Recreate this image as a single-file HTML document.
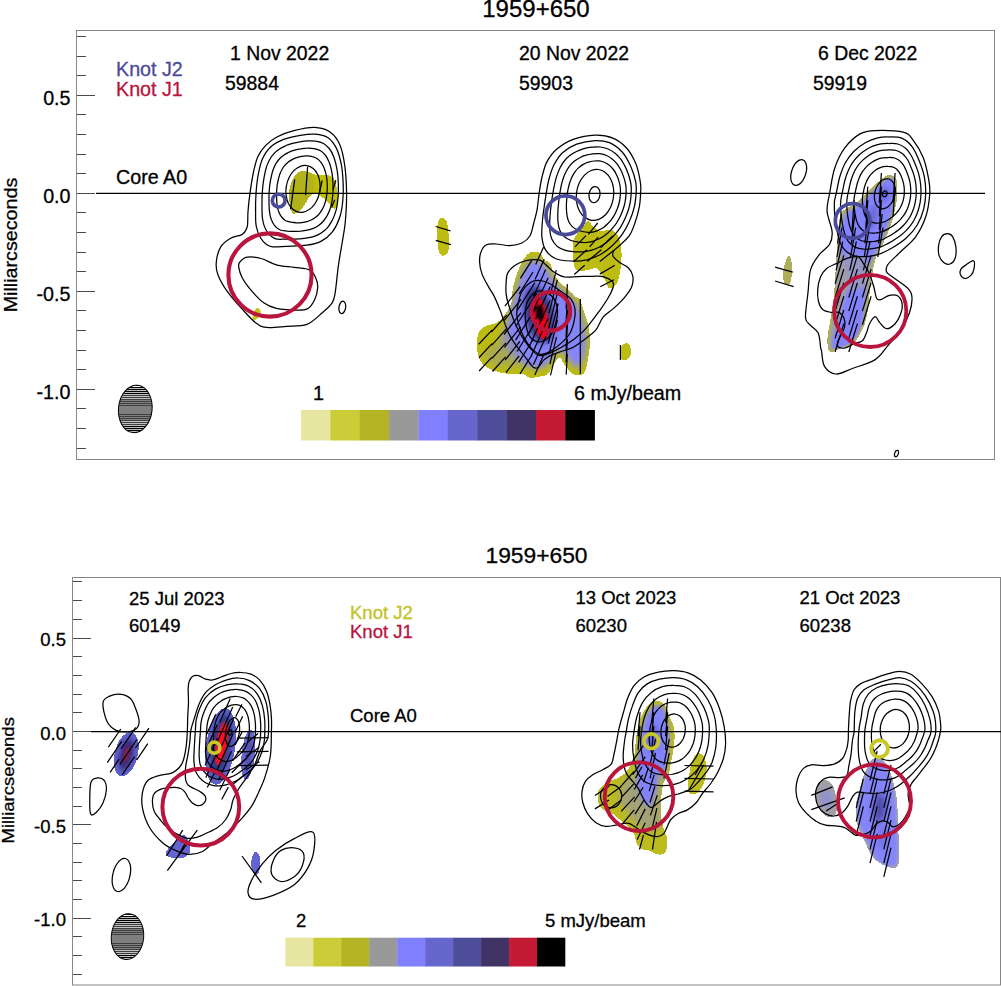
<!DOCTYPE html><html><head><meta charset="utf-8"><title>1959+650</title><style>html,body{margin:0;padding:0;background:#fff;overflow:hidden}svg{display:block}text{font-family:"Liberation Sans",sans-serif;fill:#000;stroke:#000;stroke-width:0.3px;paint-order:stroke}</style></head><body><svg width="1001" height="986" viewBox="0 0 1001 986"><rect width="1001" height="986" fill="#fff"/><defs><filter id="bl1" x="-40%" y="-40%" width="180%" height="180%"><feGaussianBlur stdDeviation="1.3"/></filter><filter id="bl2" x="-40%" y="-40%" width="180%" height="180%"><feGaussianBlur stdDeviation="2.2"/></filter><filter id="bl3" x="-40%" y="-40%" width="180%" height="180%"><feGaussianBlur stdDeviation="3.0"/></filter></defs><g id="top"><clipPath id="s1clip"><path d="M300 171h6v1h-6zM298 172.0h12v1h-12zM297 173.0h15v1h-15zM296 174.0h19v1h-19zM295 175.0h34v1h-34zM294 176.0h37v1h-37zM294 177.0h39v1h-39zM293 178.0h41v1h-41zM293 179.0h41v1h-41zM292 180.0h43v1h-43zM292 181.0h43v1h-43zM291 182.0h45v1h-45zM291 183.0h45v1h-45zM291 184.0h45v1h-45zM290 185.0h46v1h-46zM290 186.0h46v1h-46zM290 187.0h47v1h-47zM290 188.0h47v1h-47zM289 189.0h48v1h-48zM289 190.0h48v1h-48zM289 191.0h48v1h-48zM289 192.0h48v1h-48zM289 193.0h49v1h-49zM289 194.0h23v1h-23zM319 194.0h19v1h-19zM289 195.0h22v1h-22zM320 195.0h18v1h-18zM289 196.0h21v1h-21zM321 196.0h17v1h-17zM289 197.0h20v1h-20zM322 197.0h16v1h-16zM289 198.0h19v1h-19zM324 198.0h14v1h-14zM289 199.0h19v1h-19zM325 199.0h13v1h-13zM289 200.0h18v1h-18zM326 200.0h12v1h-12zM289 201.0h18v1h-18zM327 201.0h11v1h-11zM290 202.0h16v1h-16zM328 202.0h10v1h-10zM290 203.0h15v1h-15zM329 203.0h8v1h-8zM290 204.0h15v1h-15zM330 204.0h7v1h-7zM290 205.0h14v1h-14zM330 205.0h7v1h-7zM290 206.0h13v1h-13zM331 206.0h5v1h-5zM291 207.0h12v1h-12zM332 207.0h4v1h-4zM291 208.0h11v1h-11zM334 208.0h1v1h-1zM291 209.0h10v1h-10zM291 210.0h9v1h-9zM292 211.0h7v1h-7zM292 212.0h6v1h-6zM293 213.0h2v1h-2z"/></clipPath><path d="M300 171h6v1h-6zM298 172.0h12v1h-12zM297 173.0h15v1h-15zM296 174.0h19v1h-19zM295 175.0h34v1h-34zM294 176.0h37v1h-37zM294 177.0h39v1h-39zM293 178.0h41v1h-41zM293 179.0h41v1h-41zM292 180.0h43v1h-43zM292 181.0h43v1h-43zM291 182.0h45v1h-45zM291 183.0h45v1h-45zM291 184.0h45v1h-45zM290 185.0h46v1h-46zM290 186.0h46v1h-46zM290 187.0h47v1h-47zM290 188.0h47v1h-47zM289 189.0h48v1h-48zM289 190.0h48v1h-48zM289 191.0h48v1h-48zM289 192.0h48v1h-48zM289 193.0h49v1h-49zM289 194.0h23v1h-23zM319 194.0h19v1h-19zM289 195.0h22v1h-22zM320 195.0h18v1h-18zM289 196.0h21v1h-21zM321 196.0h17v1h-17zM289 197.0h20v1h-20zM322 197.0h16v1h-16zM289 198.0h19v1h-19zM324 198.0h14v1h-14zM289 199.0h19v1h-19zM325 199.0h13v1h-13zM289 200.0h18v1h-18zM326 200.0h12v1h-12zM289 201.0h18v1h-18zM327 201.0h11v1h-11zM290 202.0h16v1h-16zM328 202.0h10v1h-10zM290 203.0h15v1h-15zM329 203.0h8v1h-8zM290 204.0h15v1h-15zM330 204.0h7v1h-7zM290 205.0h14v1h-14zM330 205.0h7v1h-7zM290 206.0h13v1h-13zM331 206.0h5v1h-5zM291 207.0h12v1h-12zM332 207.0h4v1h-4zM291 208.0h11v1h-11zM334 208.0h1v1h-1zM291 209.0h10v1h-10zM291 210.0h9v1h-9zM292 211.0h7v1h-7zM292 212.0h6v1h-6zM293 213.0h2v1h-2z" fill="#c0c008"/><g clip-path="url(#s1clip)"><path d="M301.0 169.7C303.6 169.2 307.4 169.5 309.5 171.1C311.6 172.8 313.2 175.8 313.8 179.6C314.4 183.4 314.2 189.6 313.1 193.8C311.9 198.1 309.2 201.6 306.7 205.2C304.2 208.7 301.0 213.5 298.2 215.1C295.3 216.8 291.5 217.7 289.6 215.1C287.7 212.5 287.0 204.7 286.8 199.5C286.6 194.3 287.0 188.2 288.2 183.9C289.4 179.6 291.8 176.3 293.9 174.0C296.0 171.6 298.4 170.2 301.0 169.7Z" fill="#b2b21e" filter="url(#bl1)"/></g><path d="M256.1 308.4C257.2 307.4 259.1 308.5 259.9 309.4C260.6 310.4 261.1 312.7 260.6 314.2C260.2 315.8 258.5 317.6 257.3 318.6C256.1 319.5 254.3 320.6 253.5 320.1C252.8 319.6 252.3 317.5 252.8 315.5C253.2 313.6 254.9 309.4 256.1 308.4Z" fill="#c3c31a"/><clipPath id="s2clip"><path d="M530 252.0h9v1h-9zM529 253.0h12v1h-12zM527 254.0h14v1h-14zM526 255.0h16v1h-16zM526 256.0h16v1h-16zM525 257.0h18v1h-18zM524 258.0h19v1h-19zM523 259.0h21v1h-21zM523 260.0h22v1h-22zM522 261.0h26v1h-26zM522 262.0h27v1h-27zM521 263.0h29v1h-29zM521 264.0h30v1h-30zM520 265.0h31v1h-31zM520 266.0h31v1h-31zM519 267.0h33v1h-33zM519 268.0h33v1h-33zM519 269.0h33v1h-33zM518 270.0h34v1h-34zM518 271.0h35v1h-35zM517 272.0h36v1h-36zM517 273.0h37v1h-37zM517 274.0h37v1h-37zM516 275.0h39v1h-39zM516 276.0h39v1h-39zM516 277.0h40v1h-40zM515 278.0h42v1h-42zM515 279.0h43v1h-43zM515 280.0h43v1h-43zM515 281.0h44v1h-44zM514 282.0h46v1h-46zM514 283.0h47v1h-47zM514 284.0h48v1h-48zM513 285.0h50v1h-50zM513 286.0h52v1h-52zM513 287.0h53v1h-53zM513 288.0h54v1h-54zM513 289.0h55v1h-55zM513 290.0h56v1h-56zM512 291.0h58v1h-58zM512 292.0h59v1h-59zM512 293.0h61v1h-61zM512 294.0h61v1h-61zM512 295.0h62v1h-62zM512 296.0h63v1h-63zM512 297.0h65v1h-65zM512 298.0h67v1h-67zM512 299.0h68v1h-68zM512 300.0h68v1h-68zM512 301.0h69v1h-69zM511 302.0h70v1h-70zM511 303.0h70v1h-70zM511 304.0h71v1h-71zM510 305.0h72v1h-72zM510 306.0h72v1h-72zM509 307.0h74v1h-74zM509 308.0h74v1h-74zM508 309.0h75v1h-75zM508 310.0h76v1h-76zM507 311.0h77v1h-77zM506 312.0h78v1h-78zM506 313.0h79v1h-79zM505 314.0h80v1h-80zM504 315.0h81v1h-81zM503 316.0h83v1h-83zM503 317.0h83v1h-83zM502 318.0h84v1h-84zM501 319.0h86v1h-86zM500 320.0h87v1h-87zM498 321.0h89v1h-89zM497 322.0h91v1h-91zM495 323.0h93v1h-93zM491 324.0h97v1h-97zM487 325.0h101v1h-101zM485 326.0h104v1h-104zM483 327.0h106v1h-106zM482 328.0h107v1h-107zM481 329.0h108v1h-108zM480 330.0h109v1h-109zM479 331.0h110v1h-110zM479 332.0h110v1h-110zM478 333.0h112v1h-112zM478 334.0h112v1h-112zM478 335.0h112v1h-112zM478 336.0h112v1h-112zM477 337.0h113v1h-113zM477 338.0h113v1h-113zM477 339.0h113v1h-113zM477 340.0h113v1h-113zM477 341.0h113v1h-113zM477 342.0h113v1h-113zM477 343.0h113v1h-113zM477 344.0h113v1h-113zM477 345.0h113v1h-113zM477 346.0h113v1h-113zM477 347.0h113v1h-113zM477 348.0h113v1h-113zM477 349.0h112v1h-112zM477 350.0h112v1h-112zM477 351.0h112v1h-112zM478 352.0h111v1h-111zM478 353.0h111v1h-111zM478 354.0h111v1h-111zM478 355.0h111v1h-111zM479 356.0h109v1h-109zM479 357.0h109v1h-109zM479 358.0h79v1h-79zM561 358.0h27v1h-27zM480 359.0h77v1h-77zM562 359.0h26v1h-26zM480 360.0h76v1h-76zM562 360.0h26v1h-26zM481 361.0h75v1h-75zM562 361.0h26v1h-26zM482 362.0h73v1h-73zM563 362.0h24v1h-24zM482 363.0h72v1h-72zM564 363.0h23v1h-23zM483 364.0h70v1h-70zM564 364.0h23v1h-23zM484 365.0h69v1h-69zM565 365.0h22v1h-22zM486 366.0h66v1h-66zM566 366.0h21v1h-21zM487 367.0h65v1h-65zM567 367.0h19v1h-19zM489 368.0h62v1h-62zM568 368.0h18v1h-18zM491 369.0h60v1h-60zM568 369.0h18v1h-18zM494 370.0h56v1h-56zM569 370.0h16v1h-16zM497 371.0h53v1h-53zM570 371.0h15v1h-15zM500 372.0h49v1h-49zM571 372.0h13v1h-13zM506 373.0h42v1h-42zM572 373.0h12v1h-12zM524 374.0h23v1h-23zM574 374.0h8v1h-8zM526 375.0h19v1h-19zM527 376.0h13v1h-13zM529 377.0h6v1h-6z"/></clipPath><path d="M530 252.0h9v1h-9zM529 253.0h12v1h-12zM527 254.0h14v1h-14zM526 255.0h16v1h-16zM526 256.0h16v1h-16zM525 257.0h18v1h-18zM524 258.0h19v1h-19zM523 259.0h21v1h-21zM523 260.0h22v1h-22zM522 261.0h26v1h-26zM522 262.0h27v1h-27zM521 263.0h29v1h-29zM521 264.0h30v1h-30zM520 265.0h31v1h-31zM520 266.0h31v1h-31zM519 267.0h33v1h-33zM519 268.0h33v1h-33zM519 269.0h33v1h-33zM518 270.0h34v1h-34zM518 271.0h35v1h-35zM517 272.0h36v1h-36zM517 273.0h37v1h-37zM517 274.0h37v1h-37zM516 275.0h39v1h-39zM516 276.0h39v1h-39zM516 277.0h40v1h-40zM515 278.0h42v1h-42zM515 279.0h43v1h-43zM515 280.0h43v1h-43zM515 281.0h44v1h-44zM514 282.0h46v1h-46zM514 283.0h47v1h-47zM514 284.0h48v1h-48zM513 285.0h50v1h-50zM513 286.0h52v1h-52zM513 287.0h53v1h-53zM513 288.0h54v1h-54zM513 289.0h55v1h-55zM513 290.0h56v1h-56zM512 291.0h58v1h-58zM512 292.0h59v1h-59zM512 293.0h61v1h-61zM512 294.0h61v1h-61zM512 295.0h62v1h-62zM512 296.0h63v1h-63zM512 297.0h65v1h-65zM512 298.0h67v1h-67zM512 299.0h68v1h-68zM512 300.0h68v1h-68zM512 301.0h69v1h-69zM511 302.0h70v1h-70zM511 303.0h70v1h-70zM511 304.0h71v1h-71zM510 305.0h72v1h-72zM510 306.0h72v1h-72zM509 307.0h74v1h-74zM509 308.0h74v1h-74zM508 309.0h75v1h-75zM508 310.0h76v1h-76zM507 311.0h77v1h-77zM506 312.0h78v1h-78zM506 313.0h79v1h-79zM505 314.0h80v1h-80zM504 315.0h81v1h-81zM503 316.0h83v1h-83zM503 317.0h83v1h-83zM502 318.0h84v1h-84zM501 319.0h86v1h-86zM500 320.0h87v1h-87zM498 321.0h89v1h-89zM497 322.0h91v1h-91zM495 323.0h93v1h-93zM491 324.0h97v1h-97zM487 325.0h101v1h-101zM485 326.0h104v1h-104zM483 327.0h106v1h-106zM482 328.0h107v1h-107zM481 329.0h108v1h-108zM480 330.0h109v1h-109zM479 331.0h110v1h-110zM479 332.0h110v1h-110zM478 333.0h112v1h-112zM478 334.0h112v1h-112zM478 335.0h112v1h-112zM478 336.0h112v1h-112zM477 337.0h113v1h-113zM477 338.0h113v1h-113zM477 339.0h113v1h-113zM477 340.0h113v1h-113zM477 341.0h113v1h-113zM477 342.0h113v1h-113zM477 343.0h113v1h-113zM477 344.0h113v1h-113zM477 345.0h113v1h-113zM477 346.0h113v1h-113zM477 347.0h113v1h-113zM477 348.0h113v1h-113zM477 349.0h112v1h-112zM477 350.0h112v1h-112zM477 351.0h112v1h-112zM478 352.0h111v1h-111zM478 353.0h111v1h-111zM478 354.0h111v1h-111zM478 355.0h111v1h-111zM479 356.0h109v1h-109zM479 357.0h109v1h-109zM479 358.0h79v1h-79zM561 358.0h27v1h-27zM480 359.0h77v1h-77zM562 359.0h26v1h-26zM480 360.0h76v1h-76zM562 360.0h26v1h-26zM481 361.0h75v1h-75zM562 361.0h26v1h-26zM482 362.0h73v1h-73zM563 362.0h24v1h-24zM482 363.0h72v1h-72zM564 363.0h23v1h-23zM483 364.0h70v1h-70zM564 364.0h23v1h-23zM484 365.0h69v1h-69zM565 365.0h22v1h-22zM486 366.0h66v1h-66zM566 366.0h21v1h-21zM487 367.0h65v1h-65zM567 367.0h19v1h-19zM489 368.0h62v1h-62zM568 368.0h18v1h-18zM491 369.0h60v1h-60zM568 369.0h18v1h-18zM494 370.0h56v1h-56zM569 370.0h16v1h-16zM497 371.0h53v1h-53zM570 371.0h15v1h-15zM500 372.0h49v1h-49zM571 372.0h13v1h-13zM506 373.0h42v1h-42zM572 373.0h12v1h-12zM524 374.0h23v1h-23zM574 374.0h8v1h-8zM526 375.0h19v1h-19zM527 376.0h13v1h-13zM529 377.0h6v1h-6z" fill="#bcbc12"/><path d="M587 221.0h2v1h-2zM586 222.0h4v1h-4zM585 223.0h6v1h-6zM585 224.0h6v1h-6zM584 225.0h8v1h-8zM583 226.0h10v1h-10zM582 227.0h12v1h-12zM582 228.0h14v1h-14zM581 229.0h16v1h-16zM580 230.0h18v1h-18zM605 230.0h8v1h-8zM579 231.0h35v1h-35zM578 232.0h37v1h-37zM577 233.0h39v1h-39zM577 234.0h40v1h-40zM576 235.0h42v1h-42zM575 236.0h43v1h-43zM575 237.0h44v1h-44zM574 238.0h45v1h-45zM574 239.0h45v1h-45zM573 240.0h47v1h-47zM573 241.0h47v1h-47zM573 242.0h47v1h-47zM573 243.0h47v1h-47zM573 244.0h48v1h-48zM573 245.0h48v1h-48zM573 246.0h48v1h-48zM573 247.0h48v1h-48zM573 248.0h48v1h-48zM573 249.0h48v1h-48zM573 250.0h48v1h-48zM573 251.0h48v1h-48zM573 252.0h48v1h-48zM573 253.0h49v1h-49zM573 254.0h49v1h-49zM573 255.0h49v1h-49zM573 256.0h49v1h-49zM573 257.0h48v1h-48zM573 258.0h48v1h-48zM573 259.0h48v1h-48zM573 260.0h48v1h-48zM573 261.0h48v1h-48zM574 262.0h47v1h-47zM574 263.0h47v1h-47zM574 264.0h47v1h-47zM574 265.0h47v1h-47zM574 266.0h47v1h-47zM575 267.0h46v1h-46zM575 268.0h18v1h-18zM597 268.0h24v1h-24zM576 269.0h14v1h-14zM598 269.0h22v1h-22zM578 270.0h7v1h-7zM599 270.0h21v1h-21zM600 271.0h20v1h-20zM600 272.0h20v1h-20zM601 273.0h19v1h-19zM602 274.0h18v1h-18zM602 275.0h17v1h-17zM603 276.0h16v1h-16zM603 277.0h16v1h-16zM604 278.0h15v1h-15zM605 279.0h13v1h-13zM605 280.0h13v1h-13zM606 281.0h12v1h-12zM606 282.0h11v1h-11zM606 283.0h11v1h-11zM607 284.0h9v1h-9zM607 285.0h8v1h-8zM608 286.0h6v1h-6zM608 287.0h5v1h-5zM625 343.0h3v1h-3zM623 344.0h6v1h-6zM622 345.0h8v1h-8zM621 346.0h9v1h-9zM621 347.0h9v1h-9zM621 348.0h10v1h-10zM620 349.0h11v1h-11zM620 350.0h11v1h-11zM620 351.0h11v1h-11zM620 352.0h11v1h-11zM620 353.0h11v1h-11zM620 354.0h11v1h-11zM620 355.0h10v1h-10zM621 356.0h9v1h-9zM621 357.0h8v1h-8zM621 358.0h7v1h-7zM622 359.0h5v1h-5zM440 218.0h4v1h-4zM439 219.0h6v1h-6zM439 220.0h7v1h-7zM438 221.0h9v1h-9zM438 222.0h9v1h-9zM438 223.0h9v1h-9zM438 224.0h9v1h-9zM437 225.0h11v1h-11zM437 226.0h11v1h-11zM437 227.0h11v1h-11zM437 228.0h11v1h-11zM437 229.0h11v1h-11zM437 230.0h11v1h-11zM437 231.0h11v1h-11zM437 232.0h11v1h-11zM437 233.0h12v1h-12zM437 234.0h12v1h-12zM437 235.0h12v1h-12zM437 236.0h12v1h-12zM437 237.0h12v1h-12zM437 238.0h12v1h-12zM437 239.0h12v1h-12zM437 240.0h12v1h-12zM437 241.0h12v1h-12zM438 242.0h11v1h-11zM438 243.0h11v1h-11zM438 244.0h11v1h-11zM438 245.0h11v1h-11zM438 246.0h11v1h-11zM438 247.0h11v1h-11zM438 248.0h11v1h-11zM438 249.0h11v1h-11zM439 250.0h9v1h-9zM439 251.0h9v1h-9zM439 252.0h9v1h-9zM440 253.0h7v1h-7zM441 254.0h5v1h-5zM442 255.0h2v1h-2z" fill="#bcbc12"/><g clip-path="url(#s2clip)"><path d="M532.9 260.0C535.5 260.0 540.1 260.8 542.9 263.0C545.7 265.1 547.8 269.6 549.9 272.9C552.0 276.3 553.2 279.9 555.5 282.9C557.8 285.9 561.2 288.5 563.9 290.9C566.6 293.4 569.4 294.7 571.9 297.5C574.4 300.4 576.8 303.5 578.9 307.9C580.9 312.3 583.0 318.6 584.3 323.9C585.5 329.2 586.3 334.2 586.3 339.9C586.2 345.5 585.3 353.2 583.9 357.9C582.5 362.5 580.3 367.4 577.9 367.9C575.5 368.4 572.5 363.9 569.5 360.9C566.5 357.9 562.8 350.2 559.9 349.9C557.0 349.5 554.6 356.0 551.9 358.9C549.2 361.7 547.1 365.4 543.9 366.9C540.8 368.4 536.8 368.5 532.9 367.9C529.1 367.2 524.6 365.2 520.9 362.9C517.3 360.5 513.9 357.4 510.9 353.9C508.0 350.4 503.5 347.5 503.0 341.9C502.5 336.2 506.2 326.9 508.0 319.9C509.7 312.9 511.9 305.7 513.5 299.9C515.1 294.1 516.1 289.5 517.5 284.9C519.0 280.3 520.7 276.0 522.3 272.3C524.0 268.7 525.8 265.0 527.5 263.0C529.3 260.9 530.4 260.0 532.9 260.0Z" fill="#8585fa" filter="url(#bl3)"/><path d="M508.0 331.9C505.0 330.6 503.0 337.2 500.0 339.9C497.0 342.5 492.6 345.2 490.0 347.9C487.3 350.5 483.6 353.2 484.0 355.9C484.3 358.5 488.3 362.2 492.0 363.9C495.6 365.5 501.3 365.9 506.0 365.9C510.6 365.9 517.9 366.9 519.9 363.9C521.9 360.9 519.9 353.2 517.9 347.9C515.9 342.5 510.9 333.2 508.0 331.9Z" fill="#9a9a8a" opacity="0.55" filter="url(#bl3)"/><path d="M553.2 311.5C554.1 315.6 554.5 320.2 554.4 324.1C554.3 328.0 553.6 331.9 552.6 334.8C551.5 337.7 549.8 340.1 548.0 341.5C546.2 342.8 543.9 343.3 541.7 342.8C539.5 342.3 537.0 340.8 534.9 338.6C532.7 336.3 530.5 333.0 528.8 329.5C527.2 326.0 525.7 321.6 524.8 317.5C523.9 313.4 523.5 308.8 523.6 304.9C523.7 301.0 524.4 297.1 525.4 294.2C526.5 291.3 528.2 288.9 530.0 287.5C531.8 286.2 534.1 285.7 536.3 286.2C538.5 286.7 541.0 288.2 543.1 290.4C545.3 292.7 547.5 296.0 549.2 299.5C550.8 303.0 552.3 307.4 553.2 311.5Z" fill="#38388c" filter="url(#bl3)"/><path d="M549.3 313.9C550.0 317.3 550.4 321.1 550.5 324.3C550.5 327.5 550.2 330.7 549.5 333.1C548.8 335.4 547.8 337.4 546.5 338.4C545.3 339.5 543.7 339.8 542.2 339.3C540.6 338.9 538.9 337.5 537.3 335.7C535.7 333.8 534.1 331.0 532.9 328.1C531.6 325.1 530.4 321.5 529.7 318.1C529.0 314.7 528.6 310.9 528.5 307.7C528.5 304.5 528.8 301.3 529.5 298.9C530.2 296.6 531.2 294.6 532.5 293.6C533.7 292.5 535.3 292.2 536.8 292.7C538.4 293.1 540.1 294.5 541.7 296.3C543.3 298.2 544.9 301.0 546.1 303.9C547.4 306.9 548.6 310.5 549.3 313.9Z" fill="#2a3a80" filter="url(#bl2)"/><path d="M547.8 316.7C548.4 320.2 548.7 324.3 548.6 327.4C548.6 330.6 548.0 333.7 547.3 335.7C546.5 337.6 545.3 339.0 544.0 339.2C542.8 339.4 541.2 338.6 539.8 337.0C538.4 335.4 536.8 332.7 535.7 329.7C534.5 326.8 533.4 322.8 532.8 319.3C532.2 315.8 531.9 311.7 532.0 308.6C532.0 305.4 532.6 302.3 533.3 300.3C534.1 298.4 535.3 297.0 536.6 296.8C537.8 296.6 539.4 297.4 540.8 299.0C542.2 300.6 543.8 303.3 544.9 306.3C546.1 309.2 547.2 313.2 547.8 316.7Z" fill="#f5061a" filter="url(#bl1)"/><path d="M543.7 312.2C543.8 313.8 543.7 315.6 543.4 316.9C543.1 318.3 542.5 319.5 541.8 320.0C541.1 320.6 540.2 320.7 539.4 320.3C538.6 319.9 537.7 318.8 537.2 317.6C536.6 316.4 536.1 314.6 535.9 313.0C535.8 311.4 535.9 309.6 536.2 308.3C536.5 306.9 537.1 305.7 537.8 305.2C538.5 304.6 539.4 304.5 540.2 304.9C541.0 305.3 541.9 306.4 542.4 307.6C543.0 308.8 543.5 310.6 543.7 312.2Z" fill="#100008" filter="url(#bl1)"/></g><clipPath id="s3clip"><path d="M887 175.0h5v1h-5zM885 176.0h9v1h-9zM884 177.0h11v1h-11zM882 178.0h14v1h-14zM881 179.0h15v1h-15zM880 180.0h17v1h-17zM879 181.0h18v1h-18zM877 182.0h20v1h-20zM876 183.0h21v1h-21zM875 184.0h22v1h-22zM874 185.0h23v1h-23zM873 186.0h24v1h-24zM872 187.0h25v1h-25zM871 188.0h26v1h-26zM870 189.0h27v1h-27zM869 190.0h28v1h-28zM868 191.0h29v1h-29zM867 192.0h30v1h-30zM866 193.0h31v1h-31zM865 194.0h32v1h-32zM864 195.0h33v1h-33zM863 196.0h34v1h-34zM862 197.0h35v1h-35zM861 198.0h36v1h-36zM860 199.0h37v1h-37zM859 200.0h38v1h-38zM858 201.0h39v1h-39zM856 202.0h40v1h-40zM855 203.0h41v1h-41zM854 204.0h42v1h-42zM852 205.0h44v1h-44zM850 206.0h46v1h-46zM848 207.0h47v1h-47zM846 208.0h49v1h-49zM845 209.0h50v1h-50zM843 210.0h52v1h-52zM842 211.0h53v1h-53zM842 212.0h52v1h-52zM841 213.0h53v1h-53zM841 214.0h53v1h-53zM840 215.0h54v1h-54zM840 216.0h53v1h-53zM840 217.0h53v1h-53zM840 218.0h53v1h-53zM839 219.0h54v1h-54zM839 220.0h53v1h-53zM839 221.0h53v1h-53zM839 222.0h53v1h-53zM839 223.0h52v1h-52zM839 224.0h52v1h-52zM839 225.0h52v1h-52zM838 226.0h52v1h-52zM838 227.0h52v1h-52zM838 228.0h52v1h-52zM838 229.0h51v1h-51zM838 230.0h51v1h-51zM838 231.0h50v1h-50zM838 232.0h50v1h-50zM838 233.0h50v1h-50zM838 234.0h49v1h-49zM838 235.0h49v1h-49zM838 236.0h48v1h-48zM838 237.0h48v1h-48zM838 238.0h47v1h-47zM838 239.0h47v1h-47zM838 240.0h46v1h-46zM837 241.0h47v1h-47zM837 242.0h47v1h-47zM837 243.0h46v1h-46zM837 244.0h46v1h-46zM837 245.0h45v1h-45zM837 246.0h45v1h-45zM837 247.0h44v1h-44zM837 248.0h43v1h-43zM837 249.0h42v1h-42zM837 250.0h42v1h-42zM837 251.0h41v1h-41zM837 252.0h41v1h-41zM837 253.0h41v1h-41zM837 254.0h40v1h-40zM837 255.0h40v1h-40zM837 256.0h39v1h-39zM836 257.0h40v1h-40zM836 258.0h40v1h-40zM836 259.0h39v1h-39zM836 260.0h39v1h-39zM836 261.0h39v1h-39zM836 262.0h39v1h-39zM836 263.0h38v1h-38zM836 264.0h38v1h-38zM836 265.0h38v1h-38zM836 266.0h38v1h-38zM836 267.0h37v1h-37zM836 268.0h37v1h-37zM836 269.0h37v1h-37zM836 270.0h37v1h-37zM836 271.0h37v1h-37zM835 272.0h38v1h-38zM835 273.0h37v1h-37zM835 274.0h37v1h-37zM835 275.0h37v1h-37zM835 276.0h37v1h-37zM835 277.0h37v1h-37zM835 278.0h37v1h-37zM835 279.0h37v1h-37zM835 280.0h37v1h-37zM835 281.0h36v1h-36zM835 282.0h36v1h-36zM835 283.0h36v1h-36zM835 284.0h36v1h-36zM835 285.0h36v1h-36zM835 286.0h36v1h-36zM835 287.0h35v1h-35zM834 288.0h36v1h-36zM834 289.0h36v1h-36zM834 290.0h36v1h-36zM834 291.0h36v1h-36zM834 292.0h36v1h-36zM834 293.0h36v1h-36zM834 294.0h35v1h-35zM834 295.0h35v1h-35zM834 296.0h35v1h-35zM834 297.0h35v1h-35zM834 298.0h35v1h-35zM833 299.0h36v1h-36zM833 300.0h36v1h-36zM833 301.0h36v1h-36zM833 302.0h36v1h-36zM833 303.0h36v1h-36zM833 304.0h36v1h-36zM833 305.0h35v1h-35zM832 306.0h36v1h-36zM832 307.0h36v1h-36zM832 308.0h36v1h-36zM832 309.0h36v1h-36zM832 310.0h36v1h-36zM832 311.0h36v1h-36zM832 312.0h35v1h-35zM831 313.0h36v1h-36zM831 314.0h36v1h-36zM831 315.0h36v1h-36zM831 316.0h36v1h-36zM831 317.0h35v1h-35zM831 318.0h35v1h-35zM830 319.0h36v1h-36zM830 320.0h36v1h-36zM830 321.0h35v1h-35zM830 322.0h35v1h-35zM830 323.0h35v1h-35zM830 324.0h35v1h-35zM829 325.0h35v1h-35zM829 326.0h35v1h-35zM829 327.0h34v1h-34zM829 328.0h34v1h-34zM829 329.0h33v1h-33zM828 330.0h34v1h-34zM828 331.0h33v1h-33zM828 332.0h33v1h-33zM828 333.0h32v1h-32zM828 334.0h32v1h-32zM828 335.0h31v1h-31zM828 336.0h31v1h-31zM828 337.0h30v1h-30zM827 338.0h30v1h-30zM827 339.0h30v1h-30zM827 340.0h29v1h-29zM827 341.0h28v1h-28zM827 342.0h27v1h-27zM827 343.0h26v1h-26zM828 344.0h23v1h-23zM828 345.0h22v1h-22zM828 346.0h20v1h-20zM828 347.0h14v1h-14zM828 348.0h12v1h-12zM828 349.0h10v1h-10zM829 350.0h7v1h-7zM830 351.0h4v1h-4z"/></clipPath><path d="M887 175.0h5v1h-5zM885 176.0h9v1h-9zM884 177.0h11v1h-11zM882 178.0h14v1h-14zM881 179.0h15v1h-15zM880 180.0h17v1h-17zM879 181.0h18v1h-18zM877 182.0h20v1h-20zM876 183.0h21v1h-21zM875 184.0h22v1h-22zM874 185.0h23v1h-23zM873 186.0h24v1h-24zM872 187.0h25v1h-25zM871 188.0h26v1h-26zM870 189.0h27v1h-27zM869 190.0h28v1h-28zM868 191.0h29v1h-29zM867 192.0h30v1h-30zM866 193.0h31v1h-31zM865 194.0h32v1h-32zM864 195.0h33v1h-33zM863 196.0h34v1h-34zM862 197.0h35v1h-35zM861 198.0h36v1h-36zM860 199.0h37v1h-37zM859 200.0h38v1h-38zM858 201.0h39v1h-39zM856 202.0h40v1h-40zM855 203.0h41v1h-41zM854 204.0h42v1h-42zM852 205.0h44v1h-44zM850 206.0h46v1h-46zM848 207.0h47v1h-47zM846 208.0h49v1h-49zM845 209.0h50v1h-50zM843 210.0h52v1h-52zM842 211.0h53v1h-53zM842 212.0h52v1h-52zM841 213.0h53v1h-53zM841 214.0h53v1h-53zM840 215.0h54v1h-54zM840 216.0h53v1h-53zM840 217.0h53v1h-53zM840 218.0h53v1h-53zM839 219.0h54v1h-54zM839 220.0h53v1h-53zM839 221.0h53v1h-53zM839 222.0h53v1h-53zM839 223.0h52v1h-52zM839 224.0h52v1h-52zM839 225.0h52v1h-52zM838 226.0h52v1h-52zM838 227.0h52v1h-52zM838 228.0h52v1h-52zM838 229.0h51v1h-51zM838 230.0h51v1h-51zM838 231.0h50v1h-50zM838 232.0h50v1h-50zM838 233.0h50v1h-50zM838 234.0h49v1h-49zM838 235.0h49v1h-49zM838 236.0h48v1h-48zM838 237.0h48v1h-48zM838 238.0h47v1h-47zM838 239.0h47v1h-47zM838 240.0h46v1h-46zM837 241.0h47v1h-47zM837 242.0h47v1h-47zM837 243.0h46v1h-46zM837 244.0h46v1h-46zM837 245.0h45v1h-45zM837 246.0h45v1h-45zM837 247.0h44v1h-44zM837 248.0h43v1h-43zM837 249.0h42v1h-42zM837 250.0h42v1h-42zM837 251.0h41v1h-41zM837 252.0h41v1h-41zM837 253.0h41v1h-41zM837 254.0h40v1h-40zM837 255.0h40v1h-40zM837 256.0h39v1h-39zM836 257.0h40v1h-40zM836 258.0h40v1h-40zM836 259.0h39v1h-39zM836 260.0h39v1h-39zM836 261.0h39v1h-39zM836 262.0h39v1h-39zM836 263.0h38v1h-38zM836 264.0h38v1h-38zM836 265.0h38v1h-38zM836 266.0h38v1h-38zM836 267.0h37v1h-37zM836 268.0h37v1h-37zM836 269.0h37v1h-37zM836 270.0h37v1h-37zM836 271.0h37v1h-37zM835 272.0h38v1h-38zM835 273.0h37v1h-37zM835 274.0h37v1h-37zM835 275.0h37v1h-37zM835 276.0h37v1h-37zM835 277.0h37v1h-37zM835 278.0h37v1h-37zM835 279.0h37v1h-37zM835 280.0h37v1h-37zM835 281.0h36v1h-36zM835 282.0h36v1h-36zM835 283.0h36v1h-36zM835 284.0h36v1h-36zM835 285.0h36v1h-36zM835 286.0h36v1h-36zM835 287.0h35v1h-35zM834 288.0h36v1h-36zM834 289.0h36v1h-36zM834 290.0h36v1h-36zM834 291.0h36v1h-36zM834 292.0h36v1h-36zM834 293.0h36v1h-36zM834 294.0h35v1h-35zM834 295.0h35v1h-35zM834 296.0h35v1h-35zM834 297.0h35v1h-35zM834 298.0h35v1h-35zM833 299.0h36v1h-36zM833 300.0h36v1h-36zM833 301.0h36v1h-36zM833 302.0h36v1h-36zM833 303.0h36v1h-36zM833 304.0h36v1h-36zM833 305.0h35v1h-35zM832 306.0h36v1h-36zM832 307.0h36v1h-36zM832 308.0h36v1h-36zM832 309.0h36v1h-36zM832 310.0h36v1h-36zM832 311.0h36v1h-36zM832 312.0h35v1h-35zM831 313.0h36v1h-36zM831 314.0h36v1h-36zM831 315.0h36v1h-36zM831 316.0h36v1h-36zM831 317.0h35v1h-35zM831 318.0h35v1h-35zM830 319.0h36v1h-36zM830 320.0h36v1h-36zM830 321.0h35v1h-35zM830 322.0h35v1h-35zM830 323.0h35v1h-35zM830 324.0h35v1h-35zM829 325.0h35v1h-35zM829 326.0h35v1h-35zM829 327.0h34v1h-34zM829 328.0h34v1h-34zM829 329.0h33v1h-33zM828 330.0h34v1h-34zM828 331.0h33v1h-33zM828 332.0h33v1h-33zM828 333.0h32v1h-32zM828 334.0h32v1h-32zM828 335.0h31v1h-31zM828 336.0h31v1h-31zM828 337.0h30v1h-30zM827 338.0h30v1h-30zM827 339.0h30v1h-30zM827 340.0h29v1h-29zM827 341.0h28v1h-28zM827 342.0h27v1h-27zM827 343.0h26v1h-26zM828 344.0h23v1h-23zM828 345.0h22v1h-22zM828 346.0h20v1h-20zM828 347.0h14v1h-14zM828 348.0h12v1h-12zM828 349.0h10v1h-10zM829 350.0h7v1h-7zM830 351.0h4v1h-4z" fill="#b4b448"/><g clip-path="url(#s3clip)"><path d="M890.9 175.0C892.5 175.5 894.8 176.2 895.9 178.2C897.0 180.1 897.2 182.9 897.3 186.7C897.4 190.5 897.3 195.7 896.6 200.9C895.9 206.1 894.5 212.7 893.1 217.9C891.6 223.1 889.9 227.6 888.1 232.1C886.3 236.6 884.1 241.6 882.4 244.9C880.8 248.2 879.6 248.6 878.2 252.0C876.7 255.4 874.9 260.9 873.8 265.5C872.7 270.1 872.4 275.0 871.6 279.7C870.9 284.4 870.1 289.2 869.5 293.9C868.9 298.6 868.8 303.4 868.1 308.1C867.4 312.8 866.4 318.3 865.3 322.3C864.1 326.3 862.4 329.4 861.0 332.2C859.6 335.1 858.6 337.1 856.7 339.3C854.8 341.6 852.2 344.3 849.6 345.7C847.0 347.1 844.0 346.8 841.1 347.8C838.3 348.9 834.7 351.9 832.6 352.1C830.5 352.3 829.2 351.9 828.3 349.3C827.5 346.7 827.2 342.2 827.6 336.5C828.1 330.8 830.1 322.3 831.2 315.2C832.2 308.1 833.3 301.0 834.0 293.9C834.7 286.8 835.0 279.7 835.4 272.6C835.9 265.5 836.4 258.4 836.9 251.3C837.3 244.2 837.9 235.1 838.3 230.0C838.7 224.9 838.5 223.7 839.1 220.7C839.7 217.8 840.6 214.4 841.9 212.2C843.2 210.1 845.1 209.2 846.9 208.0C848.7 206.8 850.7 206.3 852.6 205.1C854.5 203.9 856.4 202.5 858.3 200.9C860.2 199.2 861.6 197.6 864.0 195.2C866.3 192.8 869.6 189.3 872.5 186.7C875.3 184.1 878.6 181.4 881.0 179.6C883.4 177.7 885.0 176.4 886.7 175.6C888.3 174.8 889.4 174.6 890.9 175.0Z" fill="#9e9eac"/><path d="M890.9 175.0C892.5 175.5 894.8 176.2 895.9 178.2C897.0 180.1 897.2 182.9 897.3 186.7C897.4 190.5 897.3 195.7 896.6 200.9C895.9 206.1 894.5 212.7 893.1 217.9C891.6 223.1 889.9 227.6 888.1 232.1C886.3 236.6 884.1 241.6 882.4 244.9C880.8 248.2 879.6 248.6 878.2 252.0C876.7 255.4 874.9 260.9 873.8 265.5C872.7 270.1 872.4 275.0 871.6 279.7C870.9 284.4 870.1 289.2 869.5 293.9C868.9 298.6 868.8 303.4 868.1 308.1C867.4 312.8 866.4 318.3 865.3 322.3C864.1 326.3 862.4 329.4 861.0 332.2C859.6 335.1 858.6 337.1 856.7 339.3C854.8 341.6 852.2 344.3 849.6 345.7C847.0 347.1 844.0 346.8 841.1 347.8C838.3 348.9 834.7 351.9 832.6 352.1C830.5 352.3 829.2 351.9 828.3 349.3C827.5 346.7 827.2 342.2 827.6 336.5C828.1 330.8 830.1 322.3 831.2 315.2C832.2 308.1 833.3 301.0 834.0 293.9C834.7 286.8 835.0 279.7 835.4 272.6C835.9 265.5 836.4 258.4 836.9 251.3C837.3 244.2 837.9 235.1 838.3 230.0C838.7 224.9 838.5 223.7 839.1 220.7C839.7 217.8 840.6 214.4 841.9 212.2C843.2 210.1 845.1 209.2 846.9 208.0C848.7 206.8 850.7 206.3 852.6 205.1C854.5 203.9 856.4 202.5 858.3 200.9C860.2 199.2 861.6 197.6 864.0 195.2C866.3 192.8 869.6 189.3 872.5 186.7C875.3 184.1 878.6 181.4 881.0 179.6C883.4 177.7 885.0 176.4 886.7 175.6C888.3 174.8 889.4 174.6 890.9 175.0Z" fill="none" stroke="#b4b448" stroke-width="4.2"/><path d="M890.9 175.0C892.5 175.5 894.8 176.2 895.9 178.2C897.0 180.1 897.2 182.9 897.3 186.7C897.4 190.5 897.3 195.7 896.6 200.9C895.9 206.1 894.5 212.7 893.1 217.9C891.6 223.1 889.9 227.6 888.1 232.1C886.3 236.6 884.1 241.6 882.4 244.9C880.8 248.2 879.6 248.6 878.2 252.0C876.7 255.4 874.9 260.9 873.8 265.5C872.7 270.1 872.4 275.0 871.6 279.7C870.9 284.4 870.1 289.2 869.5 293.9C868.9 298.6 868.8 303.4 868.1 308.1C867.4 312.8 866.4 318.3 865.3 322.3C864.1 326.3 862.4 329.4 861.0 332.2C859.6 335.1 858.6 337.1 856.7 339.3C854.8 341.6 852.2 344.3 849.6 345.7C847.0 347.1 844.0 346.8 841.1 347.8C838.3 348.9 834.7 351.9 832.6 352.1C830.5 352.3 829.2 351.9 828.3 349.3C827.5 346.7 827.2 342.2 827.6 336.5C828.1 330.8 830.1 322.3 831.2 315.2C832.2 308.1 833.3 301.0 834.0 293.9C834.7 286.8 835.0 279.7 835.4 272.6C835.9 265.5 836.4 258.4 836.9 251.3C837.3 244.2 837.9 235.1 838.3 230.0C838.7 224.9 838.5 223.7 839.1 220.7C839.7 217.8 840.6 214.4 841.9 212.2C843.2 210.1 845.1 209.2 846.9 208.0C848.7 206.8 850.7 206.3 852.6 205.1C854.5 203.9 856.4 202.5 858.3 200.9C860.2 199.2 861.6 197.6 864.0 195.2C866.3 192.8 869.6 189.3 872.5 186.7C875.3 184.1 878.6 181.4 881.0 179.6C883.4 177.7 885.0 176.4 886.7 175.6C888.3 174.8 889.4 174.6 890.9 175.0Z" fill="none" stroke="#a8a878" stroke-width="7" opacity="0.5" filter="url(#bl1)"/><path d="M889.5 178.9C890.6 179.2 893.0 179.2 893.8 181.0C894.6 182.8 894.5 185.7 894.3 189.5C894.2 193.3 893.8 198.7 892.9 203.7C892.1 208.7 890.7 214.4 889.2 219.3C887.8 224.3 885.8 229.3 884.3 233.5C882.7 237.8 880.8 243.1 879.9 244.9C878.9 246.7 879.5 242.7 878.7 244.2C878.0 245.7 876.7 251.1 875.2 254.1C873.7 257.2 871.4 259.6 869.5 262.7C867.6 265.7 864.5 269.0 863.8 272.6C863.1 276.1 865.0 280.9 865.3 284.0C865.5 287.0 865.8 285.5 865.4 290.6C865.0 295.8 864.0 308.4 863.0 314.9C862.0 321.4 861.1 325.3 859.6 329.4C858.1 333.5 856.0 336.7 853.9 339.3C851.8 341.9 849.4 343.5 846.8 345.0C844.2 346.5 840.6 348.1 838.3 348.6C835.9 349.0 833.5 349.1 832.6 347.8C831.6 346.5 832.1 343.8 832.6 340.7C833.1 337.7 834.2 333.7 835.4 329.4C836.7 325.1 838.4 321.4 840.3 314.9C842.2 308.4 845.5 296.5 846.8 290.6C848.1 284.8 848.2 283.2 848.2 279.7C848.2 276.2 847.7 273.3 846.8 269.8C845.8 266.2 843.7 262.7 842.5 258.4C841.4 254.1 840.3 248.9 839.7 244.2C839.1 239.5 838.4 233.3 839.0 230.0C839.5 226.7 841.9 226.8 842.9 224.3C844.0 221.8 844.3 217.3 845.5 215.1C846.7 212.9 848.4 212.2 850.0 211.1C851.7 210.0 853.6 209.7 855.4 208.5C857.3 207.4 859.2 205.9 861.1 204.3C863.0 202.6 864.5 201.0 866.8 198.6C869.1 196.2 872.3 192.6 875.0 189.9C877.8 187.3 881.2 184.5 883.3 182.7C885.3 180.9 886.3 179.6 887.4 179.0C888.4 178.4 888.4 178.5 889.5 178.9Z" fill="#8383fd" filter="url(#bl1)"/><path d="M836.9 257.0C839.3 253.9 844.7 253.7 849.6 254.1C854.6 254.6 863.1 256.7 866.7 259.8C870.2 262.9 870.9 268.1 870.9 272.6C870.9 277.1 870.7 283.7 866.7 286.8C862.6 289.9 852.0 291.1 846.8 291.1C841.6 291.1 837.4 289.9 835.4 286.8C833.4 283.7 834.5 277.6 834.7 272.6C835.0 267.6 834.4 260.1 836.9 257.0Z" fill="#9e9eac" opacity="0.7" filter="url(#bl2)"/><path d="M876.9 218.1C876.3 220.4 875.3 223.0 874.3 224.7C873.4 226.4 872.1 227.9 871.1 228.4C870.1 228.9 869.0 228.6 868.4 227.7C867.8 226.8 867.3 224.9 867.3 223.0C867.2 221.0 867.6 218.2 868.1 215.9C868.7 213.6 869.7 211.0 870.7 209.3C871.6 207.6 872.9 206.1 873.9 205.6C874.9 205.1 876.0 205.4 876.6 206.3C877.2 207.2 877.7 209.1 877.7 211.0C877.8 213.0 877.4 215.8 876.9 218.1Z" fill="#6a6ad8" filter="url(#bl2)"/><path d="M888.9 194.9C888.6 196.5 887.9 198.2 887.1 199.4C886.3 200.5 885.2 201.4 884.3 201.7C883.4 202.0 882.3 201.8 881.6 201.2C880.8 200.5 880.2 199.2 880.0 197.8C879.7 196.5 879.8 194.6 880.1 193.1C880.4 191.5 881.1 189.8 881.9 188.6C882.7 187.5 883.8 186.6 884.7 186.3C885.6 186.0 886.7 186.2 887.4 186.8C888.2 187.5 888.8 188.8 889.0 190.2C889.3 191.5 889.2 193.4 888.9 194.9Z" fill="#6a6ada" filter="url(#bl2)"/></g><path d="M788 256.0h2v1h-2zM787 257.0h3v1h-3zM787 258.0h4v1h-4zM786 259.0h5v1h-5zM786 260.0h5v1h-5zM786 261.0h5v1h-5zM785 262.0h7v1h-7zM785 263.0h7v1h-7zM785 264.0h7v1h-7zM784 265.0h8v1h-8zM784 266.0h8v1h-8zM784 267.0h8v1h-8zM784 268.0h8v1h-8zM783 269.0h9v1h-9zM783 270.0h9v1h-9zM783 271.0h9v1h-9zM783 272.0h9v1h-9zM783 273.0h9v1h-9zM783 274.0h9v1h-9zM783 275.0h9v1h-9zM783 276.0h9v1h-9zM783 277.0h8v1h-8zM783 278.0h8v1h-8zM783 279.0h8v1h-8zM784 280.0h7v1h-7zM784 281.0h7v1h-7zM784 282.0h6v1h-6zM785 283.0h5v1h-5zM786 284.0h2v1h-2z" fill="#aeae58"/><rect x="76.5" y="30.5" width="918" height="429" fill="none" stroke="#858585" stroke-width="1"/><g stroke="#4a4a4a" stroke-width="1" shape-rendering="auto"><line x1="77" y1="448.50" x2="86" y2="448.50"/><line x1="77" y1="428.50" x2="86" y2="428.50"/><line x1="77" y1="408.50" x2="86" y2="408.50"/><line x1="77" y1="389.50" x2="95" y2="389.50"/><line x1="77" y1="369.50" x2="86" y2="369.50"/><line x1="77" y1="350.50" x2="86" y2="350.50"/><line x1="77" y1="330.50" x2="86" y2="330.50"/><line x1="77" y1="310.50" x2="86" y2="310.50"/><line x1="77" y1="291.50" x2="95" y2="291.50"/><line x1="77" y1="271.50" x2="86" y2="271.50"/><line x1="77" y1="252.50" x2="86" y2="252.50"/><line x1="77" y1="232.50" x2="86" y2="232.50"/><line x1="77" y1="212.50" x2="86" y2="212.50"/><line x1="77" y1="193.50" x2="95" y2="193.50"/><line x1="77" y1="173.50" x2="86" y2="173.50"/><line x1="77" y1="154.50" x2="86" y2="154.50"/><line x1="77" y1="134.50" x2="86" y2="134.50"/><line x1="77" y1="114.50" x2="86" y2="114.50"/><line x1="77" y1="95.50" x2="95" y2="95.50"/><line x1="77" y1="75.50" x2="86" y2="75.50"/><line x1="77" y1="56.50" x2="86" y2="56.50"/><line x1="77" y1="36.50" x2="86" y2="36.50"/></g><line x1="96" y1="193.3" x2="985" y2="193.3" stroke="#000" stroke-width="1.2"/><g fill="none" stroke="#000" stroke-width="1.25" stroke-linejoin="round"><path d="M314.4 127.4C320.3 127.6 325.4 128.9 329.6 131.7C333.8 134.5 337.2 138.7 339.7 144.4C342.3 150.1 343.7 157.7 344.8 165.9C345.9 174.2 346.5 184.5 346.6 193.8C346.7 203.1 346.0 213.7 345.3 221.7C344.6 229.7 343.4 234.8 342.3 242.0C341.1 249.2 339.7 256.4 338.5 264.8C337.3 273.3 336.2 286.4 335.2 292.7C334.1 299.0 334.3 299.5 332.1 302.8C329.9 306.2 326.2 309.4 322.0 313.0C317.8 316.6 312.7 322.2 306.8 324.4C300.9 326.6 293.3 325.9 286.5 326.4C279.7 326.9 271.3 328.0 266.2 327.4C261.1 326.9 259.9 326.0 256.1 323.1C252.3 320.3 248.0 315.5 243.4 310.4C238.7 305.4 232.4 298.6 228.2 292.7C223.9 286.8 220.0 280.0 218.0 274.9C216.0 269.9 215.8 266.9 216.3 262.3C216.7 257.6 218.2 251.1 220.6 247.1C223.0 243.0 227.1 240.3 230.7 238.2C234.3 236.1 239.4 236.3 242.1 234.4C244.9 232.5 246.2 230.6 247.2 226.8C248.2 223.0 247.5 217.1 248.0 211.6C248.4 206.1 249.0 200.3 249.9 193.8C250.8 187.3 252.1 178.7 253.4 172.5C254.7 166.4 255.7 161.4 257.7 156.9C259.7 152.4 262.3 148.9 265.5 145.6C268.7 142.2 272.1 139.5 276.9 137.0C281.6 134.5 287.6 132.3 293.8 130.7C300.1 129.1 308.4 127.2 314.4 127.4Z"/><path d="M315.2 134.2C319.8 134.6 324.4 135.4 328.0 137.7C331.5 140.1 334.2 143.8 336.5 148.4C338.7 153.0 340.3 159.5 341.5 165.4C342.6 171.4 342.9 178.2 343.2 183.9C343.4 189.6 343.4 194.1 342.9 199.5C342.4 205.0 341.8 211.1 340.0 216.5C338.3 222.0 335.4 228.0 332.2 232.2C329.0 236.3 325.1 239.2 320.9 241.4C316.6 243.6 312.4 244.4 306.7 245.2C301.0 246.1 292.5 246.1 286.8 246.4C281.1 246.6 276.0 247.1 272.6 246.8C269.2 246.4 268.2 245.7 266.2 244.2C264.2 242.7 262.2 240.8 260.5 237.8C258.9 234.9 257.1 230.7 256.3 226.5C255.4 222.2 255.6 217.7 255.6 212.3C255.5 206.8 255.6 200.0 256.0 193.8C256.4 187.7 257.0 181.2 258.1 175.4C259.2 169.6 260.2 163.8 262.4 159.0C264.5 154.3 267.3 150.0 270.9 146.7C274.4 143.4 278.8 141.2 283.7 139.3C288.6 137.4 295.0 136.2 300.3 135.3C305.5 134.5 310.6 133.8 315.2 134.2Z"/><path d="M262.5 189.9C262.7 188.0 262.8 186.0 263.1 184.1C263.3 182.2 263.6 180.2 263.9 178.3C264.3 176.3 264.7 174.3 265.1 172.2C265.6 170.2 266.1 168.0 266.8 165.9C267.6 163.8 268.5 161.7 269.6 159.7C270.7 157.7 272.1 155.6 273.7 153.9C275.2 152.1 277.1 150.5 279.1 149.2C281.0 147.8 283.3 146.7 285.5 145.8C287.7 144.8 290.1 144.1 292.5 143.4C294.9 142.8 297.3 142.3 299.8 141.9C302.4 141.4 305.0 141.0 307.6 140.9C310.2 140.8 313.0 140.7 315.7 141.2C318.3 141.6 321.2 142.2 323.5 143.5C325.8 144.8 327.9 146.8 329.6 149.0C331.3 151.1 332.5 153.8 333.5 156.2C334.6 158.7 335.2 161.3 335.8 163.8C336.4 166.2 336.9 168.6 337.2 170.9C337.6 173.2 337.8 175.4 338.0 177.5C338.1 179.7 338.2 181.8 338.3 183.8C338.4 185.9 338.4 187.9 338.4 189.9C338.4 192.0 338.3 194.0 338.2 196.0C338.0 198.0 337.8 200.1 337.5 202.2C337.2 204.3 337.0 206.4 336.5 208.6C336.0 210.8 335.3 212.9 334.5 215.1C333.7 217.3 332.7 219.5 331.5 221.6C330.3 223.7 329.0 225.9 327.3 227.8C325.7 229.6 323.7 231.3 321.6 232.7C319.6 234.1 317.2 235.3 314.9 236.1C312.5 237.0 309.9 237.5 307.4 237.9C304.9 238.4 302.4 238.6 299.8 238.8C297.3 239.0 294.7 239.0 292.1 239.1C289.4 239.2 286.7 239.3 283.8 239.2C281.0 239.2 277.6 239.6 275.0 238.6C272.4 237.6 270.1 235.6 268.2 233.4C266.4 231.3 265.1 228.3 264.1 225.6C263.1 222.9 262.7 219.9 262.3 217.2C262.0 214.5 262.1 211.7 262.0 209.2C262.0 206.7 261.9 204.4 262.0 202.2C262.0 200.0 262.0 198.0 262.1 195.9C262.2 193.9 262.3 191.9 262.5 189.9Z"/><path d="M269.3 189.6C269.5 188.0 269.6 186.4 269.8 184.7C270.1 183.1 270.3 181.5 270.6 179.8C270.9 178.2 271.3 176.5 271.7 174.8C272.1 173.1 272.5 171.3 273.2 169.6C273.8 167.8 274.6 166.1 275.5 164.4C276.5 162.7 277.6 161.0 278.9 159.5C280.2 158.0 281.7 156.6 283.3 155.5C285.0 154.3 286.8 153.3 288.7 152.4C290.5 151.5 292.5 150.8 294.5 150.2C296.5 149.6 298.6 149.1 300.8 148.8C302.9 148.4 305.1 148.1 307.3 148.1C309.6 148.0 311.9 148.1 314.1 148.6C316.3 149.1 318.6 149.7 320.5 150.8C322.5 151.9 324.2 153.7 325.6 155.5C327.0 157.3 328.0 159.5 328.9 161.5C329.8 163.5 330.3 165.7 330.9 167.8C331.4 169.8 331.8 171.7 332.1 173.7C332.4 175.6 332.6 177.4 332.7 179.2C332.9 181.0 333.0 182.8 333.0 184.5C333.1 186.3 333.1 187.9 333.1 189.6C333.0 191.3 332.9 193.0 332.8 194.7C332.6 196.4 332.4 198.1 332.2 199.8C331.9 201.6 331.6 203.4 331.2 205.1C330.8 206.9 330.2 208.7 329.5 210.5C328.8 212.3 328.0 214.1 327.0 215.9C326.0 217.6 324.9 219.4 323.5 221.0C322.2 222.5 320.6 224.0 318.9 225.2C317.2 226.5 315.3 227.5 313.3 228.3C311.4 229.1 309.3 229.7 307.2 230.1C305.1 230.6 302.9 230.9 300.8 231.1C298.6 231.2 296.4 231.3 294.2 231.3C291.9 231.3 289.6 231.3 287.3 231.1C285.0 230.8 282.3 230.9 280.2 230.0C278.1 229.1 276.1 227.4 274.6 225.6C273.1 223.8 272.1 221.4 271.2 219.2C270.4 217.0 269.9 214.5 269.6 212.3C269.2 210.1 269.2 207.8 269.1 205.7C269.0 203.7 269.0 201.8 269.0 200.0C268.9 198.1 269.0 196.4 269.0 194.7C269.1 192.9 269.2 191.3 269.3 189.6Z"/><path d="M276.8 189.3C276.9 188.0 277.0 186.7 277.2 185.4C277.4 184.1 277.6 182.8 277.9 181.5C278.1 180.2 278.4 178.9 278.8 177.6C279.2 176.3 279.5 174.9 280.1 173.6C280.6 172.2 281.2 170.8 282.0 169.5C282.7 168.2 283.6 166.9 284.6 165.7C285.6 164.5 286.7 163.3 288.0 162.3C289.2 161.3 290.6 160.4 292.1 159.6C293.6 158.8 295.1 158.1 296.7 157.6C298.3 157.0 300.0 156.6 301.8 156.3C303.5 156.0 305.3 155.8 307.1 155.9C308.8 156.0 310.7 156.2 312.4 156.7C314.1 157.1 315.8 157.8 317.3 158.8C318.8 159.8 320.1 161.2 321.2 162.6C322.3 164.0 323.1 165.6 323.8 167.2C324.5 168.8 325.0 170.5 325.5 172.1C325.9 173.6 326.3 175.2 326.5 176.7C326.8 178.2 326.9 179.7 327.1 181.1C327.2 182.5 327.2 183.9 327.3 185.3C327.3 186.6 327.3 188.0 327.2 189.3C327.2 190.6 327.1 192.0 326.9 193.3C326.8 194.6 326.6 195.9 326.4 197.3C326.1 198.6 325.9 200.0 325.5 201.4C325.1 202.8 324.6 204.1 324.1 205.5C323.5 206.9 322.9 208.3 322.1 209.7C321.3 211.0 320.5 212.4 319.4 213.6C318.4 214.9 317.2 216.1 315.9 217.1C314.6 218.1 313.2 219.1 311.7 219.8C310.2 220.6 308.5 221.2 306.9 221.6C305.2 222.1 303.5 222.4 301.8 222.6C300.0 222.8 298.2 222.8 296.5 222.8C294.7 222.7 292.9 222.5 291.1 222.2C289.3 221.8 287.3 221.5 285.8 220.7C284.2 219.8 282.8 218.5 281.6 217.0C280.5 215.6 279.6 213.8 278.9 212.2C278.2 210.5 277.8 208.7 277.4 207.0C277.1 205.3 277.0 203.6 276.8 202.0C276.7 200.4 276.6 198.9 276.6 197.5C276.5 196.0 276.5 194.7 276.5 193.3C276.6 191.9 276.7 190.6 276.8 189.3Z"/><path d="M319.6 191.8C319.1 194.8 318.1 197.9 316.8 200.5C315.5 203.1 313.7 205.6 311.9 207.4C310.0 209.2 307.7 210.7 305.6 211.5C303.4 212.3 301.0 212.5 298.9 212.1C296.8 211.8 294.6 210.7 292.8 209.2C291.1 207.8 289.5 205.6 288.3 203.3C287.2 200.9 286.4 198.0 286.1 195.1C285.7 192.2 285.8 188.9 286.4 186.0C286.9 183.0 287.9 179.9 289.2 177.3C290.5 174.7 292.3 172.2 294.1 170.4C296.0 168.6 298.3 167.1 300.4 166.3C302.6 165.5 305.0 165.3 307.1 165.7C309.2 166.0 311.4 167.1 313.2 168.6C314.9 170.0 316.5 172.2 317.7 174.5C318.8 176.9 319.6 179.8 319.9 182.7C320.3 185.6 320.2 188.9 319.6 191.8Z"/><path d="M239.6 262.3C241.0 260.6 243.6 257.8 247.2 257.2C250.8 256.6 256.3 257.2 261.1 258.5C266.0 259.7 270.9 263.3 276.3 264.8C281.8 266.3 288.6 266.5 294.1 267.3C299.6 268.2 305.7 268.2 309.3 269.9C312.9 271.6 314.3 274.5 315.6 277.5C317.0 280.4 317.9 283.8 317.7 287.6C317.5 291.4 316.2 296.7 314.4 300.3C312.6 303.9 310.6 307.6 306.8 309.2C303.0 310.8 296.6 310.1 291.6 309.9C286.5 309.8 281.0 309.6 276.3 308.4C271.7 307.2 267.9 305.9 263.7 302.8C259.4 299.8 254.6 294.4 251.0 290.2C247.4 285.9 244.1 281.3 242.1 277.5C240.1 273.7 239.2 269.9 238.8 267.3C238.4 264.8 238.2 264.0 239.6 262.3Z"/><path d="M345.6 307.9C345.4 309.1 344.9 310.5 344.4 311.4C343.9 312.3 343.2 313.1 342.5 313.4C341.8 313.7 341.0 313.6 340.5 313.1C339.9 312.6 339.4 311.7 339.1 310.6C338.9 309.6 338.9 308.1 339.0 306.9C339.2 305.7 339.7 304.3 340.2 303.4C340.7 302.5 341.4 301.7 342.1 301.4C342.8 301.1 343.6 301.2 344.1 301.7C344.7 302.2 345.2 303.1 345.5 304.2C345.7 305.2 345.7 306.7 345.6 307.9Z"/><line x1="307.6" y1="166.7" x2="305.6" y2="195.1"/><line x1="322.2" y1="180.4" x2="319.6" y2="192.6"/><line x1="335.8" y1="180.2" x2="333.0" y2="189.7"/><line x1="334.7" y1="199.7" x2="331.6" y2="207.5"/><line x1="294.7" y1="179.4" x2="290.6" y2="209.3"/><path d="M595.2 135.2C601.6 135.0 607.0 135.7 612.2 137.8C617.4 139.9 622.5 143.5 626.4 147.7C630.3 152.0 633.3 157.7 635.7 163.3C638.0 169.0 639.5 176.8 640.3 181.8C641.2 186.8 640.8 189.3 640.6 193.6C640.4 197.8 640.2 202.5 639.2 207.4C638.3 212.2 636.6 218.2 634.9 223.0C633.3 227.7 631.9 232.0 629.3 235.7C626.7 239.5 621.9 243.2 619.3 245.7C616.8 248.2 614.9 248.9 613.9 250.6C612.8 252.3 612.1 254.0 613.0 256.0C613.9 257.9 616.7 260.3 619.3 262.3C621.8 264.2 626.0 265.4 628.2 267.7C630.5 269.9 632.1 272.6 632.7 275.7C633.3 278.9 633.2 282.9 631.8 286.5C630.5 290.1 627.6 293.7 624.6 297.3C621.7 300.9 617.5 304.8 613.9 308.1C610.3 311.4 606.1 313.5 603.1 317.1C600.1 320.7 599.1 326.1 595.9 329.9C592.7 333.7 587.9 336.9 583.9 339.9C579.9 342.9 575.9 345.9 571.9 347.9C567.9 349.9 563.6 350.5 559.9 351.9C556.2 353.2 552.6 354.5 549.9 355.9C547.2 357.2 545.9 357.9 543.9 359.9C541.9 361.8 539.8 366.3 537.9 367.5C536.1 368.6 534.9 368.5 532.9 366.9C530.9 365.3 528.4 361.0 525.9 357.9C523.4 354.7 520.6 351.5 517.9 347.9C515.3 344.2 512.1 339.9 510.0 335.9C507.8 331.9 506.6 328.2 505.0 323.9C503.3 319.6 501.8 314.6 500.0 309.9C498.1 305.2 496.0 299.9 494.0 295.9C492.0 291.9 490.0 289.6 488.0 285.9C486.0 282.3 483.4 277.9 482.0 273.9C480.6 270.0 479.7 265.6 479.6 262.0C479.4 258.3 479.9 254.8 481.0 252.0C482.0 249.1 483.5 246.3 486.0 245.0C488.5 243.6 492.0 243.9 496.0 244.0C500.0 244.1 505.6 245.7 510.0 245.6C514.3 245.4 518.6 244.6 521.9 243.0C525.3 241.4 528.0 239.1 529.9 236.0C531.9 232.8 532.4 228.3 533.5 224.0C534.7 219.7 536.0 215.3 537.0 210.2C537.9 205.1 538.3 199.0 539.1 193.6C539.9 188.1 540.6 182.8 541.9 177.5C543.2 172.3 544.4 166.6 546.9 161.9C549.4 157.2 552.4 152.9 556.9 149.1C561.4 145.4 567.5 141.5 573.9 139.2C580.3 136.9 588.8 135.5 595.2 135.2Z"/><path d="M595.2 140.6C600.6 140.4 604.9 140.9 609.4 142.7C613.9 144.6 618.6 148.1 622.2 152.0C625.7 155.9 628.4 161.2 630.7 166.2C632.9 171.1 634.8 177.2 635.7 181.8C636.6 186.4 636.3 189.3 636.1 193.6C635.8 197.8 635.4 202.7 634.2 207.4C633.1 212.0 631.3 217.1 629.3 221.5C627.3 226.0 625.0 230.3 622.2 234.3C619.3 238.4 615.8 242.4 612.2 245.7C608.7 249.0 605.1 251.8 600.9 254.2C596.6 256.6 591.6 258.7 586.7 259.9C581.7 261.0 576.3 261.3 571.1 261.0C565.8 260.8 559.7 260.3 555.4 258.5C551.2 256.6 547.7 253.5 545.5 249.9C543.2 246.4 542.5 241.9 541.9 237.2C541.4 232.4 542.0 226.5 542.4 221.5C542.7 216.6 543.4 212.0 544.1 207.4C544.7 202.7 545.4 198.3 546.2 193.6C547.0 188.8 547.7 183.8 549.0 179.0C550.3 174.2 551.8 169.1 554.0 164.8C556.3 160.4 558.7 156.1 562.5 152.7C566.3 149.3 571.3 146.2 576.7 144.2C582.2 142.2 589.7 140.9 595.2 140.6Z"/><path d="M552.0 198.9C552.3 196.8 552.6 194.8 553.0 192.7C553.3 190.7 553.6 188.7 554.1 186.6C554.5 184.5 554.9 182.5 555.5 180.3C556.0 178.2 556.6 176.0 557.5 173.9C558.3 171.7 559.2 169.5 560.3 167.3C561.5 165.2 562.7 162.9 564.3 161.0C565.9 159.0 567.8 157.2 569.8 155.6C571.9 154.0 574.1 152.6 576.5 151.5C578.8 150.4 581.4 149.5 583.9 148.7C586.5 148.0 589.2 147.5 591.9 147.2C594.6 147.0 597.4 146.7 600.1 147.0C602.8 147.3 605.6 148.0 608.1 149.0C610.6 150.1 613.0 151.6 615.1 153.3C617.2 155.0 619.1 157.0 620.8 159.1C622.4 161.2 623.6 163.7 624.8 165.9C626.0 168.2 627.0 170.5 627.8 172.8C628.7 175.0 629.4 177.3 629.9 179.5C630.5 181.7 631.0 183.9 631.2 186.1C631.4 188.3 631.3 190.5 631.2 192.7C631.1 194.8 631.0 196.8 630.7 198.9C630.5 200.9 630.2 202.9 629.7 204.9C629.3 206.8 628.7 208.8 628.1 210.7C627.5 212.6 626.8 214.4 626.0 216.3C625.3 218.1 624.4 220.0 623.5 221.8C622.6 223.7 621.5 225.6 620.4 227.4C619.2 229.2 617.9 231.0 616.5 232.7C615.0 234.5 613.5 236.2 611.8 237.9C610.0 239.6 608.2 241.3 606.2 242.8C604.1 244.3 601.9 245.8 599.5 247.0C597.1 248.3 594.5 249.4 591.9 250.2C589.2 251.0 586.4 251.6 583.5 251.8C580.6 252.1 577.7 252.0 574.7 251.8C571.7 251.5 568.5 251.3 565.6 250.4C562.7 249.5 559.7 248.3 557.4 246.4C555.0 244.5 553.0 241.8 551.8 239.0C550.5 236.2 550.1 232.6 549.8 229.5C549.4 226.4 549.7 223.2 549.8 220.3C549.9 217.5 550.1 214.9 550.3 212.4C550.6 209.9 550.9 207.6 551.1 205.3C551.4 203.1 551.7 201.0 552.0 198.9Z"/><path d="M559.2 197.7C559.4 195.9 559.7 194.2 560.0 192.5C560.2 190.8 560.5 189.1 560.9 187.3C561.2 185.6 561.6 183.9 562.1 182.1C562.6 180.3 563.1 178.5 563.8 176.7C564.5 174.8 565.3 173.0 566.3 171.2C567.3 169.4 568.3 167.5 569.7 165.9C571.0 164.2 572.6 162.6 574.2 161.3C575.9 159.9 577.8 158.7 579.8 157.7C581.8 156.6 583.9 155.8 586.1 155.2C588.2 154.5 590.5 154.1 592.8 153.8C595.1 153.6 597.5 153.4 599.8 153.7C602.1 154.0 604.4 154.5 606.5 155.5C608.6 156.4 610.7 157.7 612.4 159.2C614.2 160.6 615.8 162.3 617.2 164.1C618.6 165.9 619.7 167.9 620.7 169.8C621.7 171.8 622.5 173.7 623.2 175.6C623.9 177.5 624.5 179.4 625.0 181.3C625.4 183.2 625.8 185.1 626.0 186.9C626.2 188.8 626.1 190.6 626.1 192.4C626.0 194.2 625.9 196.0 625.7 197.7C625.5 199.4 625.3 201.1 624.9 202.8C624.6 204.5 624.1 206.1 623.6 207.7C623.1 209.3 622.5 210.9 621.9 212.5C621.3 214.1 620.6 215.7 619.8 217.3C619.0 218.9 618.1 220.5 617.1 222.0C616.2 223.6 615.1 225.2 613.8 226.7C612.6 228.2 611.3 229.7 609.8 231.1C608.4 232.6 606.8 234.0 605.0 235.3C603.3 236.6 601.4 237.8 599.3 238.8C597.3 239.8 595.1 240.8 592.8 241.4C590.5 242.0 588.1 242.4 585.7 242.5C583.3 242.6 580.8 242.4 578.4 242.1C575.9 241.7 573.3 241.4 571.0 240.5C568.7 239.6 566.3 238.4 564.4 236.8C562.5 235.2 560.9 232.9 559.9 230.6C558.8 228.3 558.4 225.5 558.1 223.0C557.7 220.4 557.8 217.9 557.8 215.5C557.8 213.2 557.9 211.1 558.0 209.0C558.2 206.9 558.4 205.0 558.6 203.1C558.7 201.2 558.9 199.5 559.2 197.7Z"/><path d="M567.0 196.4C567.1 195.0 567.3 193.7 567.5 192.3C567.8 190.9 568.0 189.5 568.3 188.1C568.6 186.8 568.9 185.4 569.3 184.0C569.8 182.6 570.2 181.1 570.8 179.7C571.3 178.3 572.0 176.8 572.8 175.4C573.6 174.0 574.4 172.5 575.5 171.2C576.5 169.9 577.7 168.6 579.0 167.4C580.4 166.3 581.8 165.3 583.4 164.4C584.9 163.5 586.6 162.7 588.4 162.2C590.1 161.6 592.0 161.2 593.8 161.0C595.6 160.8 597.6 160.7 599.4 160.9C601.3 161.2 603.1 161.7 604.8 162.5C606.5 163.2 608.1 164.3 609.6 165.5C611.0 166.7 612.3 168.1 613.4 169.5C614.5 170.9 615.4 172.5 616.2 174.1C617.0 175.6 617.6 177.2 618.2 178.7C618.7 180.3 619.2 181.8 619.5 183.3C619.9 184.8 620.2 186.3 620.3 187.8C620.5 189.3 620.5 190.8 620.5 192.2C620.4 193.6 620.4 195.0 620.2 196.4C620.1 197.8 619.9 199.2 619.7 200.5C619.4 201.9 619.1 203.2 618.7 204.5C618.3 205.8 617.9 207.1 617.4 208.5C616.9 209.8 616.4 211.1 615.7 212.4C615.1 213.7 614.4 215.0 613.6 216.3C612.8 217.6 612.0 218.8 611.0 220.1C610.0 221.3 608.9 222.6 607.7 223.8C606.5 225.0 605.2 226.1 603.8 227.2C602.3 228.2 600.8 229.2 599.1 229.9C597.4 230.7 595.6 231.4 593.8 231.8C592.0 232.2 590.0 232.4 588.1 232.4C586.2 232.3 584.3 232.0 582.4 231.5C580.5 231.1 578.6 230.5 576.9 229.7C575.1 228.8 573.4 227.7 572.1 226.4C570.7 225.0 569.5 223.3 568.7 221.5C567.9 219.8 567.4 217.7 567.1 215.9C566.7 214.0 566.6 212.1 566.5 210.3C566.4 208.6 566.4 206.9 566.4 205.3C566.4 203.7 566.5 202.2 566.6 200.7C566.7 199.3 566.8 197.8 567.0 196.4Z"/><path d="M613.4 197.5C613.0 200.7 612.0 204.1 610.7 207.0C609.3 209.9 607.5 212.6 605.5 214.7C603.5 216.7 601.1 218.4 598.8 219.3C596.4 220.2 593.8 220.6 591.4 220.3C589.1 219.9 586.7 218.9 584.7 217.3C582.7 215.8 580.8 213.5 579.5 211.0C578.1 208.5 577.1 205.3 576.6 202.2C576.1 199.1 576.1 195.5 576.6 192.3C577.0 189.1 578.0 185.7 579.3 182.8C580.7 179.9 582.5 177.2 584.5 175.1C586.5 173.1 588.9 171.4 591.2 170.5C593.6 169.6 596.2 169.2 598.6 169.5C600.9 169.9 603.3 170.9 605.3 172.5C607.3 174.0 609.2 176.3 610.5 178.8C611.9 181.3 612.9 184.5 613.4 187.6C613.9 190.7 613.9 194.3 613.4 197.5Z"/><path d="M599.9 195.4C599.7 196.9 599.0 198.8 598.2 199.9C597.4 201.1 596.2 202.1 595.1 202.5C594.0 202.8 592.7 202.6 591.7 202.0C590.8 201.4 589.9 200.1 589.4 198.7C589.0 197.3 588.8 195.4 589.1 193.8C589.3 192.3 590.0 190.4 590.8 189.3C591.6 188.1 592.8 187.1 593.9 186.7C595.0 186.4 596.3 186.6 597.3 187.2C598.2 187.8 599.1 189.1 599.6 190.5C600.0 191.9 600.2 193.8 599.9 195.4Z"/><path d="M506.2 281.9C506.4 278.3 506.2 276.1 507.6 273.3C509.0 270.6 511.6 267.7 514.7 265.5C517.8 263.4 522.0 261.5 526.1 260.6C530.1 259.6 535.8 259.4 538.8 259.8C541.9 260.3 542.6 261.9 544.5 263.4C546.4 264.9 548.3 267.4 550.2 269.1C552.1 270.7 553.5 272.0 555.9 273.3C558.2 274.6 560.7 276.3 564.4 276.9C568.1 277.4 573.2 276.7 577.9 276.6C582.5 276.5 588.1 276.3 592.3 276.3C596.5 276.3 599.8 275.8 603.1 276.6C606.4 277.5 610.4 279.5 612.1 281.1C613.8 282.8 613.9 283.8 613.3 286.5C612.7 289.2 610.7 293.4 608.5 297.3C606.2 301.3 603.7 305.0 599.9 310.3C596.1 315.5 590.2 323.7 585.7 328.7C581.2 333.7 576.9 337.0 572.9 340.1C568.9 343.1 565.3 345.0 561.5 347.2C557.8 349.3 553.7 351.4 550.2 352.8C546.6 354.3 543.1 355.9 540.3 355.7C537.4 355.5 535.5 353.6 533.2 351.4C530.8 349.3 528.4 346.2 526.1 342.9C523.7 339.6 521.1 335.6 519.0 331.5C516.8 327.5 514.9 323.0 513.3 318.8C511.6 314.5 510.2 310.0 509.0 306.0C507.8 302.0 506.6 298.7 506.2 294.6C505.7 290.6 505.9 285.4 506.2 281.9Z"/><path d="M518.2 303.2C519.1 299.4 519.8 295.2 521.8 291.8C523.8 288.4 527.5 284.5 530.3 282.6C533.2 280.7 535.8 280.3 538.8 280.4C541.9 280.6 545.0 281.4 548.8 283.3C552.6 285.2 557.9 289.2 561.5 291.8C565.2 294.4 568.5 296.1 570.8 298.9C573.0 301.7 574.4 305.3 575.0 308.8C575.6 312.4 575.2 316.2 574.3 320.2C573.5 324.2 572.2 329.2 570.1 333.0C567.9 336.8 564.9 339.8 561.5 342.9C558.2 346.0 553.7 349.5 550.2 351.4C546.6 353.3 543.3 354.7 540.3 354.3C537.2 353.8 534.3 351.2 531.7 348.6C529.1 346.0 526.6 342.2 524.6 338.6C522.6 335.1 521.0 331.3 519.7 327.3C518.4 323.3 517.1 318.5 516.8 314.5C516.6 310.5 517.4 306.9 518.2 303.2Z"/><path d="M528.9 298.9C530.5 296.5 533.4 293.0 536.0 291.8C538.6 290.6 541.7 290.8 544.5 291.8C547.4 292.7 550.9 294.6 553.0 297.5C555.2 300.3 556.8 304.6 557.3 308.8C557.8 313.1 557.1 318.5 555.9 323.0C554.7 327.5 552.6 332.7 550.2 335.8C547.8 338.9 544.5 340.8 541.7 341.5C538.8 342.2 535.5 341.7 533.2 340.1C530.8 338.4 528.8 335.3 527.5 331.5C526.2 327.8 525.6 321.6 525.3 317.4C525.1 313.1 525.5 309.1 526.1 306.0C526.6 302.9 527.2 301.3 528.9 298.9Z"/><path d="M478.7 344.3L492.2 329.9M478.9 357.7L492.0 343.6M479.1 371.0L491.8 357.4M491.4 332.0L506.6 315.1M491.6 345.3L506.4 328.9M492.0 358.4L506.0 342.9M492.4 371.5L505.6 356.9M504.9 306.2L520.2 286.7M504.1 320.7L521.0 299.3M504.0 334.5L521.1 312.6M504.4 347.4L520.7 326.8M505.2 360.0L519.9 341.3M506.0 372.5L519.1 355.9M520.4 278.3L531.8 260.4M519.2 293.8L533.0 272.0M517.3 310.3L534.9 282.6M515.7 326.5L536.5 293.5M515.6 340.2L536.6 306.9M517.0 351.5L535.2 322.7M518.7 362.3L533.5 339.0M520.0 373.9L532.2 354.5M535.7 264.6L543.6 247.0M535.1 279.5L544.2 259.2M533.6 296.3L545.7 269.5M531.2 315.2L548.1 277.7M529.1 333.4L550.2 286.6M529.2 346.8L550.1 300.3M531.2 356.0L548.1 318.2M533.4 364.7L545.9 336.6M534.8 375.1L544.5 353.3M550.1 295.7L556.3 270.1M549.1 313.1L557.3 279.8M548.3 330.0L558.1 290.0M548.3 343.6L558.1 303.5M549.0 354.1L557.4 320.1M549.9 364.1L556.5 337.2M550.5 375.3L555.9 353.1M566.1 308.8L567.4 284.1M566.0 323.5L567.5 296.5M566.0 337.3L567.5 309.8M566.0 350.0L567.5 324.2M566.1 362.2L567.4 339.1M566.2 374.6L567.3 353.8M580.3 320.9L580.3 299.1M580.3 334.5L580.3 312.6M580.3 347.8L580.3 326.4M580.3 360.9L580.3 340.4M580.3 373.9L580.3 354.5M588.4 234.3L597.7 223.0M575.0 246.9L586.0 235.6M589.6 246.9L598.1 237.2M600.6 247.7L612.7 236.0M573.4 261.9L586.8 249.8M587.2 261.5L601.4 249.8M599.8 261.5L614.0 250.2M574.2 274.5L584.7 265.2M599.8 274.1L614.8 265.2M600.2 286.7L614.0 279.8M620.4 344.9L620.4 359.9M435.7 226.5L450.4 230.8M435.7 240.4L450.9 244.7"/><path d="M875.2 130.6C882.4 130.4 896.8 130.6 903.1 132.2C909.5 133.8 909.9 136.0 913.3 140.3C916.7 144.6 920.9 151.7 923.4 158.0C925.9 164.4 927.4 172.4 928.5 178.3C929.5 184.2 930.2 187.2 929.8 193.5C929.3 199.9 928.3 209.2 925.9 216.3C923.6 223.5 920.0 230.7 915.8 236.6C911.6 242.5 905.2 247.2 900.6 251.8C895.9 256.5 890.2 261.1 887.9 264.5C885.6 267.9 885.8 270.0 886.6 272.1C887.5 274.2 889.4 274.5 893.0 277.2C896.6 279.9 905.0 285.2 908.2 288.6C911.4 292.0 911.8 293.5 912.0 297.5C912.2 301.5 911.4 307.2 909.5 312.7C907.6 318.2 904.2 325.0 900.6 330.4C897.0 335.9 892.1 340.8 887.9 345.7C883.7 350.5 881.2 355.8 875.2 359.6C869.3 363.4 859.0 366.0 852.4 368.5C845.9 370.9 840.6 374.4 835.9 374.0C831.3 373.7 826.9 370.3 824.5 366.4C822.1 362.5 822.1 353.7 821.5 350.7C820.9 347.7 821.3 351.1 820.7 348.2C820.2 345.2 819.9 336.8 818.2 333.0C816.5 329.2 812.7 327.9 810.6 325.4C808.5 322.8 805.9 323.3 805.5 317.8C805.1 312.3 807.2 300.4 808.0 292.4C808.9 284.4 808.7 275.9 810.6 269.6C812.5 263.3 816.3 258.6 819.5 254.4C822.6 250.2 827.5 248.0 829.6 244.2C831.7 240.4 832.6 237.1 832.1 231.6C831.7 226.1 827.5 217.6 827.1 211.3C826.6 204.9 828.3 200.7 829.6 193.5C830.9 186.3 832.1 175.8 834.7 168.2C837.2 160.6 840.6 153.6 844.8 147.9C849.0 142.2 855.0 136.8 860.0 133.9C865.1 131.1 868.1 130.9 875.2 130.6Z"/><path d="M888.1 137.0C892.4 137.0 898.3 136.7 902.3 138.4C906.3 140.1 909.4 143.1 912.2 146.9C915.1 150.7 917.3 156.1 919.3 161.1C921.3 166.1 923.2 171.4 924.3 176.7C925.4 182.1 925.8 187.6 925.7 193.1C925.6 198.5 925.0 204.1 923.6 209.4C922.2 214.7 920.0 220.3 917.2 225.0C914.4 229.7 910.7 234.0 906.5 237.8C902.4 241.6 897.3 244.9 892.4 247.7C887.4 250.6 882.4 253.4 876.7 254.8C871.0 256.3 863.1 257.0 858.1 256.5C853.2 256.1 849.9 254.2 846.9 252.0C844.0 249.8 842.2 247.0 840.5 243.5C838.9 239.9 837.9 235.2 837.0 230.7C836.0 226.2 835.3 221.2 834.8 216.5C834.4 211.8 834.2 206.2 834.4 202.3C834.7 198.4 835.4 197.3 836.3 193.1C837.2 188.8 838.3 181.8 839.8 176.7C841.4 171.6 843.1 166.8 845.5 162.5C847.9 158.3 850.7 154.5 854.0 151.2C857.3 147.9 861.6 144.8 865.4 142.7C869.2 140.5 872.9 139.1 876.7 138.1C880.5 137.2 883.8 136.9 888.1 137.0Z"/><path d="M841.4 196.5C841.8 194.4 842.3 192.5 842.7 190.5C843.2 188.5 843.5 186.5 843.9 184.5C844.4 182.5 844.8 180.5 845.4 178.5C846.0 176.5 846.7 174.4 847.5 172.4C848.4 170.3 849.3 168.2 850.4 166.2C851.6 164.1 852.9 162.1 854.4 160.2C855.9 158.3 857.6 156.4 859.4 154.7C861.3 153.0 863.4 151.4 865.6 150.0C867.8 148.6 870.3 147.2 872.8 146.2C875.3 145.2 878.0 144.4 880.7 143.9C883.5 143.5 886.3 143.4 889.1 143.5C892.0 143.5 895.1 143.2 897.8 144.0C900.5 144.8 903.2 146.2 905.4 148.1C907.6 149.9 909.4 152.5 910.9 155.0C912.5 157.4 913.5 160.2 914.6 162.7C915.7 165.2 916.6 167.5 917.4 169.9C918.2 172.3 918.9 174.5 919.4 176.8C919.9 179.1 920.3 181.4 920.5 183.6C920.8 185.8 920.9 188.0 921.0 190.1C921.0 192.3 921.0 194.4 920.8 196.5C920.7 198.6 920.4 200.7 920.1 202.7C919.7 204.8 919.2 206.8 918.7 208.8C918.1 210.8 917.4 212.8 916.6 214.8C915.8 216.7 914.9 218.7 913.8 220.5C912.8 222.4 911.5 224.2 910.2 225.9C908.8 227.7 907.4 229.3 905.8 230.9C904.2 232.5 902.4 234.0 900.6 235.5C898.8 236.9 896.8 238.2 894.7 239.5C892.7 240.9 890.5 242.2 888.2 243.4C885.8 244.6 883.4 245.9 880.7 246.8C878.1 247.7 875.3 248.3 872.5 248.7C869.6 249.1 866.5 249.4 863.6 249.2C860.7 248.9 857.6 248.4 855.0 247.1C852.4 245.8 850.0 243.7 848.2 241.3C846.4 238.9 845.4 235.7 844.4 232.8C843.5 230.0 843.0 227.0 842.5 224.3C842.0 221.6 841.6 219.1 841.3 216.6C841.0 214.1 840.8 211.8 840.7 209.5C840.6 207.2 840.4 205.0 840.6 202.9C840.7 200.7 841.0 198.6 841.4 196.5Z"/><path d="M847.5 196.0C847.8 194.2 848.3 192.5 848.6 190.8C849.0 189.1 849.3 187.4 849.7 185.7C850.1 183.9 850.5 182.2 851.0 180.5C851.5 178.7 852.1 177.0 852.8 175.2C853.6 173.4 854.3 171.6 855.3 169.8C856.3 168.1 857.4 166.3 858.7 164.7C860.0 163.0 861.5 161.4 863.1 159.9C864.7 158.4 866.5 157.0 868.4 155.8C870.3 154.5 872.4 153.3 874.6 152.4C876.8 151.5 879.1 150.8 881.5 150.4C883.9 150.0 886.3 149.9 888.8 149.9C891.2 150.0 893.9 149.8 896.3 150.5C898.6 151.2 901.0 152.4 902.9 154.0C904.8 155.6 906.3 157.9 907.7 160.0C909.0 162.1 909.9 164.5 910.8 166.7C911.8 168.8 912.5 170.9 913.2 172.9C913.9 175.0 914.5 177.0 914.9 179.0C915.4 180.9 915.7 182.9 915.9 184.8C916.1 186.7 916.2 188.6 916.3 190.5C916.3 192.4 916.2 194.2 916.1 196.0C915.9 197.8 915.7 199.6 915.4 201.4C915.1 203.2 914.7 204.9 914.2 206.6C913.7 208.4 913.1 210.1 912.4 211.8C911.7 213.5 911.0 215.1 910.0 216.8C909.1 218.4 908.1 219.9 906.9 221.4C905.8 223.0 904.5 224.4 903.1 225.8C901.8 227.2 900.3 228.5 898.7 229.8C897.1 231.1 895.4 232.2 893.6 233.4C891.8 234.6 890.0 235.7 887.9 236.8C885.9 237.8 883.8 239.0 881.5 239.8C879.2 240.5 876.8 241.0 874.3 241.4C871.8 241.7 869.2 242.0 866.6 241.7C864.1 241.4 861.4 240.9 859.2 239.7C857.0 238.6 854.9 236.7 853.4 234.7C851.9 232.6 850.9 229.8 850.1 227.4C849.3 225.0 848.9 222.4 848.4 220.0C848.0 217.7 847.6 215.5 847.4 213.4C847.1 211.3 847.0 209.2 846.9 207.3C846.8 205.3 846.7 203.4 846.8 201.5C846.9 199.6 847.2 197.8 847.5 196.0Z"/><path d="M854.6 195.4C854.8 194.0 855.2 192.6 855.5 191.2C855.8 189.8 856.0 188.4 856.4 187.0C856.7 185.6 857.0 184.2 857.5 182.8C857.9 181.3 858.4 179.9 859.0 178.5C859.6 177.0 860.2 175.5 861.0 174.1C861.8 172.7 862.7 171.2 863.8 169.9C864.8 168.5 866.0 167.2 867.3 165.9C868.6 164.7 870.1 163.5 871.6 162.5C873.2 161.4 874.9 160.4 876.7 159.6C878.5 158.9 880.4 158.2 882.4 157.9C884.3 157.5 886.3 157.5 888.4 157.5C890.4 157.5 892.6 157.4 894.5 158.0C896.4 158.6 898.4 159.6 899.9 160.9C901.5 162.2 902.8 164.1 903.9 165.8C905.0 167.6 905.7 169.5 906.5 171.3C907.2 173.1 907.9 174.8 908.4 176.5C909.0 178.2 909.4 179.8 909.8 181.5C910.1 183.1 910.4 184.7 910.5 186.3C910.7 187.9 910.7 189.4 910.8 190.9C910.8 192.5 910.7 194.0 910.6 195.4C910.5 196.9 910.3 198.4 910.0 199.8C909.8 201.3 909.4 202.7 909.0 204.1C908.6 205.5 908.1 206.9 907.6 208.3C907.0 209.7 906.4 211.0 905.6 212.4C904.9 213.7 904.1 215.0 903.1 216.2C902.2 217.5 901.2 218.7 900.1 219.9C899.0 221.0 897.8 222.2 896.5 223.2C895.2 224.3 893.8 225.3 892.4 226.3C890.9 227.3 889.4 228.2 887.7 229.1C886.0 230.0 884.2 231.0 882.4 231.6C880.5 232.2 878.5 232.6 876.4 232.9C874.4 233.1 872.2 233.3 870.2 233.0C868.1 232.7 865.9 232.2 864.1 231.2C862.3 230.2 860.7 228.7 859.4 227.0C858.2 225.3 857.4 223.1 856.7 221.1C856.0 219.1 855.7 217.0 855.3 215.1C854.9 213.2 854.7 211.4 854.4 209.7C854.2 207.9 854.1 206.3 854.0 204.6C854.0 203.0 853.9 201.5 854.0 199.9C854.1 198.4 854.3 196.9 854.6 195.4Z"/><path d="M862.8 194.8C863.0 193.7 863.3 192.7 863.5 191.6C863.7 190.6 863.9 189.6 864.1 188.5C864.4 187.5 864.7 186.5 865.0 185.4C865.3 184.4 865.7 183.3 866.2 182.3C866.6 181.2 867.1 180.1 867.7 179.1C868.3 178.0 868.9 177.0 869.7 175.9C870.4 174.9 871.3 173.9 872.3 173.0C873.2 172.0 874.3 171.1 875.4 170.3C876.6 169.5 877.8 168.7 879.1 168.1C880.5 167.5 881.9 166.9 883.4 166.6C884.8 166.3 886.4 166.2 887.9 166.3C889.4 166.3 891.0 166.3 892.5 166.8C893.9 167.2 895.3 168.0 896.5 169.0C897.6 170.0 898.6 171.4 899.4 172.6C900.3 173.9 900.8 175.4 901.4 176.7C902.0 178.0 902.4 179.3 902.8 180.6C903.2 181.9 903.5 183.1 903.7 184.4C904.0 185.6 904.1 186.8 904.2 188.0C904.3 189.2 904.4 190.3 904.3 191.4C904.3 192.6 904.3 193.7 904.2 194.8C904.1 195.9 903.9 196.9 903.7 198.0C903.5 199.0 903.3 200.1 903.0 201.1C902.7 202.2 902.3 203.2 901.9 204.2C901.5 205.2 901.0 206.2 900.5 207.2C900.0 208.2 899.4 209.2 898.7 210.1C898.1 211.1 897.3 212.0 896.6 212.9C895.8 213.8 894.9 214.7 893.9 215.5C893.0 216.4 892.0 217.2 890.9 218.0C889.8 218.8 888.6 219.5 887.4 220.2C886.1 220.9 884.8 221.6 883.4 222.1C881.9 222.5 880.4 222.8 878.9 223.0C877.4 223.1 875.7 223.1 874.2 222.8C872.7 222.5 871.2 222.1 869.9 221.3C868.6 220.5 867.4 219.3 866.5 218.0C865.5 216.8 864.9 215.2 864.4 213.7C863.9 212.2 863.6 210.7 863.3 209.3C863.0 207.9 862.8 206.6 862.7 205.3C862.5 204.0 862.5 202.8 862.4 201.6C862.4 200.4 862.3 199.2 862.4 198.1C862.5 196.9 862.6 195.8 862.8 194.8Z"/><path d="M894.5 196.4C894.0 198.3 893.1 200.2 892.2 201.8C891.3 203.5 890.1 205.0 888.8 206.1C887.6 207.2 886.2 208.0 884.8 208.4C883.5 208.9 882.1 208.9 880.8 208.6C879.6 208.2 878.4 207.5 877.4 206.5C876.5 205.4 875.7 204.0 875.2 202.4C874.7 200.9 874.4 198.9 874.4 197.1C874.4 195.2 874.6 193.1 875.1 191.2C875.6 189.3 876.5 187.4 877.4 185.8C878.3 184.1 879.5 182.6 880.8 181.5C882.0 180.4 883.4 179.6 884.8 179.2C886.1 178.7 887.5 178.7 888.8 179.0C890.0 179.4 891.2 180.1 892.2 181.1C893.1 182.2 893.9 183.6 894.4 185.2C894.9 186.7 895.2 188.7 895.2 190.5C895.2 192.4 895.0 194.5 894.5 196.4Z"/><path d="M887.0 194.4C886.8 195.1 886.3 195.8 885.8 196.2C885.3 196.6 884.6 196.7 884.0 196.6C883.5 196.5 882.9 195.9 882.7 195.4C882.5 194.8 882.4 193.9 882.6 193.2C882.8 192.5 883.3 191.8 883.8 191.4C884.3 191.0 885.0 190.9 885.6 191.0C886.1 191.1 886.7 191.7 886.9 192.2C887.1 192.8 887.2 193.7 887.0 194.4Z"/><path d="M858.2 257.0C855.3 256.0 850.3 257.3 846.8 258.4C843.2 259.5 840.2 261.7 836.9 263.4C833.5 265.0 829.6 266.1 826.9 268.3C824.2 270.6 822.1 273.3 820.5 276.9C819.0 280.4 818.0 285.6 817.7 289.6C817.3 293.7 817.6 297.7 818.4 301.0C819.2 304.3 820.5 307.6 822.7 309.5C824.8 311.4 828.5 311.9 831.2 312.4C833.9 312.8 836.9 311.4 839.0 312.4C841.1 313.3 843.0 315.7 844.0 318.0C844.9 320.4 845.1 323.7 844.7 326.5C844.2 329.4 842.3 332.5 841.1 335.1C839.9 337.7 838.0 340.2 837.6 342.2C837.1 344.2 837.0 346.2 838.3 347.1C839.6 348.1 842.8 348.4 845.4 347.8C848.0 347.3 851.1 344.8 853.9 343.6C856.7 342.4 860.3 342.6 862.4 340.7C864.5 338.9 865.5 335.1 866.7 332.2C867.9 329.4 868.1 326.3 869.5 323.7C870.9 321.1 873.5 316.8 875.2 316.6C876.8 316.4 877.6 320.3 879.5 322.3C881.3 324.3 883.9 328.4 886.5 328.7C889.2 328.9 892.7 326.2 895.1 323.7C897.4 321.2 899.6 317.1 900.7 313.8C901.9 310.5 902.6 306.8 902.2 303.8C901.7 300.9 900.0 297.4 897.9 296.0C895.8 294.6 892.2 294.7 889.4 295.3C886.5 295.9 883.0 299.1 880.9 299.6C878.7 300.0 877.8 300.3 876.6 298.2C875.4 296.0 875.0 290.8 873.8 286.8C872.6 282.8 871.2 277.8 869.5 274.0C867.9 270.2 865.7 266.9 863.8 264.1C861.9 261.2 861.0 257.9 858.2 257.0Z"/><path d="M805.5 174.7C804.9 176.8 803.7 179.1 802.6 180.8C801.4 182.4 799.9 183.8 798.6 184.6C797.2 185.3 795.7 185.5 794.6 185.1C793.4 184.8 792.4 183.7 791.7 182.3C791.1 181.0 790.7 178.9 790.7 176.9C790.7 174.9 791.2 172.4 791.9 170.3C792.5 168.2 793.7 165.9 794.8 164.2C796.0 162.6 797.5 161.2 798.8 160.4C800.2 159.7 801.7 159.5 802.8 159.9C804.0 160.2 805.0 161.3 805.7 162.7C806.3 164.0 806.7 166.1 806.7 168.1C806.7 170.1 806.2 172.6 805.5 174.7Z"/><path d="M947.5 233.6C949.3 233.6 951.2 234.4 952.6 236.6C954.0 238.8 955.4 243.2 955.9 246.8C956.3 250.4 956.1 255.3 955.1 258.2C954.1 261.1 951.9 263.3 950.0 264.0C948.1 264.7 945.5 263.9 943.7 262.5C941.9 261.1 940.0 258.5 939.1 255.6C938.3 252.8 938.2 248.7 938.6 245.5C939.0 242.3 940.2 238.6 941.7 236.6C943.1 234.6 945.7 233.6 947.5 233.6Z"/><path d="M973.6 260.7C974.9 261.4 974.5 265.9 974.1 268.3C973.7 270.7 972.6 273.5 971.1 275.2C969.6 276.9 967.0 278.6 965.2 278.5C963.5 278.4 961.2 276.2 960.4 274.7C959.7 273.1 959.9 270.8 960.9 269.1C962.0 267.4 964.4 265.9 966.5 264.5C968.6 263.1 972.3 260.1 973.6 260.7Z"/><path d="M898.2 454.1C897.9 454.9 897.3 455.8 896.9 456.2C896.4 456.6 895.7 456.8 895.3 456.7C894.9 456.5 894.6 456.0 894.5 455.3C894.4 454.7 894.5 453.6 894.8 452.9C895.1 452.1 895.7 451.2 896.1 450.8C896.6 450.4 897.3 450.2 897.7 450.3C898.1 450.5 898.4 451.0 898.5 451.7C898.6 452.3 898.5 453.4 898.2 454.1Z"/><path d="M837.6 243.4L841.3 214.0M836.9 257.0L842.0 227.7M836.1 270.4L842.8 241.5M835.1 283.8L843.8 255.4M835.1 297.5L843.8 269.1M835.1 311.1L843.8 282.7M835.1 324.7L843.8 296.3M835.1 338.4L843.8 310.0M835.1 352.0L843.8 323.6M852.1 229.9L854.1 200.2M851.3 243.4L854.9 214.0M850.5 257.0L855.7 227.7M849.8 270.4L856.4 241.5M848.8 283.8L857.4 255.4M848.8 297.5L857.4 269.1M848.8 311.1L857.4 282.7M848.8 324.7L857.4 296.3M848.8 338.4L857.4 310.0M848.8 352.0L857.4 323.6M865.7 216.2L867.8 186.6M865.7 229.9L867.8 200.2M864.9 243.4L868.6 214.0M864.2 257.0L869.3 227.7M863.4 270.4L870.1 241.5M862.4 283.8L871.1 255.4M862.4 297.5L871.1 269.1M862.4 311.1L871.1 282.7M862.4 324.7L871.1 296.3M879.3 202.6L881.4 173.0M879.3 216.2L881.4 186.6M879.3 229.9L881.4 200.2M878.6 243.4L882.2 214.0M877.8 257.0L883.0 227.7M893.0 202.6L895.1 173.0M893.0 216.2L895.1 186.6M775.1 267.1L792.8 272.1M775.1 281.0L793.6 286.6"/></g><text x="536" y="16.6" font-size="24" text-anchor="middle">1959+650</text><g font-size="19.7"><text x="70.5" y="104.9" text-anchor="end">0.5</text><text x="70.5" y="202.9" text-anchor="end">0.0</text><text x="70.5" y="300.9" text-anchor="end">-0.5</text><text x="70.5" y="398.9" text-anchor="end">-1.0</text><text transform="translate(16.5,245) rotate(-90) scale(1.0,0.93)" text-anchor="middle">Milliarcseconds</text><text x="230" y="60" font-size="19.4">1 Nov 2022</text><text x="225" y="89.5" font-size="19.4">59884</text><text x="519" y="60" font-size="19.4">20 Nov 2022</text><text x="519" y="89.5" font-size="19.4">59903</text><text x="818" y="60" font-size="19.4">6 Dec 2022</text><text x="813" y="89.5" font-size="19.4">59919</text><text x="116" y="76" style="fill:#4a4a9a;stroke:#4a4a9a">Knot J2</text><text x="116" y="95.5" style="fill:#b8143c;stroke:#b8143c">Knot J1</text><text x="116" y="184">Core A0</text><text x="313" y="400">1</text><text x="574" y="400">6 mJy/beam</text></g><rect x="301.00" y="410" width="29.66" height="30.5" fill="#e6e6a1"/><rect x="330.36" y="410" width="29.66" height="30.5" fill="#cccc38"/><rect x="359.72" y="410" width="29.66" height="30.5" fill="#b3b324"/><rect x="389.08" y="410" width="29.66" height="30.5" fill="#999999"/><rect x="418.44" y="410" width="29.66" height="30.5" fill="#8080ff"/><rect x="447.80" y="410" width="29.66" height="30.5" fill="#6666cc"/><rect x="477.16" y="410" width="29.66" height="30.5" fill="#4d4d99"/><rect x="506.52" y="410" width="29.66" height="30.5" fill="#403366"/><rect x="535.88" y="410" width="29.66" height="30.5" fill="#c41a33"/><rect x="565.24" y="410" width="29.66" height="30.5" fill="#000000"/><clipPath id="bm1"><ellipse cx="135.3" cy="408.9" rx="16.8" ry="23.8" transform="rotate(6 135.3 408.9)"/></clipPath><g clip-path="url(#bm1)"><path d="M115.5 385.50h39.6M115.5 387.46h39.6M115.5 389.42h39.6M115.5 391.38h39.6M115.5 393.34h39.6M115.5 395.30h39.6M115.5 397.26h39.6M115.5 399.22h39.6M115.5 401.18h39.6M115.5 403.14h39.6M115.5 405.10h39.6M115.5 407.06h39.6M115.5 409.02h39.6M115.5 410.98h39.6M115.5 412.94h39.6M115.5 414.90h39.6M115.5 416.86h39.6M115.5 418.82h39.6M115.5 420.78h39.6M115.5 422.74h39.6M115.5 424.70h39.6M115.5 426.66h39.6M115.5 428.62h39.6M115.5 430.58h39.6M115.5 432.54h39.6M115.5 434.50h39.6" stroke="#000" stroke-width="1.12" fill="none"/></g><ellipse cx="135.3" cy="408.9" rx="16.8" ry="23.8" transform="rotate(6 135.3 408.9)" fill="none" stroke="#000" stroke-width="1"/><g fill="none"><circle cx="270" cy="275" r="41.6" stroke="#b8143c" stroke-width="4.1"/><circle cx="278.7" cy="200.6" r="6.4" stroke="#4a4a9a" stroke-width="3.6"/><circle cx="550.8" cy="311.2" r="19.4" stroke="#b8143c" stroke-width="4.2"/><circle cx="565.4" cy="215.2" r="19.4" stroke="#4a4a9a" stroke-width="3.8"/><circle cx="870.2" cy="310.9" r="36.1" stroke="#b8143c" stroke-width="3.8"/><circle cx="852.6" cy="220.9" r="17.3" stroke="#4a4a9a" stroke-width="3.7"/></g></g><g id="bot"><clipPath id="s4clip"><path d="M224 708h3v1h-3zM221 709.0h8v1h-8zM220 710.0h10v1h-10zM219 711.0h12v1h-12zM218 712.0h13v1h-13zM217 713.0h15v1h-15zM216 714.0h16v1h-16zM216 715.0h17v1h-17zM215 716.0h18v1h-18zM215 717.0h19v1h-19zM214 718.0h20v1h-20zM213 719.0h21v1h-21zM213 720.0h21v1h-21zM212 721.0h23v1h-23zM212 722.0h23v1h-23zM212 723.0h23v1h-23zM211 724.0h24v1h-24zM211 725.0h24v1h-24zM210 726.0h26v1h-26zM210 727.0h26v1h-26zM210 728.0h26v1h-26zM209 729.0h27v1h-27zM209 730.0h27v1h-27zM209 731.0h27v1h-27zM209 732.0h27v1h-27zM208 733.0h28v1h-28zM208 734.0h28v1h-28zM208 735.0h28v1h-28zM208 736.0h28v1h-28zM207 737.0h29v1h-29zM207 738.0h29v1h-29zM207 739.0h29v1h-29zM207 740.0h29v1h-29zM207 741.0h29v1h-29zM206 742.0h30v1h-30zM206 743.0h30v1h-30zM206 744.0h30v1h-30zM206 745.0h29v1h-29zM206 746.0h29v1h-29zM206 747.0h29v1h-29zM206 748.0h29v1h-29zM206 749.0h29v1h-29zM205 750.0h30v1h-30zM205 751.0h30v1h-30zM205 752.0h29v1h-29zM205 753.0h29v1h-29zM205 754.0h29v1h-29zM205 755.0h29v1h-29zM205 756.0h29v1h-29zM205 757.0h28v1h-28zM205 758.0h28v1h-28zM205 759.0h28v1h-28zM205 760.0h28v1h-28zM205 761.0h27v1h-27zM205 762.0h27v1h-27zM205 763.0h27v1h-27zM205 764.0h26v1h-26zM206 765.0h25v1h-25zM206 766.0h25v1h-25zM206 767.0h24v1h-24zM206 768.0h24v1h-24zM206 769.0h24v1h-24zM206 770.0h23v1h-23zM206 771.0h23v1h-23zM207 772.0h21v1h-21zM207 773.0h21v1h-21zM207 774.0h20v1h-20zM208 775.0h19v1h-19zM208 776.0h18v1h-18zM208 777.0h17v1h-17zM209 778.0h16v1h-16zM209 779.0h15v1h-15zM210 780.0h13v1h-13zM211 781.0h11v1h-11zM211 782.0h10v1h-10zM213 783.0h7v1h-7zM215 784.0h2v1h-2z"/></clipPath><path d="M224 708h3v1h-3zM221 709.0h8v1h-8zM220 710.0h10v1h-10zM219 711.0h12v1h-12zM218 712.0h13v1h-13zM217 713.0h15v1h-15zM216 714.0h16v1h-16zM216 715.0h17v1h-17zM215 716.0h18v1h-18zM215 717.0h19v1h-19zM214 718.0h20v1h-20zM213 719.0h21v1h-21zM213 720.0h21v1h-21zM212 721.0h23v1h-23zM212 722.0h23v1h-23zM212 723.0h23v1h-23zM211 724.0h24v1h-24zM211 725.0h24v1h-24zM210 726.0h26v1h-26zM210 727.0h26v1h-26zM210 728.0h26v1h-26zM209 729.0h27v1h-27zM209 730.0h27v1h-27zM209 731.0h27v1h-27zM209 732.0h27v1h-27zM208 733.0h28v1h-28zM208 734.0h28v1h-28zM208 735.0h28v1h-28zM208 736.0h28v1h-28zM207 737.0h29v1h-29zM207 738.0h29v1h-29zM207 739.0h29v1h-29zM207 740.0h29v1h-29zM207 741.0h29v1h-29zM206 742.0h30v1h-30zM206 743.0h30v1h-30zM206 744.0h30v1h-30zM206 745.0h29v1h-29zM206 746.0h29v1h-29zM206 747.0h29v1h-29zM206 748.0h29v1h-29zM206 749.0h29v1h-29zM205 750.0h30v1h-30zM205 751.0h30v1h-30zM205 752.0h29v1h-29zM205 753.0h29v1h-29zM205 754.0h29v1h-29zM205 755.0h29v1h-29zM205 756.0h29v1h-29zM205 757.0h28v1h-28zM205 758.0h28v1h-28zM205 759.0h28v1h-28zM205 760.0h28v1h-28zM205 761.0h27v1h-27zM205 762.0h27v1h-27zM205 763.0h27v1h-27zM205 764.0h26v1h-26zM206 765.0h25v1h-25zM206 766.0h25v1h-25zM206 767.0h24v1h-24zM206 768.0h24v1h-24zM206 769.0h24v1h-24zM206 770.0h23v1h-23zM206 771.0h23v1h-23zM207 772.0h21v1h-21zM207 773.0h21v1h-21zM207 774.0h20v1h-20zM208 775.0h19v1h-19zM208 776.0h18v1h-18zM208 777.0h17v1h-17zM209 778.0h16v1h-16zM209 779.0h15v1h-15zM210 780.0h13v1h-13zM211 781.0h11v1h-11zM211 782.0h10v1h-10zM213 783.0h7v1h-7zM215 784.0h2v1h-2z" fill="#6060cc"/><g clip-path="url(#s4clip)"><path d="M230.4 746.5C229.7 750.9 228.6 755.7 227.3 759.6C226.1 763.5 224.6 767.3 223.1 769.9C221.6 772.5 219.8 774.4 218.4 775.2C216.9 776.0 215.4 775.7 214.2 774.5C213.0 773.3 212.0 770.9 211.4 768.0C210.7 765.1 210.4 761.0 210.4 756.9C210.5 752.9 210.9 747.9 211.6 743.5C212.3 739.1 213.4 734.3 214.7 730.4C215.9 726.5 217.4 722.7 218.9 720.1C220.4 717.5 222.2 715.6 223.6 714.8C225.1 714.0 226.6 714.3 227.8 715.5C229.0 716.7 230.0 719.1 230.6 722.0C231.3 724.9 231.6 729.0 231.6 733.1C231.5 737.1 231.1 742.1 230.4 746.5Z" fill="#2a3a86" filter="url(#bl2)"/><path d="M227.0 744.5C226.5 747.6 225.7 751.0 224.8 753.8C224.0 756.5 222.9 759.2 222.0 761.0C221.0 762.9 219.9 764.3 219.0 764.8C218.1 765.4 217.2 765.2 216.5 764.4C215.9 763.6 215.4 761.9 215.1 759.8C214.8 757.8 214.7 754.9 214.9 752.0C215.0 749.1 215.4 745.7 216.0 742.5C216.5 739.4 217.3 736.0 218.2 733.2C219.0 730.5 220.1 727.8 221.0 726.0C222.0 724.1 223.1 722.7 224.0 722.2C224.9 721.6 225.8 721.8 226.5 722.6C227.1 723.4 227.6 725.1 227.9 727.2C228.2 729.2 228.3 732.1 228.1 735.0C228.0 737.9 227.6 741.3 227.0 744.5Z" fill="#ff0c28" filter="url(#bl1)"/></g><clipPath id="s4clipb"><path d="M249 730.0h3v1h-3zM248 731.0h5v1h-5zM247 732.0h7v1h-7zM247 733.0h7v1h-7zM246 734.0h8v1h-8zM246 735.0h8v1h-8zM245 736.0h10v1h-10zM245 737.0h10v1h-10zM245 738.0h10v1h-10zM244 739.0h11v1h-11zM244 740.0h11v1h-11zM244 741.0h11v1h-11zM244 742.0h11v1h-11zM243 743.0h12v1h-12zM243 744.0h12v1h-12zM243 745.0h12v1h-12zM243 746.0h12v1h-12zM243 747.0h12v1h-12zM242 748.0h13v1h-13zM242 749.0h13v1h-13zM242 750.0h13v1h-13zM242 751.0h13v1h-13zM242 752.0h13v1h-13zM242 753.0h13v1h-13zM242 754.0h13v1h-13zM242 755.0h13v1h-13zM241 756.0h14v1h-14zM241 757.0h14v1h-14zM241 758.0h13v1h-13zM241 759.0h13v1h-13zM241 760.0h13v1h-13zM241 761.0h13v1h-13zM241 762.0h13v1h-13zM241 763.0h13v1h-13zM241 764.0h12v1h-12zM241 765.0h12v1h-12zM241 766.0h12v1h-12zM241 767.0h12v1h-12zM241 768.0h11v1h-11zM242 769.0h10v1h-10zM242 770.0h10v1h-10zM242 771.0h9v1h-9zM242 772.0h9v1h-9zM242 773.0h9v1h-9zM242 774.0h8v1h-8zM243 775.0h7v1h-7zM243 776.0h6v1h-6zM244 777.0h5v1h-5zM244 778.0h4v1h-4z"/></clipPath><path d="M249 730.0h3v1h-3zM248 731.0h5v1h-5zM247 732.0h7v1h-7zM247 733.0h7v1h-7zM246 734.0h8v1h-8zM246 735.0h8v1h-8zM245 736.0h10v1h-10zM245 737.0h10v1h-10zM245 738.0h10v1h-10zM244 739.0h11v1h-11zM244 740.0h11v1h-11zM244 741.0h11v1h-11zM244 742.0h11v1h-11zM243 743.0h12v1h-12zM243 744.0h12v1h-12zM243 745.0h12v1h-12zM243 746.0h12v1h-12zM243 747.0h12v1h-12zM242 748.0h13v1h-13zM242 749.0h13v1h-13zM242 750.0h13v1h-13zM242 751.0h13v1h-13zM242 752.0h13v1h-13zM242 753.0h13v1h-13zM242 754.0h13v1h-13zM242 755.0h13v1h-13zM241 756.0h14v1h-14zM241 757.0h14v1h-14zM241 758.0h13v1h-13zM241 759.0h13v1h-13zM241 760.0h13v1h-13zM241 761.0h13v1h-13zM241 762.0h13v1h-13zM241 763.0h13v1h-13zM241 764.0h12v1h-12zM241 765.0h12v1h-12zM241 766.0h12v1h-12zM241 767.0h12v1h-12zM241 768.0h11v1h-11zM242 769.0h10v1h-10zM242 770.0h10v1h-10zM242 771.0h9v1h-9zM242 772.0h9v1h-9zM242 773.0h9v1h-9zM242 774.0h8v1h-8zM243 775.0h7v1h-7zM243 776.0h6v1h-6zM244 777.0h5v1h-5zM244 778.0h4v1h-4z" fill="#6868d2"/><g clip-path="url(#s4clipb)"><path d="M251.3 755.3C251.0 758.5 250.4 762.0 249.9 764.7C249.4 767.4 248.7 770.0 248.1 771.5C247.5 773.1 246.8 773.9 246.3 773.9C245.8 773.8 245.4 772.8 245.1 771.2C244.8 769.6 244.7 766.9 244.7 764.2C244.8 761.4 245.0 757.8 245.3 754.7C245.6 751.5 246.2 748.0 246.7 745.3C247.2 742.6 247.9 740.0 248.5 738.5C249.1 736.9 249.8 736.1 250.3 736.1C250.8 736.2 251.2 737.2 251.5 738.8C251.8 740.4 251.9 743.1 251.9 745.8C251.8 748.6 251.6 752.2 251.3 755.3Z" fill="#5252b4" filter="url(#bl1)"/></g><clipPath id="s4clipc"><path d="M128 732h4v1h-4zM126 733.0h8v1h-8zM125 734.0h10v1h-10zM123 735.0h13v1h-13zM122 736.0h14v1h-14zM122 737.0h15v1h-15zM121 738.0h16v1h-16zM120 739.0h18v1h-18zM119 740.0h19v1h-19zM119 741.0h19v1h-19zM118 742.0h20v1h-20zM118 743.0h20v1h-20zM117 744.0h22v1h-22zM117 745.0h22v1h-22zM117 746.0h22v1h-22zM116 747.0h23v1h-23zM116 748.0h23v1h-23zM116 749.0h23v1h-23zM115 750.0h23v1h-23zM115 751.0h23v1h-23zM115 752.0h23v1h-23zM115 753.0h23v1h-23zM114 754.0h24v1h-24zM114 755.0h24v1h-24zM114 756.0h23v1h-23zM114 757.0h23v1h-23zM114 758.0h23v1h-23zM114 759.0h23v1h-23zM114 760.0h22v1h-22zM114 761.0h22v1h-22zM114 762.0h22v1h-22zM114 763.0h21v1h-21zM114 764.0h21v1h-21zM114 765.0h20v1h-20zM114 766.0h20v1h-20zM114 767.0h19v1h-19zM115 768.0h18v1h-18zM115 769.0h17v1h-17zM115 770.0h16v1h-16zM116 771.0h14v1h-14zM116 772.0h13v1h-13zM117 773.0h11v1h-11zM118 774.0h9v1h-9zM119 775.0h6v1h-6z"/></clipPath><path d="M128 732h4v1h-4zM126 733.0h8v1h-8zM125 734.0h10v1h-10zM123 735.0h13v1h-13zM122 736.0h14v1h-14zM122 737.0h15v1h-15zM121 738.0h16v1h-16zM120 739.0h18v1h-18zM119 740.0h19v1h-19zM119 741.0h19v1h-19zM118 742.0h20v1h-20zM118 743.0h20v1h-20zM117 744.0h22v1h-22zM117 745.0h22v1h-22zM117 746.0h22v1h-22zM116 747.0h23v1h-23zM116 748.0h23v1h-23zM116 749.0h23v1h-23zM115 750.0h23v1h-23zM115 751.0h23v1h-23zM115 752.0h23v1h-23zM115 753.0h23v1h-23zM114 754.0h24v1h-24zM114 755.0h24v1h-24zM114 756.0h23v1h-23zM114 757.0h23v1h-23zM114 758.0h23v1h-23zM114 759.0h23v1h-23zM114 760.0h22v1h-22zM114 761.0h22v1h-22zM114 762.0h22v1h-22zM114 763.0h21v1h-21zM114 764.0h21v1h-21zM114 765.0h20v1h-20zM114 766.0h20v1h-20zM114 767.0h19v1h-19zM115 768.0h18v1h-18zM115 769.0h17v1h-17zM115 770.0h16v1h-16zM116 771.0h14v1h-14zM116 772.0h13v1h-13zM117 773.0h11v1h-11zM118 774.0h9v1h-9zM119 775.0h6v1h-6z" fill="#6060cc"/><g clip-path="url(#s4clipc)"><path d="M132.5 756.1C131.9 758.7 130.8 761.5 129.7 763.6C128.6 765.7 127.2 767.7 126.0 768.7C124.8 769.8 123.4 770.3 122.3 770.0C121.3 769.8 120.3 768.7 119.7 767.2C119.1 765.6 118.8 763.3 118.8 760.9C118.8 758.5 119.2 755.5 119.9 752.9C120.5 750.3 121.6 747.5 122.7 745.4C123.8 743.3 125.2 741.3 126.4 740.3C127.6 739.2 129.0 738.7 130.1 739.0C131.1 739.2 132.1 740.3 132.7 741.8C133.3 743.4 133.6 745.7 133.6 748.1C133.6 750.5 133.2 753.5 132.5 756.1Z" fill="#3a2c78" filter="url(#bl2)"/><path d="M128.9 755.1C128.5 756.6 127.9 758.4 127.3 759.6C126.7 760.7 125.9 761.7 125.3 762.1C124.8 762.4 124.1 762.3 123.8 761.7C123.4 761.1 123.2 759.9 123.2 758.6C123.2 757.3 123.5 755.4 123.9 753.9C124.3 752.4 124.9 750.6 125.5 749.4C126.1 748.3 126.9 747.3 127.5 746.9C128.0 746.6 128.7 746.7 129.0 747.3C129.4 747.9 129.6 749.1 129.6 750.4C129.6 751.7 129.3 753.6 128.9 755.1Z" fill="#8a1c50" filter="url(#bl1)"/></g><path d="M182 835.0h3v1h-3zM180 836.0h6v1h-6zM179 837.0h8v1h-8zM178 838.0h9v1h-9zM177 839.0h11v1h-11zM176 840.0h12v1h-12zM175 841.0h14v1h-14zM174 842.0h15v1h-15zM173 843.0h16v1h-16zM172 844.0h17v1h-17zM171 845.0h19v1h-19zM170 846.0h20v1h-20zM169 847.0h21v1h-21zM168 848.0h22v1h-22zM168 849.0h22v1h-22zM167 850.0h23v1h-23zM166 851.0h24v1h-24zM166 852.0h24v1h-24zM166 853.0h23v1h-23zM166 854.0h22v1h-22zM167 855.0h20v1h-20zM168 856.0h18v1h-18zM171 857.0h13v1h-13z" fill="#6464d0"/><path d="M254 852.0h3v1h-3zM254 853.0h4v1h-4zM253 854.0h6v1h-6zM253 855.0h6v1h-6zM252 856.0h8v1h-8zM252 857.0h8v1h-8zM252 858.0h8v1h-8zM252 859.0h8v1h-8zM251 860.0h9v1h-9zM251 861.0h9v1h-9zM251 862.0h9v1h-9zM251 863.0h9v1h-9zM251 864.0h9v1h-9zM251 865.0h9v1h-9zM251 866.0h9v1h-9zM252 867.0h8v1h-8zM252 868.0h8v1h-8zM252 869.0h8v1h-8zM252 870.0h7v1h-7zM253 871.0h6v1h-6zM253 872.0h6v1h-6zM254 873.0h4v1h-4zM255 874.0h2v1h-2z" fill="#6464d0"/><clipPath id="s5clip"><path d="M653 701h7v1h-7zM651 702.0h11v1h-11zM650 703.0h13v1h-13zM649 704.0h15v1h-15zM648 705.0h17v1h-17zM647 706.0h19v1h-19zM646 707.0h20v1h-20zM646 708.0h21v1h-21zM645 709.0h22v1h-22zM644 710.0h24v1h-24zM644 711.0h24v1h-24zM643 712.0h25v1h-25zM643 713.0h25v1h-25zM642 714.0h27v1h-27zM642 715.0h27v1h-27zM641 716.0h28v1h-28zM641 717.0h29v1h-29zM640 718.0h30v1h-30zM640 719.0h31v1h-31zM640 720.0h31v1h-31zM639 721.0h33v1h-33zM639 722.0h33v1h-33zM639 723.0h34v1h-34zM638 724.0h35v1h-35zM638 725.0h35v1h-35zM638 726.0h36v1h-36zM638 727.0h36v1h-36zM638 728.0h36v1h-36zM637 729.0h37v1h-37zM637 730.0h37v1h-37zM637 731.0h37v1h-37zM637 732.0h37v1h-37zM637 733.0h37v1h-37zM637 734.0h38v1h-38zM636 735.0h39v1h-39zM636 736.0h39v1h-39zM636 737.0h39v1h-39zM636 738.0h39v1h-39zM636 739.0h38v1h-38zM636 740.0h38v1h-38zM636 741.0h38v1h-38zM636 742.0h38v1h-38zM636 743.0h38v1h-38zM635 744.0h39v1h-39zM635 745.0h39v1h-39zM635 746.0h39v1h-39zM635 747.0h39v1h-39zM635 748.0h39v1h-39zM635 749.0h38v1h-38zM635 750.0h38v1h-38zM635 751.0h38v1h-38zM635 752.0h38v1h-38zM635 753.0h38v1h-38zM634 754.0h39v1h-39zM634 755.0h38v1h-38zM634 756.0h38v1h-38zM634 757.0h38v1h-38zM633 758.0h39v1h-39zM633 759.0h39v1h-39zM633 760.0h38v1h-38zM632 761.0h39v1h-39zM632 762.0h39v1h-39zM631 763.0h40v1h-40zM631 764.0h40v1h-40zM630 765.0h40v1h-40zM630 766.0h40v1h-40zM629 767.0h41v1h-41zM629 768.0h41v1h-41zM628 769.0h42v1h-42zM627 770.0h43v1h-43zM626 771.0h43v1h-43zM626 772.0h43v1h-43zM625 773.0h44v1h-44zM623 774.0h45v1h-45zM622 775.0h46v1h-46zM620 776.0h47v1h-47zM619 777.0h48v1h-48zM617 778.0h49v1h-49zM614 779.0h51v1h-51zM611 780.0h54v1h-54zM609 781.0h55v1h-55zM607 782.0h57v1h-57zM605 783.0h58v1h-58zM604 784.0h59v1h-59zM603 785.0h60v1h-60zM602 786.0h61v1h-61zM601 787.0h62v1h-62zM600 788.0h62v1h-62zM599 789.0h63v1h-63zM599 790.0h63v1h-63zM598 791.0h64v1h-64zM598 792.0h64v1h-64zM598 793.0h64v1h-64zM598 794.0h64v1h-64zM598 795.0h63v1h-63zM598 796.0h63v1h-63zM598 797.0h63v1h-63zM598 798.0h63v1h-63zM598 799.0h63v1h-63zM598 800.0h63v1h-63zM598 801.0h63v1h-63zM598 802.0h63v1h-63zM599 803.0h62v1h-62zM599 804.0h62v1h-62zM600 805.0h61v1h-61zM600 806.0h61v1h-61zM601 807.0h60v1h-60zM602 808.0h59v1h-59zM603 809.0h58v1h-58zM605 810.0h56v1h-56zM607 811.0h54v1h-54zM609 812.0h52v1h-52zM612 813.0h49v1h-49zM614 814.0h47v1h-47zM615 815.0h46v1h-46zM616 816.0h45v1h-45zM617 817.0h44v1h-44zM618 818.0h43v1h-43zM620 819.0h42v1h-42zM621 820.0h41v1h-41zM622 821.0h40v1h-40zM624 822.0h38v1h-38zM625 823.0h37v1h-37zM626 824.0h37v1h-37zM627 825.0h36v1h-36zM628 826.0h35v1h-35zM629 827.0h34v1h-34zM630 828.0h34v1h-34zM631 829.0h33v1h-33zM632 830.0h32v1h-32zM633 831.0h32v1h-32zM633 832.0h32v1h-32zM634 833.0h31v1h-31zM634 834.0h32v1h-32zM635 835.0h31v1h-31zM635 836.0h32v1h-32zM635 837.0h32v1h-32zM635 838.0h32v1h-32zM636 839.0h31v1h-31zM636 840.0h31v1h-31zM636 841.0h31v1h-31zM636 842.0h31v1h-31zM637 843.0h30v1h-30zM637 844.0h30v1h-30zM638 845.0h29v1h-29zM639 846.0h28v1h-28zM640 847.0h27v1h-27zM641 848.0h26v1h-26zM643 849.0h23v1h-23zM649 850.0h17v1h-17zM651 851.0h15v1h-15zM653 852.0h12v1h-12zM655 853.0h9v1h-9zM659 854.0h2v1h-2z"/></clipPath><path d="M653 701h7v1h-7zM651 702.0h11v1h-11zM650 703.0h13v1h-13zM649 704.0h15v1h-15zM648 705.0h17v1h-17zM647 706.0h19v1h-19zM646 707.0h20v1h-20zM646 708.0h21v1h-21zM645 709.0h22v1h-22zM644 710.0h24v1h-24zM644 711.0h24v1h-24zM643 712.0h25v1h-25zM643 713.0h25v1h-25zM642 714.0h27v1h-27zM642 715.0h27v1h-27zM641 716.0h28v1h-28zM641 717.0h29v1h-29zM640 718.0h30v1h-30zM640 719.0h31v1h-31zM640 720.0h31v1h-31zM639 721.0h33v1h-33zM639 722.0h33v1h-33zM639 723.0h34v1h-34zM638 724.0h35v1h-35zM638 725.0h35v1h-35zM638 726.0h36v1h-36zM638 727.0h36v1h-36zM638 728.0h36v1h-36zM637 729.0h37v1h-37zM637 730.0h37v1h-37zM637 731.0h37v1h-37zM637 732.0h37v1h-37zM637 733.0h37v1h-37zM637 734.0h38v1h-38zM636 735.0h39v1h-39zM636 736.0h39v1h-39zM636 737.0h39v1h-39zM636 738.0h39v1h-39zM636 739.0h38v1h-38zM636 740.0h38v1h-38zM636 741.0h38v1h-38zM636 742.0h38v1h-38zM636 743.0h38v1h-38zM635 744.0h39v1h-39zM635 745.0h39v1h-39zM635 746.0h39v1h-39zM635 747.0h39v1h-39zM635 748.0h39v1h-39zM635 749.0h38v1h-38zM635 750.0h38v1h-38zM635 751.0h38v1h-38zM635 752.0h38v1h-38zM635 753.0h38v1h-38zM634 754.0h39v1h-39zM634 755.0h38v1h-38zM634 756.0h38v1h-38zM634 757.0h38v1h-38zM633 758.0h39v1h-39zM633 759.0h39v1h-39zM633 760.0h38v1h-38zM632 761.0h39v1h-39zM632 762.0h39v1h-39zM631 763.0h40v1h-40zM631 764.0h40v1h-40zM630 765.0h40v1h-40zM630 766.0h40v1h-40zM629 767.0h41v1h-41zM629 768.0h41v1h-41zM628 769.0h42v1h-42zM627 770.0h43v1h-43zM626 771.0h43v1h-43zM626 772.0h43v1h-43zM625 773.0h44v1h-44zM623 774.0h45v1h-45zM622 775.0h46v1h-46zM620 776.0h47v1h-47zM619 777.0h48v1h-48zM617 778.0h49v1h-49zM614 779.0h51v1h-51zM611 780.0h54v1h-54zM609 781.0h55v1h-55zM607 782.0h57v1h-57zM605 783.0h58v1h-58zM604 784.0h59v1h-59zM603 785.0h60v1h-60zM602 786.0h61v1h-61zM601 787.0h62v1h-62zM600 788.0h62v1h-62zM599 789.0h63v1h-63zM599 790.0h63v1h-63zM598 791.0h64v1h-64zM598 792.0h64v1h-64zM598 793.0h64v1h-64zM598 794.0h64v1h-64zM598 795.0h63v1h-63zM598 796.0h63v1h-63zM598 797.0h63v1h-63zM598 798.0h63v1h-63zM598 799.0h63v1h-63zM598 800.0h63v1h-63zM598 801.0h63v1h-63zM598 802.0h63v1h-63zM599 803.0h62v1h-62zM599 804.0h62v1h-62zM600 805.0h61v1h-61zM600 806.0h61v1h-61zM601 807.0h60v1h-60zM602 808.0h59v1h-59zM603 809.0h58v1h-58zM605 810.0h56v1h-56zM607 811.0h54v1h-54zM609 812.0h52v1h-52zM612 813.0h49v1h-49zM614 814.0h47v1h-47zM615 815.0h46v1h-46zM616 816.0h45v1h-45zM617 817.0h44v1h-44zM618 818.0h43v1h-43zM620 819.0h42v1h-42zM621 820.0h41v1h-41zM622 821.0h40v1h-40zM624 822.0h38v1h-38zM625 823.0h37v1h-37zM626 824.0h37v1h-37zM627 825.0h36v1h-36zM628 826.0h35v1h-35zM629 827.0h34v1h-34zM630 828.0h34v1h-34zM631 829.0h33v1h-33zM632 830.0h32v1h-32zM633 831.0h32v1h-32zM633 832.0h32v1h-32zM634 833.0h31v1h-31zM634 834.0h32v1h-32zM635 835.0h31v1h-31zM635 836.0h32v1h-32zM635 837.0h32v1h-32zM635 838.0h32v1h-32zM636 839.0h31v1h-31zM636 840.0h31v1h-31zM636 841.0h31v1h-31zM636 842.0h31v1h-31zM637 843.0h30v1h-30zM637 844.0h30v1h-30zM638 845.0h29v1h-29zM639 846.0h28v1h-28zM640 847.0h27v1h-27zM641 848.0h26v1h-26zM643 849.0h23v1h-23zM649 850.0h17v1h-17zM651 851.0h15v1h-15zM653 852.0h12v1h-12zM655 853.0h9v1h-9zM659 854.0h2v1h-2z" fill="#bcbc1e"/><path d="M697 753.0h3v1h-3zM696 754.0h6v1h-6zM695 755.0h8v1h-8zM694 756.0h10v1h-10zM694 757.0h10v1h-10zM693 758.0h12v1h-12zM693 759.0h12v1h-12zM692 760.0h13v1h-13zM692 761.0h14v1h-14zM691 762.0h15v1h-15zM691 763.0h15v1h-15zM691 764.0h15v1h-15zM691 765.0h15v1h-15zM691 766.0h16v1h-16zM690 767.0h17v1h-17zM690 768.0h17v1h-17zM690 769.0h17v1h-17zM690 770.0h16v1h-16zM690 771.0h16v1h-16zM690 772.0h16v1h-16zM689 773.0h17v1h-17zM689 774.0h17v1h-17zM689 775.0h17v1h-17zM689 776.0h17v1h-17zM689 777.0h16v1h-16zM689 778.0h16v1h-16zM688 779.0h17v1h-17zM688 780.0h17v1h-17zM688 781.0h16v1h-16zM688 782.0h16v1h-16zM688 783.0h16v1h-16zM688 784.0h15v1h-15zM688 785.0h15v1h-15zM688 786.0h14v1h-14zM688 787.0h14v1h-14zM688 788.0h13v1h-13zM688 789.0h12v1h-12zM689 790.0h11v1h-11zM689 791.0h10v1h-10zM689 792.0h9v1h-9zM690 793.0h6v1h-6z" fill="#bcbc1e"/><g clip-path="url(#s5clip)"><path d="M629.6 775.5C633.2 775.0 638.6 780.7 643.8 782.6C649.0 784.5 658.0 782.6 660.9 786.9C663.7 791.1 660.6 801.8 660.9 808.2C661.1 814.5 664.2 821.4 662.3 825.2C660.4 829.0 653.8 830.9 649.5 830.9C645.3 830.9 640.5 828.5 636.7 825.2C632.9 821.9 629.9 815.3 626.8 811.0C623.7 806.7 619.0 803.9 618.3 799.6C617.6 795.4 620.6 789.5 622.5 785.4C624.4 781.4 626.1 776.0 629.6 775.5Z" fill="#9c9c8c" opacity="0.8" filter="url(#bl3)"/><path d="M656.7 705.2C658.9 705.2 662.1 705.9 663.8 708.3C665.6 710.7 666.4 715.4 667.4 719.6C668.3 723.9 669.3 729.1 669.5 733.8C669.7 738.6 669.2 743.3 668.8 748.0C668.4 752.8 668.0 758.0 667.4 762.2C666.8 766.5 666.0 769.8 665.3 773.6C664.5 777.4 663.9 785.8 663.1 784.9C662.4 784.1 661.7 768.8 660.9 768.4C660.0 768.0 659.2 777.9 658.0 782.6C656.8 787.3 655.2 792.8 653.8 796.8C652.4 800.8 651.2 805.8 649.5 806.7C647.9 807.7 645.5 804.6 643.8 802.5C642.2 800.3 640.8 797.3 639.6 794.0C638.4 790.6 637.3 786.9 636.7 782.6C636.1 778.3 635.8 773.1 636.0 768.4C636.3 763.7 637.6 758.9 638.2 754.2C638.7 749.5 639.0 744.3 639.6 740.0C640.2 735.7 640.9 732.0 641.8 728.2C642.8 724.3 643.8 720.1 645.4 716.8C646.9 713.5 649.2 710.2 651.1 708.3C652.9 706.3 654.6 705.2 656.7 705.2Z" fill="#8282fc" filter="url(#bl2)"/><path d="M658.0 738.7C657.6 741.4 656.7 744.6 655.9 746.7C655.0 748.8 653.7 750.7 652.7 751.4C651.6 752.1 650.4 751.9 649.6 751.0C648.8 750.0 648.1 747.9 647.8 745.6C647.6 743.3 647.7 740.0 648.0 737.3C648.4 734.6 649.3 731.4 650.1 729.3C651.0 727.2 652.3 725.3 653.3 724.6C654.4 723.9 655.6 724.1 656.4 725.0C657.2 726.0 657.9 728.1 658.2 730.4C658.4 732.7 658.3 736.0 658.0 738.7Z" fill="#6a6ae0" filter="url(#bl2)"/></g><clipPath id="s6clip"><path d="M874 758h5v1h-5zM872 759.0h10v1h-10zM871 760.0h12v1h-12zM870 761.0h14v1h-14zM870 762.0h15v1h-15zM869 763.0h17v1h-17zM868 764.0h19v1h-19zM868 765.0h19v1h-19zM867 766.0h21v1h-21zM867 767.0h21v1h-21zM867 768.0h22v1h-22zM866 769.0h23v1h-23zM866 770.0h24v1h-24zM865 771.0h25v1h-25zM865 772.0h25v1h-25zM865 773.0h26v1h-26zM864 774.0h27v1h-27zM864 775.0h27v1h-27zM863 776.0h29v1h-29zM863 777.0h29v1h-29zM863 778.0h29v1h-29zM862 779.0h31v1h-31zM862 780.0h31v1h-31zM862 781.0h31v1h-31zM862 782.0h31v1h-31zM861 783.0h33v1h-33zM861 784.0h33v1h-33zM861 785.0h33v1h-33zM860 786.0h34v1h-34zM860 787.0h35v1h-35zM860 788.0h35v1h-35zM860 789.0h35v1h-35zM859 790.0h36v1h-36zM859 791.0h37v1h-37zM859 792.0h37v1h-37zM858 793.0h38v1h-38zM858 794.0h38v1h-38zM858 795.0h38v1h-38zM858 796.0h38v1h-38zM857 797.0h40v1h-40zM857 798.0h40v1h-40zM857 799.0h40v1h-40zM857 800.0h40v1h-40zM856 801.0h41v1h-41zM856 802.0h41v1h-41zM856 803.0h41v1h-41zM856 804.0h41v1h-41zM856 805.0h41v1h-41zM856 806.0h41v1h-41zM856 807.0h41v1h-41zM856 808.0h41v1h-41zM856 809.0h42v1h-42zM856 810.0h42v1h-42zM856 811.0h42v1h-42zM856 812.0h42v1h-42zM856 813.0h42v1h-42zM856 814.0h42v1h-42zM856 815.0h42v1h-42zM856 816.0h42v1h-42zM856 817.0h42v1h-42zM856 818.0h42v1h-42zM856 819.0h42v1h-42zM856 820.0h42v1h-42zM857 821.0h41v1h-41zM857 822.0h41v1h-41zM857 823.0h41v1h-41zM857 824.0h41v1h-41zM858 825.0h40v1h-40zM858 826.0h40v1h-40zM858 827.0h40v1h-40zM859 828.0h39v1h-39zM859 829.0h39v1h-39zM859 830.0h39v1h-39zM860 831.0h38v1h-38zM860 832.0h38v1h-38zM861 833.0h37v1h-37zM861 834.0h38v1h-38zM862 835.0h37v1h-37zM862 836.0h37v1h-37zM863 837.0h36v1h-36zM863 838.0h36v1h-36zM864 839.0h35v1h-35zM864 840.0h35v1h-35zM865 841.0h34v1h-34zM865 842.0h34v1h-34zM866 843.0h33v1h-33zM866 844.0h33v1h-33zM867 845.0h32v1h-32zM867 846.0h32v1h-32zM867 847.0h32v1h-32zM868 848.0h31v1h-31zM868 849.0h31v1h-31zM869 850.0h30v1h-30zM869 851.0h30v1h-30zM870 852.0h29v1h-29zM870 853.0h29v1h-29zM871 854.0h28v1h-28zM872 855.0h27v1h-27zM873 856.0h26v1h-26zM873 857.0h26v1h-26zM874 858.0h25v1h-25zM875 859.0h24v1h-24zM876 860.0h23v1h-23zM878 861.0h21v1h-21zM879 862.0h20v1h-20zM881 863.0h18v1h-18zM882 864.0h16v1h-16zM885 865.0h13v1h-13zM887 866.0h10v1h-10zM890 867.0h6v1h-6z"/></clipPath><path d="M874 758h5v1h-5zM872 759.0h10v1h-10zM871 760.0h12v1h-12zM870 761.0h14v1h-14zM870 762.0h15v1h-15zM869 763.0h17v1h-17zM868 764.0h19v1h-19zM868 765.0h19v1h-19zM867 766.0h21v1h-21zM867 767.0h21v1h-21zM867 768.0h22v1h-22zM866 769.0h23v1h-23zM866 770.0h24v1h-24zM865 771.0h25v1h-25zM865 772.0h25v1h-25zM865 773.0h26v1h-26zM864 774.0h27v1h-27zM864 775.0h27v1h-27zM863 776.0h29v1h-29zM863 777.0h29v1h-29zM863 778.0h29v1h-29zM862 779.0h31v1h-31zM862 780.0h31v1h-31zM862 781.0h31v1h-31zM862 782.0h31v1h-31zM861 783.0h33v1h-33zM861 784.0h33v1h-33zM861 785.0h33v1h-33zM860 786.0h34v1h-34zM860 787.0h35v1h-35zM860 788.0h35v1h-35zM860 789.0h35v1h-35zM859 790.0h36v1h-36zM859 791.0h37v1h-37zM859 792.0h37v1h-37zM858 793.0h38v1h-38zM858 794.0h38v1h-38zM858 795.0h38v1h-38zM858 796.0h38v1h-38zM857 797.0h40v1h-40zM857 798.0h40v1h-40zM857 799.0h40v1h-40zM857 800.0h40v1h-40zM856 801.0h41v1h-41zM856 802.0h41v1h-41zM856 803.0h41v1h-41zM856 804.0h41v1h-41zM856 805.0h41v1h-41zM856 806.0h41v1h-41zM856 807.0h41v1h-41zM856 808.0h41v1h-41zM856 809.0h42v1h-42zM856 810.0h42v1h-42zM856 811.0h42v1h-42zM856 812.0h42v1h-42zM856 813.0h42v1h-42zM856 814.0h42v1h-42zM856 815.0h42v1h-42zM856 816.0h42v1h-42zM856 817.0h42v1h-42zM856 818.0h42v1h-42zM856 819.0h42v1h-42zM856 820.0h42v1h-42zM857 821.0h41v1h-41zM857 822.0h41v1h-41zM857 823.0h41v1h-41zM857 824.0h41v1h-41zM858 825.0h40v1h-40zM858 826.0h40v1h-40zM858 827.0h40v1h-40zM859 828.0h39v1h-39zM859 829.0h39v1h-39zM859 830.0h39v1h-39zM860 831.0h38v1h-38zM860 832.0h38v1h-38zM861 833.0h37v1h-37zM861 834.0h38v1h-38zM862 835.0h37v1h-37zM862 836.0h37v1h-37zM863 837.0h36v1h-36zM863 838.0h36v1h-36zM864 839.0h35v1h-35zM864 840.0h35v1h-35zM865 841.0h34v1h-34zM865 842.0h34v1h-34zM866 843.0h33v1h-33zM866 844.0h33v1h-33zM867 845.0h32v1h-32zM867 846.0h32v1h-32zM867 847.0h32v1h-32zM868 848.0h31v1h-31zM868 849.0h31v1h-31zM869 850.0h30v1h-30zM869 851.0h30v1h-30zM870 852.0h29v1h-29zM870 853.0h29v1h-29zM871 854.0h28v1h-28zM872 855.0h27v1h-27zM873 856.0h26v1h-26zM873 857.0h26v1h-26zM874 858.0h25v1h-25zM875 859.0h24v1h-24zM876 860.0h23v1h-23zM878 861.0h21v1h-21zM879 862.0h20v1h-20zM881 863.0h18v1h-18zM882 864.0h16v1h-16zM885 865.0h13v1h-13zM887 866.0h10v1h-10zM890 867.0h6v1h-6z" fill="#a2a2b2"/><g clip-path="url(#s6clip)"><path d="M875.1 760.2L876.1 760.0L877.2 760.3L878.9 760.9L880.6 761.9L882.1 763.2L883.6 764.8L885.0 766.8L886.3 769.0L887.5 771.5L888.5 774.2L889.5 777.2L890.5 780.3L891.5 783.8L892.5 787.4L893.4 791.1L894.1 794.5L894.6 797.5L895.0 800.1L895.2 802.8L895.5 805.5L895.7 808.4L895.9 811.5L896.0 814.7L896.2 818.0L896.4 821.7L896.6 826.1L896.7 830.5L896.9 834.5L897.1 838.3L897.4 841.9L897.6 845.4L897.6 848.7L897.6 852.2L897.5 855.8L897.3 859.0L896.9 861.5L896.3 863.3L895.6 864.5L894.7 865.3L893.4 865.8L891.6 865.9L889.5 865.7L887.2 865.2L884.8 864.4L882.4 863.3L879.8 862.0L877.3 860.4L875.9 858.7L874.8 856.8L873.7 854.7L872.7 852.5L871.2 850.2L870.0 847.8L869.0 845.4L868.1 842.8L867.0 840.2L865.6 837.5L864.1 834.7L862.6 831.8L861.3 828.9L860.2 825.8L859.1 822.7L858.3 819.5L857.7 816.9L857.4 814.1L857.3 811.3L857.4 808.4L857.7 805.5L858.3 802.3L859.2 798.8L860.3 795.2L861.3 791.7L862.3 788.1L863.3 784.5L864.4 780.9L865.5 777.5L866.9 774.0L868.3 770.5L869.8 767.3L871.2 764.7L872.6 762.9L873.4 761.5L874.2 760.7Z" fill="#8585fb" filter="url(#bl1)"/><path d="M886.0 808.5C885.8 810.9 885.3 813.8 884.6 815.9C883.9 818.0 882.9 820.0 881.8 821.2C880.8 822.4 879.5 823.0 878.5 823.0C877.4 822.9 876.2 822.0 875.4 820.7C874.5 819.4 873.8 817.3 873.4 815.1C873.0 812.9 872.8 810.0 873.0 807.5C873.2 805.1 873.7 802.2 874.4 800.1C875.1 798.0 876.1 796.0 877.2 794.8C878.2 793.6 879.5 793.0 880.5 793.0C881.6 793.1 882.8 794.0 883.6 795.3C884.5 796.6 885.2 798.7 885.6 800.9C886.0 803.1 886.2 806.0 886.0 808.5Z" fill="#4c4cac" filter="url(#bl3)"/><path d="M887.0 838.3C886.9 840.3 886.5 842.5 886.0 844.2C885.6 845.9 884.9 847.5 884.3 848.5C883.6 849.5 882.8 850.0 882.2 850.0C881.5 849.9 880.8 849.3 880.3 848.2C879.8 847.2 879.3 845.5 879.1 843.7C878.9 842.0 878.9 839.7 879.0 837.7C879.1 835.7 879.5 833.5 880.0 831.8C880.4 830.1 881.1 828.5 881.7 827.5C882.4 826.5 883.2 826.0 883.8 826.0C884.5 826.1 885.2 826.7 885.7 827.8C886.2 828.8 886.7 830.5 886.9 832.3C887.1 834.0 887.1 836.3 887.0 838.3Z" fill="#7070e0" filter="url(#bl3)"/></g><clipPath id="s6clipb"><path d="M822 780.0h5v1h-5zM820 781.0h9v1h-9zM819 782.0h11v1h-11zM819 783.0h12v1h-12zM818 784.0h14v1h-14zM818 785.0h15v1h-15zM817 786.0h16v1h-16zM817 787.0h17v1h-17zM817 788.0h17v1h-17zM816 789.0h18v1h-18zM816 790.0h19v1h-19zM816 791.0h19v1h-19zM816 792.0h19v1h-19zM816 793.0h19v1h-19zM816 794.0h20v1h-20zM816 795.0h20v1h-20zM816 796.0h20v1h-20zM816 797.0h20v1h-20zM816 798.0h20v1h-20zM816 799.0h20v1h-20zM816 800.0h21v1h-21zM816 801.0h21v1h-21zM817 802.0h20v1h-20zM817 803.0h20v1h-20zM817 804.0h20v1h-20zM818 805.0h19v1h-19zM818 806.0h19v1h-19zM819 807.0h18v1h-18zM819 808.0h18v1h-18zM820 809.0h17v1h-17zM820 810.0h17v1h-17zM821 811.0h15v1h-15zM822 812.0h14v1h-14zM823 813.0h13v1h-13zM824 814.0h11v1h-11zM825 815.0h8v1h-8zM827 816.0h5v1h-5z"/></clipPath><path d="M822 780.0h5v1h-5zM820 781.0h9v1h-9zM819 782.0h11v1h-11zM819 783.0h12v1h-12zM818 784.0h14v1h-14zM818 785.0h15v1h-15zM817 786.0h16v1h-16zM817 787.0h17v1h-17zM817 788.0h17v1h-17zM816 789.0h18v1h-18zM816 790.0h19v1h-19zM816 791.0h19v1h-19zM816 792.0h19v1h-19zM816 793.0h19v1h-19zM816 794.0h20v1h-20zM816 795.0h20v1h-20zM816 796.0h20v1h-20zM816 797.0h20v1h-20zM816 798.0h20v1h-20zM816 799.0h20v1h-20zM816 800.0h21v1h-21zM816 801.0h21v1h-21zM817 802.0h20v1h-20zM817 803.0h20v1h-20zM817 804.0h20v1h-20zM818 805.0h19v1h-19zM818 806.0h19v1h-19zM819 807.0h18v1h-18zM819 808.0h18v1h-18zM820 809.0h17v1h-17zM820 810.0h17v1h-17zM821 811.0h15v1h-15zM822 812.0h14v1h-14zM823 813.0h13v1h-13zM824 814.0h11v1h-11zM825 815.0h8v1h-8zM827 816.0h5v1h-5z" fill="#a0a0a6"/><g clip-path="url(#s6clipb)"><path d="M832.4 798.0C832.7 799.9 832.7 802.3 832.3 803.9C831.9 805.6 831.0 807.3 830.0 808.0C829.0 808.8 827.5 809.1 826.3 808.7C825.1 808.3 823.7 807.1 822.7 805.6C821.8 804.2 820.9 802.0 820.6 800.0C820.3 798.1 820.3 795.7 820.7 794.1C821.1 792.4 822.0 790.7 823.0 790.0C824.0 789.2 825.5 788.9 826.7 789.3C827.9 789.7 829.3 790.9 830.3 792.4C831.2 793.8 832.1 796.0 832.4 798.0Z" fill="#9292cc" filter="url(#bl2)"/></g><rect x="72.5" y="577.5" width="928" height="407.5" fill="none" stroke="#858585" stroke-width="1"/><g stroke="#4a4a4a" stroke-width="1" shape-rendering="auto"><line x1="73" y1="974.50" x2="82" y2="974.50"/><line x1="73" y1="955.50" x2="82" y2="955.50"/><line x1="73" y1="936.50" x2="82" y2="936.50"/><line x1="73" y1="918.50" x2="91" y2="918.50"/><line x1="73" y1="899.50" x2="82" y2="899.50"/><line x1="73" y1="880.50" x2="82" y2="880.50"/><line x1="73" y1="862.50" x2="82" y2="862.50"/><line x1="73" y1="843.50" x2="82" y2="843.50"/><line x1="73" y1="824.50" x2="91" y2="824.50"/><line x1="73" y1="806.50" x2="82" y2="806.50"/><line x1="73" y1="787.50" x2="82" y2="787.50"/><line x1="73" y1="768.50" x2="82" y2="768.50"/><line x1="73" y1="750.50" x2="82" y2="750.50"/><line x1="73" y1="731.50" x2="91" y2="731.50"/><line x1="73" y1="712.50" x2="82" y2="712.50"/><line x1="73" y1="694.50" x2="82" y2="694.50"/><line x1="73" y1="675.50" x2="82" y2="675.50"/><line x1="73" y1="656.50" x2="82" y2="656.50"/><line x1="73" y1="638.50" x2="91" y2="638.50"/><line x1="73" y1="619.50" x2="82" y2="619.50"/><line x1="73" y1="600.50" x2="82" y2="600.50"/><line x1="73" y1="581.50" x2="82" y2="581.50"/></g><line x1="91" y1="731.6" x2="1001" y2="731.6" stroke="#000" stroke-width="1.2"/><g fill="none" stroke="#000" stroke-width="1.25" stroke-linejoin="round"><path d="M187.3 731.7C187.6 726.6 187.6 721.6 187.7 716.8C187.9 711.9 188.4 707.3 188.5 702.6C188.5 697.9 188.1 691.9 188.2 688.4C188.3 684.8 188.4 683.3 189.2 681.3C189.9 679.3 191.2 677.3 192.7 676.3C194.3 675.4 196.3 675.1 198.4 675.6C200.5 676.1 203.1 678.5 205.5 679.2C207.9 679.9 210.0 680.2 212.6 679.9C215.2 679.5 218.0 678.1 221.1 677.0C224.2 676.0 227.7 674.2 231.1 673.5C234.4 672.7 237.7 672.4 241.0 672.5C244.3 672.6 247.9 673.0 250.9 674.2C254.0 675.4 256.8 677.0 259.5 679.9C262.1 682.7 264.8 687.0 266.5 691.2C268.3 695.5 269.3 700.7 270.1 705.4C270.9 710.2 271.3 715.3 271.5 719.6C271.7 724.0 271.6 725.7 271.4 731.7C271.2 737.7 271.5 748.0 270.4 755.5C269.4 763.0 267.1 770.4 265.1 776.6C263.2 782.7 260.8 787.6 258.6 792.4C256.4 797.2 254.8 801.2 252.0 805.6C249.1 810.0 245.4 814.4 241.4 818.8C237.5 823.2 232.8 828.0 228.2 832.0C223.6 835.9 218.1 839.2 213.7 842.5C209.3 845.8 206.0 849.8 201.9 851.7C197.7 853.7 193.1 854.6 188.7 854.4C184.3 854.2 179.9 852.4 175.5 850.4C171.1 848.4 166.7 846.5 162.3 842.5C157.9 838.6 152.4 832.4 149.1 826.7C145.8 821.0 143.6 813.9 142.5 808.2C141.4 802.5 141.6 797.0 142.5 792.4C143.4 787.8 144.9 783.4 147.8 780.5C150.7 777.7 155.5 776.6 159.7 775.3C163.8 773.9 169.1 774.6 172.8 772.6C176.6 770.6 179.9 767.6 182.1 763.4C184.3 759.2 185.2 752.9 186.0 747.6C186.9 742.3 187.0 736.8 187.3 731.7Z"/><path d="M238.2 678.0C241.9 678.2 246.0 678.9 249.5 680.6C253.1 682.3 256.7 685.0 259.5 688.4C262.2 691.8 264.4 696.4 265.8 701.2C267.3 705.9 267.8 711.7 268.3 716.8C268.7 721.9 268.7 727.8 268.5 731.7C268.3 735.6 268.6 736.7 267.1 740.0C265.7 743.3 261.8 747.3 259.8 751.4C257.8 755.4 257.1 760.0 254.9 764.3C252.8 768.7 249.5 773.3 246.8 777.3C244.1 781.4 241.0 784.9 238.7 788.7C236.4 792.5 234.4 796.5 233.0 800.0C231.7 803.6 231.8 806.5 230.6 809.8C229.4 813.0 227.9 816.5 225.7 819.5C223.6 822.5 220.9 825.3 217.6 827.6C214.4 829.9 209.8 831.7 206.3 833.3C202.8 834.9 199.8 836.6 196.5 837.4C193.3 838.2 190.0 838.7 186.8 838.2C183.5 837.6 180.3 835.9 177.1 834.1C173.8 832.4 170.2 830.1 167.3 827.6C164.5 825.2 162.2 822.2 160.0 819.5C157.9 816.8 155.6 814.4 154.3 811.4C153.1 808.4 152.4 804.6 152.4 801.7C152.4 798.7 152.7 795.7 154.3 793.5C156.0 791.4 159.2 789.7 162.5 788.7C165.8 787.6 171.2 787.4 174.1 787.3C177.1 787.2 178.4 787.6 180.2 788.3C182.0 789.1 183.4 790.3 184.8 791.9C186.1 793.5 187.1 796.1 188.3 798.0C189.6 799.8 190.9 801.8 192.4 803.0C193.9 804.3 195.8 805.3 197.5 805.6C199.1 805.8 201.2 805.4 202.5 804.5C203.9 803.7 205.1 801.9 205.6 800.5C206.0 799.1 205.9 797.4 205.1 795.9C204.2 794.5 202.3 793.0 200.5 791.9C198.7 790.7 196.4 789.9 194.4 788.8C192.4 787.7 189.8 786.6 188.3 785.3C186.9 783.9 186.3 782.7 185.8 780.7C185.3 778.8 185.3 776.1 185.3 773.6C185.3 771.1 185.4 768.5 185.8 765.5C186.2 762.5 187.1 759.2 187.8 755.4C188.5 751.5 189.3 746.4 189.8 742.2C190.4 737.9 190.0 734.2 190.9 730.0C191.7 725.8 193.5 721.1 194.8 716.8C196.2 712.5 197.3 708.0 199.1 704.0C200.9 700.0 202.8 695.9 205.5 692.7C208.2 689.5 211.9 687.0 215.4 684.8C219.0 682.7 223.0 681.0 226.8 679.9C230.6 678.7 234.4 677.9 238.2 678.0Z"/><path d="M238.2 683.9C241.8 684.1 245.6 684.6 248.8 686.3C252.0 688.0 255.1 690.9 257.3 694.1C259.6 697.3 261.1 701.2 262.3 705.4C263.5 709.7 264.3 715.3 264.7 719.6C265.1 724.0 264.9 728.3 264.8 731.7C264.8 735.1 264.8 737.0 264.4 740.1C264.0 743.2 263.4 746.9 262.4 750.3C261.3 753.7 260.0 757.3 258.3 760.4C256.6 763.6 254.4 766.7 252.2 769.0C250.0 771.4 247.5 772.8 245.1 774.6C242.8 776.4 240.2 778.3 238.0 779.7C235.8 781.0 234.0 781.9 231.9 782.7C229.9 783.6 227.9 784.3 225.9 784.8C223.8 785.3 222.0 785.7 219.8 785.8C217.6 785.9 215.0 785.8 212.7 785.3C210.3 784.8 207.8 784.0 205.6 782.7C203.4 781.5 201.2 779.7 199.5 777.7C197.8 775.6 196.4 773.4 195.4 770.6C194.5 767.7 194.1 764.7 193.9 760.4C193.7 756.2 194.2 750.3 194.4 745.2C194.7 740.1 195.1 734.3 195.4 730.0C195.7 725.7 195.5 723.3 196.3 719.6C197.0 716.0 198.3 711.9 199.8 708.3C201.4 704.6 202.9 700.8 205.5 697.6C208.1 694.4 211.9 691.2 215.4 689.1C219.0 687.0 223.0 685.7 226.8 684.8C230.6 684.0 234.5 683.6 238.2 683.9Z"/><path d="M200.2 734.3C200.3 732.8 200.4 731.2 200.5 729.6C200.6 728.0 200.6 726.4 200.8 724.7C201.0 723.1 201.2 721.4 201.6 719.7C202.0 718.0 202.5 716.3 203.1 714.5C203.7 712.8 204.4 711.0 205.2 709.2C206.1 707.4 206.9 705.4 208.1 703.6C209.3 701.9 210.7 700.3 212.3 698.8C213.9 697.3 215.6 695.9 217.5 694.7C219.4 693.5 221.5 692.5 223.7 691.7C225.8 690.9 228.1 690.3 230.4 689.9C232.7 689.6 235.2 689.4 237.5 689.5C239.9 689.7 242.4 689.9 244.6 690.8C246.8 691.6 248.9 693.0 250.7 694.6C252.4 696.2 254.0 698.3 255.2 700.3C256.4 702.3 257.2 704.7 257.9 706.9C258.6 709.0 259.1 711.2 259.5 713.2C259.9 715.3 260.1 717.2 260.3 719.1C260.5 721.0 260.6 722.8 260.7 724.5C260.8 726.2 260.7 727.9 260.7 729.6C260.6 731.2 260.6 732.8 260.6 734.3C260.5 735.9 260.4 737.5 260.2 739.1C260.0 740.6 259.7 742.2 259.4 743.8C259.1 745.3 258.7 746.9 258.2 748.5C257.7 750.1 257.2 751.7 256.5 753.3C255.8 754.9 255.0 756.5 254.1 758.0C253.2 759.6 252.2 761.2 251.0 762.7C249.8 764.1 248.4 765.4 246.9 766.7C245.4 768.0 243.8 769.1 242.1 770.3C240.4 771.6 238.7 773.1 236.7 774.2C234.8 775.3 232.6 776.4 230.4 777.2C228.2 778.0 225.7 778.8 223.3 779.0C220.9 779.3 218.4 779.2 216.0 778.8C213.6 778.3 211.2 777.4 209.1 776.2C207.0 774.9 205.1 773.2 203.6 771.2C202.1 769.3 201.0 766.9 200.2 764.5C199.5 762.2 199.3 759.4 199.2 757.0C199.0 754.7 199.2 752.3 199.2 750.2C199.3 748.1 199.4 746.2 199.5 744.4C199.6 742.5 199.7 740.9 199.8 739.2C199.9 737.5 200.1 735.9 200.2 734.3Z"/><path d="M206.4 733.8C206.5 732.5 206.7 731.3 206.7 730.0C206.8 728.7 206.8 727.4 207.0 726.0C207.1 724.7 207.4 723.3 207.7 721.9C208.0 720.6 208.4 719.2 208.9 717.8C209.4 716.4 209.9 714.9 210.6 713.4C211.2 712.0 211.9 710.4 212.9 708.9C213.8 707.5 214.9 706.2 216.2 704.9C217.5 703.6 218.9 702.4 220.4 701.4C221.9 700.3 223.6 699.4 225.4 698.7C227.1 697.9 229.0 697.3 230.9 696.9C232.8 696.6 234.9 696.4 236.8 696.5C238.8 696.6 240.9 696.9 242.7 697.7C244.5 698.4 246.2 699.7 247.6 701.1C249.0 702.4 250.2 704.2 251.2 705.9C252.2 707.6 252.8 709.6 253.4 711.4C253.9 713.1 254.3 714.9 254.6 716.6C254.9 718.3 255.1 719.9 255.2 721.4C255.4 723.0 255.5 724.4 255.5 725.8C255.5 727.2 255.5 728.6 255.5 729.9C255.4 731.2 255.4 732.5 255.3 733.8C255.3 735.1 255.2 736.3 255.0 737.6C254.9 738.9 254.7 740.1 254.4 741.4C254.1 742.7 253.8 744.0 253.4 745.3C253.0 746.5 252.6 747.8 252.0 749.1C251.5 750.4 250.9 751.7 250.2 753.0C249.4 754.3 248.6 755.6 247.7 756.8C246.7 758.1 245.6 759.2 244.4 760.3C243.2 761.4 242.0 762.4 240.6 763.5C239.2 764.6 237.8 765.8 236.2 766.8C234.6 767.8 232.8 768.8 230.9 769.5C229.1 770.2 227.0 770.8 225.0 771.0C223.0 771.2 220.9 771.0 219.0 770.6C217.1 770.1 215.1 769.2 213.4 768.1C211.8 767.0 210.3 765.5 209.1 763.8C207.9 762.2 207.0 760.2 206.5 758.3C205.9 756.3 205.8 754.1 205.6 752.2C205.5 750.2 205.6 748.4 205.7 746.7C205.7 745.0 205.8 743.4 205.9 741.9C206.0 740.4 206.1 739.1 206.1 737.7C206.2 736.4 206.3 735.1 206.4 733.8Z"/><path d="M213.9 733.1C213.9 732.2 214.0 731.3 214.1 730.4C214.2 729.4 214.2 728.5 214.3 727.6C214.5 726.6 214.6 725.6 214.9 724.6C215.1 723.7 215.4 722.7 215.7 721.6C216.1 720.6 216.4 719.6 216.9 718.5C217.4 717.4 217.9 716.3 218.5 715.2C219.2 714.1 219.9 713.1 220.8 712.1C221.7 711.1 222.7 710.1 223.8 709.3C224.9 708.4 226.1 707.5 227.4 706.9C228.7 706.2 230.1 705.6 231.5 705.2C233.0 704.8 234.6 704.6 236.0 704.7C237.5 704.8 239.1 705.2 240.4 705.8C241.7 706.5 243.0 707.6 244.0 708.7C245.0 709.8 245.8 711.2 246.5 712.5C247.2 713.9 247.6 715.3 248.0 716.7C248.4 718.0 248.6 719.4 248.8 720.6C249.0 721.8 249.1 723.0 249.2 724.1C249.3 725.3 249.3 726.3 249.4 727.4C249.4 728.4 249.3 729.4 249.3 730.3C249.3 731.3 249.2 732.2 249.2 733.1C249.1 734.1 249.0 735.0 248.9 735.9C248.8 736.8 248.6 737.7 248.4 738.6C248.2 739.5 248.0 740.5 247.7 741.4C247.5 742.3 247.2 743.3 246.8 744.2C246.4 745.2 246.0 746.1 245.5 747.1C245.0 748.0 244.4 749.0 243.8 750.0C243.1 750.9 242.3 751.8 241.5 752.7C240.7 753.6 239.7 754.4 238.7 755.3C237.7 756.2 236.7 757.3 235.5 758.1C234.3 759.0 232.9 759.8 231.5 760.4C230.1 760.9 228.5 761.4 227.0 761.5C225.5 761.6 223.9 761.3 222.5 760.8C221.1 760.3 219.7 759.5 218.6 758.6C217.4 757.6 216.4 756.3 215.6 755.0C214.8 753.8 214.2 752.3 213.8 750.8C213.4 749.4 213.4 747.8 213.3 746.4C213.2 745.0 213.3 743.7 213.3 742.4C213.3 741.2 213.4 740.1 213.4 739.0C213.5 737.9 213.6 737.0 213.6 736.0C213.7 735.0 213.8 734.1 213.9 733.1Z"/><path d="M239.2 733.3C238.8 735.3 238.2 737.6 237.4 739.4C236.7 741.1 235.7 742.8 234.7 744.0C233.7 745.2 232.6 746.0 231.5 746.3C230.5 746.6 229.4 746.4 228.6 745.8C227.7 745.1 226.9 743.9 226.4 742.5C225.8 741.1 225.5 739.2 225.4 737.2C225.3 735.3 225.4 733.0 225.8 730.9C226.2 728.9 226.8 726.6 227.6 724.8C228.3 723.1 229.3 721.4 230.3 720.2C231.3 719.0 232.4 718.2 233.5 717.9C234.5 717.6 235.6 717.8 236.4 718.4C237.3 719.1 238.1 720.3 238.6 721.7C239.2 723.1 239.5 725.0 239.6 727.0C239.7 728.9 239.6 731.2 239.2 733.3Z"/><path d="M232.1 732.6C232.0 733.3 231.6 734.1 231.1 734.5C230.7 734.9 230.1 735.1 229.6 735.1C229.1 735.0 228.6 734.5 228.4 734.0C228.1 733.5 228.0 732.6 228.1 732.0C228.2 731.3 228.6 730.5 229.1 730.1C229.5 729.7 230.1 729.5 230.6 729.5C231.1 729.6 231.6 730.1 231.8 730.6C232.1 731.1 232.2 732.0 232.1 732.6Z"/><path d="M103.0 702.7C103.4 698.6 106.5 697.6 109.6 696.1C112.6 694.7 117.9 693.9 121.4 694.3C124.9 694.7 128.2 696.3 130.7 698.8C133.1 701.3 134.5 705.6 135.9 709.3C137.3 713.1 139.1 717.9 139.1 721.2C139.1 724.5 138.0 727.4 135.9 729.1C133.9 730.9 130.0 731.5 126.7 731.8C123.4 732.0 119.4 732.2 116.1 730.4C112.9 728.7 109.1 725.8 106.9 721.2C104.7 716.6 102.5 706.9 103.0 702.7Z"/><path d="M91.1 781.9C92.4 778.6 95.5 778.1 97.7 777.9C99.9 777.7 102.8 778.6 104.3 780.5C105.7 782.5 106.6 786.0 106.4 789.8C106.2 793.5 104.6 799.2 103.0 803.0C101.3 806.7 98.4 810.3 96.4 812.2C94.3 814.0 91.7 816.4 90.6 814.0C89.5 811.6 89.7 803.0 89.8 797.7C89.9 792.3 89.8 785.2 91.1 781.9Z"/><path d="M129.7 877.1C129.1 879.8 127.9 882.8 126.6 885.0C125.3 887.3 123.6 889.3 122.0 890.3C120.5 891.4 118.7 891.8 117.3 891.5C115.9 891.1 114.5 889.9 113.7 888.2C112.8 886.6 112.2 884.0 112.1 881.4C112.0 878.9 112.4 875.7 113.1 872.9C113.7 870.2 114.9 867.2 116.2 865.0C117.5 862.7 119.2 860.7 120.8 859.7C122.3 858.6 124.1 858.2 125.5 858.5C126.9 858.9 128.3 860.1 129.1 861.8C130.0 863.4 130.6 866.0 130.7 868.6C130.8 871.1 130.4 874.3 129.7 877.1Z"/><path d="M312.6 832.0C315.9 833.9 314.8 844.3 313.9 850.4C313.1 856.6 310.6 863.2 307.3 868.9C304.0 874.6 299.9 880.3 294.2 884.7C288.4 889.1 279.7 892.8 273.1 895.3C266.5 897.7 258.8 899.6 254.6 899.2C250.4 898.8 248.4 895.9 248.0 892.6C247.6 889.3 249.5 884.3 252.0 879.4C254.4 874.6 258.6 868.4 262.5 863.6C266.5 858.8 270.4 854.6 275.7 850.4C281.0 846.2 288.0 841.6 294.2 838.6C300.3 835.5 309.3 830.0 312.6 832.0Z"/><path d="M273.1 861.0C274.6 857.0 277.5 852.6 281.0 850.4C284.5 848.2 290.4 847.3 294.2 847.8C297.9 848.2 302.1 850.0 303.4 853.1C304.7 856.1 303.6 862.3 302.1 866.2C300.5 870.2 297.7 874.2 294.2 876.8C290.6 879.3 284.7 882.0 281.0 881.5C277.2 881.1 273.1 877.6 271.7 874.2C270.4 870.7 271.5 864.9 273.1 861.0Z"/><path d="M236.8 738.1L268.6 737.6M236.8 751.9L268.6 751.4M236.8 765.7L268.6 765.2M206.7 734.3L215.7 714.3M205.1 751.8L217.3 724.4M205.1 765.6L217.3 738.2M205.9 777.6L216.5 753.8M207.3 787.6L215.1 771.4M219.7 722.4L230.3 698.6M217.3 741.7L232.7 706.9M216.5 757.3L233.5 718.9M216.9 770.2L233.1 733.6M218.5 780.3L231.5 751.1M219.7 790.3L230.3 768.7M221.7 799.5L228.3 787.1M235.7 716.8L241.9 704.2M234.9 732.4L242.7 716.2M235.0 745.2L242.6 731.0M232.5 760.9L245.1 742.9M231.7 772.8L245.9 758.6M232.7 784.6L244.9 774.4M247.2 742.6L258.0 733.6M246.0 756.5L259.2 747.3M245.7 769.7L259.5 761.7M108.4 747.2L120.8 729.0M107.3 762.7L121.9 741.1M121.1 748.9L135.7 727.3M120.0 764.3L136.8 739.5M122.2 774.8L134.6 756.6M135.5 748.0L148.9 728.2M136.6 760.2L147.8 743.6M110.1 772.3L119.1 759.1M166.5 856.0L182.7 830.1M167.3 870.6L197.3 830.1M177.1 857.6L186.8 840.6M242.0 856.0L261.4 882.8"/><path d="M673.8 670.6C678.7 670.8 683.5 671.2 688.0 672.8C692.5 674.3 696.7 676.6 700.7 679.9C704.8 683.2 708.9 687.7 712.1 692.7C715.3 697.6 717.9 704.0 719.9 709.7C721.9 715.4 723.2 721.1 724.2 726.7C725.1 732.4 725.7 738.6 725.6 743.8C725.5 749.0 724.8 753.2 723.5 758.0C722.2 762.7 719.9 767.9 717.8 772.2C715.7 776.4 713.3 779.9 710.7 783.5C708.1 787.2 704.4 790.8 702.0 794.0C699.7 797.1 698.7 799.9 696.4 802.5C694.0 805.1 690.9 807.7 687.8 809.6C684.8 811.5 680.7 812.2 677.9 813.8C675.1 815.5 672.6 817.4 670.8 819.5C669.0 821.6 668.4 824.2 667.3 826.6C666.1 829.0 665.2 832.1 663.7 833.7C662.2 835.4 660.4 836.3 658.0 836.5C655.7 836.8 652.4 836.1 649.5 835.1C646.7 834.2 643.8 832.5 641.0 830.9C638.2 829.2 634.8 826.5 632.5 825.2C630.1 823.9 629.6 823.1 626.8 823.1C624.0 823.1 619.0 824.6 615.4 825.2C611.9 825.7 608.8 826.8 605.5 826.3C602.2 825.9 598.5 824.4 595.6 822.4C592.6 820.3 589.9 817.1 587.7 813.8C585.6 810.5 583.7 806.3 582.8 802.5C581.8 798.7 581.6 794.7 582.1 791.1C582.5 787.6 583.8 783.9 585.6 781.2C587.4 778.5 589.9 776.7 592.7 774.8C595.6 772.9 599.6 771.6 602.7 769.8C605.7 768.0 609.3 766.7 611.2 764.1C613.1 761.5 613.1 758.2 614.0 754.2C615.0 750.2 616.0 744.3 616.9 740.0C617.7 735.7 618.0 732.7 619.1 728.2C620.2 723.6 621.9 717.5 623.4 712.5C624.8 707.6 625.9 702.8 627.6 698.3C629.4 693.8 631.3 689.1 634.0 685.6C636.7 682.0 639.9 679.3 644.0 677.0C648.0 674.8 653.2 673.1 658.2 672.1C663.1 671.0 668.8 670.5 673.8 670.6Z"/><path d="M673.8 677.7C678.3 677.9 682.5 678.3 686.5 679.9C690.6 681.4 694.4 683.7 697.9 687.0C701.5 690.3 705.1 695.0 707.8 699.8C710.6 704.5 712.8 710.0 714.2 715.4C715.7 720.7 716.1 726.3 716.4 731.7C716.6 737.1 716.4 742.9 715.7 748.0C714.9 753.1 713.6 758.2 712.1 762.2C710.6 766.3 709.5 768.1 706.4 772.2C703.3 776.3 696.9 783.7 693.5 786.9C690.2 790.0 689.0 789.9 686.4 791.1C683.8 792.3 680.7 793.1 677.9 794.0C675.1 794.8 672.0 795.1 669.4 796.1C666.8 797.0 664.4 798.3 662.3 799.6C660.2 800.9 658.5 802.5 656.6 803.9C654.7 805.2 652.6 807.7 650.9 807.7C649.3 807.7 648.1 805.7 646.7 803.9C645.3 802.1 643.8 799.4 642.4 796.8C641.0 794.2 639.8 790.9 638.2 788.3C636.5 785.7 634.4 783.5 632.5 781.2C630.6 778.8 628.2 776.7 626.8 774.1C625.4 771.5 624.5 768.9 624.0 765.6C623.4 762.2 623.1 758.5 623.2 754.2C623.4 749.9 624.2 743.7 624.7 740.0C625.2 736.3 625.6 735.1 626.2 731.7C626.8 728.3 627.3 724.0 628.3 719.6C629.4 715.3 630.9 709.9 632.6 705.4C634.3 700.9 635.9 696.2 638.3 692.7C640.6 689.1 643.2 686.4 646.8 684.1C650.3 681.9 655.1 680.2 659.6 679.2C664.1 678.1 669.3 677.6 673.8 677.7Z"/><path d="M673.8 685.3C677.6 685.3 681.6 685.5 685.1 687.0C688.7 688.4 692.0 690.8 695.1 694.1C698.1 697.4 701.3 702.4 703.6 706.9C705.8 711.4 707.6 716.9 708.6 721.1C709.5 725.2 709.4 727.4 709.3 731.7C709.1 736.0 708.8 742.0 707.8 746.6C706.9 751.2 705.5 755.4 703.6 759.4C701.7 763.4 699.3 767.4 696.5 770.7C693.6 774.1 690.1 777.0 686.5 779.3C683.0 781.5 679.5 783.2 675.2 784.2C670.9 785.3 665.7 785.9 661.0 785.7C656.3 785.4 650.6 784.8 646.8 782.8C643.0 780.8 640.4 777.5 638.3 773.6C636.1 769.7 635.0 764.1 634.0 759.4C633.1 754.7 632.6 749.8 632.6 745.2C632.6 740.6 633.3 736.4 634.0 731.7C634.7 727.0 635.4 721.6 636.9 716.8C638.3 711.9 640.2 706.6 642.5 702.6C644.9 698.6 647.7 695.3 651.1 692.7C654.4 690.0 658.6 687.9 662.4 686.7C666.2 685.5 670.0 685.2 673.8 685.3Z"/><path d="M641.2 733.8C641.4 732.2 641.6 730.6 641.9 729.1C642.1 727.5 642.3 725.9 642.7 724.4C643.0 722.8 643.3 721.2 643.8 719.6C644.2 718.0 644.7 716.4 645.3 714.7C646.0 713.0 646.6 711.3 647.5 709.7C648.3 708.0 649.3 706.3 650.5 704.7C651.7 703.2 653.0 701.6 654.5 700.3C656.1 699.0 657.8 697.8 659.6 696.8C661.4 695.8 663.3 694.9 665.3 694.3C667.3 693.8 669.5 693.5 671.6 693.4C673.7 693.2 675.9 693.2 678.0 693.5C680.1 693.8 682.2 694.3 684.1 695.2C686.0 696.1 687.8 697.4 689.4 698.8C691.0 700.2 692.3 701.9 693.6 703.5C694.8 705.1 695.9 706.9 696.8 708.5C697.8 710.2 698.6 712.0 699.3 713.7C700.0 715.4 700.5 717.1 701.0 718.8C701.5 720.5 702.0 722.1 702.3 723.8C702.5 725.5 702.6 727.2 702.6 728.9C702.6 730.5 702.5 732.1 702.5 733.8C702.4 735.4 702.3 737.0 702.1 738.6C701.9 740.2 701.7 741.8 701.3 743.4C701.0 745.0 700.5 746.6 700.0 748.2C699.5 749.9 698.9 751.5 698.1 753.0C697.4 754.6 696.6 756.3 695.6 757.8C694.7 759.4 693.6 761.0 692.4 762.4C691.2 763.9 689.8 765.3 688.3 766.6C686.8 767.9 685.2 769.1 683.4 770.2C681.7 771.2 679.8 772.2 677.8 772.9C675.8 773.6 673.7 774.1 671.6 774.5C669.5 774.8 667.3 774.9 665.1 774.9C662.9 774.9 660.6 774.7 658.4 774.2C656.3 773.8 653.9 773.2 652.0 772.1C650.1 771.0 648.4 769.3 647.1 767.5C645.7 765.7 644.7 763.5 643.9 761.5C643.1 759.4 642.6 757.2 642.2 755.2C641.7 753.1 641.3 751.2 641.1 749.3C640.8 747.4 640.7 745.6 640.6 743.8C640.5 742.1 640.5 740.3 640.7 738.7C640.8 737.0 641.0 735.4 641.2 733.8Z"/><path d="M649.6 732.4C649.7 731.2 649.9 730.1 650.0 728.9C650.2 727.7 650.4 726.6 650.6 725.4C650.9 724.2 651.2 723.1 651.5 721.9C651.9 720.7 652.2 719.5 652.7 718.3C653.2 717.0 653.7 715.8 654.3 714.5C655.0 713.3 655.7 712.1 656.6 710.9C657.5 709.8 658.5 708.6 659.6 707.6C660.7 706.6 662.0 705.7 663.3 704.9C664.6 704.1 666.1 703.4 667.6 703.0C669.1 702.5 670.7 702.2 672.2 702.1C673.8 702.0 675.4 702.0 677.0 702.2C678.6 702.5 680.2 702.9 681.6 703.6C683.0 704.2 684.4 705.2 685.6 706.3C686.7 707.3 687.8 708.5 688.7 709.8C689.6 711.0 690.4 712.3 691.1 713.5C691.8 714.8 692.4 716.1 692.9 717.4C693.4 718.7 693.8 720.0 694.2 721.2C694.5 722.5 694.8 723.8 695.0 725.0C695.2 726.3 695.2 727.5 695.3 728.8C695.3 730.0 695.2 731.2 695.2 732.4C695.1 733.6 695.0 734.8 694.9 736.0C694.7 737.2 694.5 738.4 694.3 739.6C694.0 740.8 693.7 742.0 693.3 743.2C692.9 744.3 692.4 745.5 691.9 746.7C691.4 747.9 690.8 749.1 690.1 750.3C689.4 751.4 688.6 752.6 687.7 753.7C686.8 754.8 685.8 755.9 684.7 756.9C683.6 757.9 682.4 758.8 681.1 759.6C679.8 760.4 678.3 761.2 676.9 761.7C675.4 762.3 673.8 762.7 672.2 762.9C670.6 763.1 669.0 763.2 667.4 763.1C665.7 763.0 664.1 762.8 662.5 762.4C660.9 761.9 659.3 761.4 657.9 760.6C656.5 759.7 655.3 758.4 654.3 757.1C653.3 755.8 652.6 754.2 651.9 752.7C651.3 751.2 650.9 749.6 650.5 748.2C650.2 746.7 649.9 745.3 649.7 743.9C649.5 742.5 649.3 741.2 649.2 739.9C649.2 738.6 649.2 737.3 649.2 736.1C649.3 734.8 649.4 733.6 649.6 732.4Z"/><path d="M685.1 732.3C684.8 734.4 684.1 736.6 683.3 738.5C682.4 740.4 681.2 742.1 679.9 743.5C678.6 744.8 677.1 745.9 675.5 746.5C674.0 747.1 672.3 747.4 670.8 747.1C669.2 746.9 667.7 746.2 666.4 745.2C665.1 744.2 663.9 742.7 663.0 741.1C662.1 739.5 661.5 737.4 661.1 735.4C660.8 733.3 660.8 731.0 661.1 728.9C661.4 726.8 662.1 724.6 662.9 722.7C663.8 720.8 665.0 719.1 666.3 717.7C667.6 716.4 669.1 715.3 670.7 714.7C672.2 714.1 673.9 713.8 675.4 714.1C677.0 714.3 678.5 715.0 679.8 716.0C681.1 717.0 682.3 718.5 683.2 720.1C684.1 721.7 684.7 723.8 685.1 725.8C685.4 727.9 685.4 730.2 685.1 732.3Z"/><path d="M600.5 795.4C600.5 792.4 602.3 789.3 604.1 787.6C605.9 785.8 608.8 784.7 611.2 784.7C613.5 784.7 616.5 785.8 618.3 787.6C620.0 789.3 621.7 792.7 621.8 795.4C621.9 798.1 620.6 801.8 619.0 803.9C617.3 806.0 614.4 807.6 611.9 807.9C609.4 808.1 606.0 807.4 604.1 805.3C602.2 803.2 600.5 798.3 600.5 795.4Z"/><path d="M638.0 736.3L640.0 712.3M638.0 750.1L640.0 726.1M632.7 760.9L645.3 742.9M632.7 774.7L645.3 756.7M651.8 722.5L653.8 698.5M651.8 736.3L653.8 712.3M651.8 750.1L653.8 726.1M650.1 764.6L655.5 739.2M650.1 778.4L655.5 753.0M665.6 722.5L667.6 698.5M665.6 736.3L667.6 712.3M665.6 750.1L667.6 726.1M663.9 764.6L669.3 739.2M663.9 778.4L669.3 753.0M594.9 795.6L609.1 786.2M594.9 808.9L609.1 800.0M607.4 796.4L621.2 786.6M608.3 809.8L621.2 800.0M620.0 787.4L633.8 771.6M621.2 797.6L633.8 783.8M621.2 811.4L634.6 796.8M622.0 824.4L634.2 809.8M634.2 789.5L642.7 774.9M633.8 802.0L643.1 787.4M635.0 814.2L644.0 800.0M636.7 826.0L645.2 808.9M637.1 839.8L645.2 822.7M639.5 849.5L643.5 834.9M649.2 791.1L654.1 774.9M650.0 802.5L654.9 786.2M650.4 815.4L657.3 795.2M652.5 826.8L656.9 808.1M652.5 849.5L656.5 821.9M635.4 778.1L641.9 766.8M643.5 782.2L648.4 767.6M684.4 765.5L713.5 766.2M684.4 778.3L713.5 779.0M684.4 791.1L713.5 791.8M689.4 789.2L703.6 765.1M695.1 775.0L702.2 762.2"/><path d="M899.5 671.4C903.5 671.4 907.1 672.1 910.9 674.2C914.7 676.3 918.7 680.4 922.2 684.1C925.8 687.9 929.4 692.4 932.2 696.9C934.9 701.4 937.1 706.4 938.6 711.1C940.0 715.8 940.4 721.9 940.7 725.3C941.0 728.7 940.8 729.2 940.4 731.7C940.0 734.2 939.2 737.4 938.4 740.3C937.5 743.2 936.6 746.1 935.2 749.2C933.9 752.3 932.2 755.9 930.3 759.0C928.4 762.2 926.1 764.7 923.8 767.9C921.4 771.0 918.2 775.1 916.1 777.8C913.9 780.6 912.3 781.9 911.0 784.4C909.7 786.9 908.5 790.2 908.2 793.0C907.8 795.8 908.7 798.8 909.0 801.1C909.3 803.5 910.9 804.2 910.0 807.2C909.1 810.3 905.6 816.5 903.6 819.5C901.6 822.5 899.8 824.0 897.9 825.2C896.0 826.4 893.9 827.1 892.2 826.6C890.6 826.1 889.6 823.3 888.0 822.4C886.3 821.4 884.2 820.7 882.3 820.9C880.4 821.2 878.5 822.1 876.6 823.8C874.7 825.4 873.1 829.1 870.9 830.9C868.8 832.6 866.4 833.7 863.8 834.4C861.2 835.1 857.7 835.7 855.3 835.1C852.9 834.5 851.5 832.2 849.6 830.9C847.7 829.6 846.3 828.1 844.0 827.3C841.6 826.5 838.5 826.3 835.4 825.9C832.4 825.5 828.8 826.0 825.5 825.2C822.2 824.4 818.9 823.1 815.6 820.9C812.2 818.8 808.5 815.5 805.6 812.4C802.8 809.3 800.1 806.0 798.5 802.5C796.9 798.9 796.1 795.1 796.0 791.1C795.8 787.1 796.6 782.1 797.8 778.3C799.1 774.5 801.2 770.6 803.5 768.4C805.7 766.1 808.1 765.3 811.3 764.8C814.5 764.4 818.9 765.7 822.7 765.6C826.4 765.4 830.7 765.3 834.0 764.1C837.3 763.0 840.4 761.1 842.5 758.5C844.7 755.9 845.8 751.6 846.8 748.5C847.7 745.4 847.9 742.8 848.2 740.0C848.5 737.2 848.2 735.6 848.4 731.7C848.5 727.8 848.8 721.9 849.1 716.8C849.5 711.7 849.7 705.7 850.5 701.2C851.4 696.7 852.3 692.8 854.1 689.8C855.9 686.9 858.1 685.2 861.2 683.4C864.3 681.7 868.3 680.7 872.5 679.2C876.8 677.6 882.2 675.5 886.7 674.2C891.2 672.9 895.5 671.4 899.5 671.4Z"/><path d="M899.5 677.7C903.3 678.0 907.3 679.3 910.9 681.3C914.4 683.3 917.7 686.3 920.8 689.8C923.9 693.4 927.0 698.1 929.3 702.6C931.6 707.1 933.7 711.9 934.7 716.8C935.8 721.6 935.9 727.8 935.7 731.7C935.5 735.6 934.4 737.4 933.5 740.3C932.6 743.2 931.6 746.2 930.3 749.2C928.9 752.2 927.3 755.4 925.4 758.2C923.5 761.1 921.5 763.4 918.9 766.3C916.3 769.3 913.0 773.1 910.0 776.0C907.0 778.9 903.7 781.7 900.9 783.9C898.0 786.1 895.4 787.6 892.7 789.0C890.0 790.3 887.5 791.2 884.6 792.0C881.8 792.8 878.7 793.4 875.5 793.5C872.3 793.7 868.4 793.2 865.4 793.0C862.3 792.8 859.4 791.6 857.2 792.2C855.1 792.8 854.0 794.6 852.5 796.8C851.0 799.0 849.9 802.7 848.2 805.3C846.6 807.9 844.9 810.6 842.5 812.4C840.2 814.2 836.9 815.7 834.0 816.0C831.2 816.2 828.1 815.4 825.5 813.8C822.9 812.3 820.1 809.6 818.4 806.7C816.7 803.9 815.8 800.1 815.6 796.8C815.3 793.5 815.8 789.7 817.0 786.9C818.2 784.0 820.5 781.4 822.7 779.8C824.8 778.1 826.9 777.6 829.8 777.2C832.6 776.8 836.9 777.9 839.7 777.6C842.5 777.3 845.3 777.5 846.8 775.5C848.3 773.5 848.2 769.1 848.9 765.6C849.6 762.0 850.5 758.5 851.1 754.2C851.6 749.9 852.0 743.7 852.5 740.0C853.0 736.3 853.7 736.3 854.1 731.7C854.5 727.1 854.2 718.1 854.8 712.5C855.4 707.0 856.1 702.1 857.6 698.3C859.2 694.5 861.1 692.2 864.0 689.8C867.0 687.5 871.4 685.8 875.4 684.1C879.4 682.5 884.1 680.9 888.2 679.9C892.2 678.8 895.7 677.5 899.5 677.7Z"/><path d="M899.5 683.9C903.1 684.2 906.4 684.6 909.5 686.3C912.5 688.0 915.4 690.9 918.0 694.1C920.6 697.3 923.1 701.2 925.1 705.4C927.1 709.7 929.0 715.3 930.0 719.6C931.0 724.0 931.4 728.3 931.0 731.7C930.7 735.1 929.0 737.5 927.9 740.3C926.9 743.1 925.9 745.7 924.6 748.4C923.2 751.1 921.7 753.9 919.8 756.5C917.9 759.1 915.5 761.7 913.3 763.8C911.2 765.9 908.9 767.4 906.8 769.2C904.8 770.9 902.9 772.8 900.9 774.3C898.8 775.7 897.3 776.9 894.8 777.8C892.2 778.7 888.5 779.6 885.6 779.8C882.8 780.1 880.2 779.8 877.5 779.3C874.8 778.8 871.8 778.1 869.4 776.8C867.0 775.5 864.9 774.1 863.3 771.7C861.7 769.4 860.6 766.1 859.8 762.6C858.9 759.0 858.4 755.6 858.3 750.4C858.1 745.2 858.3 737.0 858.8 731.4C859.2 725.8 860.4 721.4 861.2 716.8C861.9 712.2 862.1 707.8 863.3 704.0C864.5 700.2 866.0 696.8 868.3 694.1C870.5 691.4 873.5 689.3 876.8 687.7C880.1 686.1 884.4 685.1 888.2 684.4C891.9 683.8 896.0 683.5 899.5 683.9Z"/><path d="M864.6 734.6C864.7 733.1 864.8 731.5 864.9 730.0C865.1 728.4 865.3 726.9 865.6 725.3C865.9 723.8 866.2 722.2 866.6 720.5C866.9 718.9 867.2 717.2 867.6 715.3C867.9 713.4 868.1 711.2 868.8 709.2C869.4 707.1 870.1 704.9 871.2 703.0C872.3 701.1 873.8 699.2 875.4 697.7C877.1 696.3 879.1 695.1 881.1 694.2C883.1 693.2 885.3 692.6 887.5 692.1C889.7 691.6 892.0 691.2 894.2 691.1C896.5 691.0 898.8 691.0 901.1 691.4C903.3 691.8 905.6 692.4 907.6 693.6C909.5 694.7 911.3 696.5 912.8 698.1C914.4 699.8 915.7 701.6 916.9 703.4C918.1 705.2 919.1 707.1 920.0 708.9C920.9 710.7 921.6 712.5 922.2 714.3C922.9 716.1 923.4 717.8 923.8 719.6C924.2 721.3 924.6 723.0 924.7 724.7C924.9 726.4 925.1 728.1 924.9 729.8C924.7 731.4 924.2 733.1 923.7 734.6C923.2 736.2 922.6 737.6 922.0 739.0C921.5 740.5 921.1 741.8 920.5 743.2C919.9 744.5 919.3 745.8 918.6 747.1C918.0 748.3 917.3 749.6 916.5 750.8C915.7 752.0 914.8 753.1 913.8 754.3C912.9 755.4 911.9 756.5 910.9 757.5C909.8 758.6 908.7 759.6 907.4 760.6C906.2 761.6 905.0 762.6 903.7 763.7C902.3 764.7 900.9 766.0 899.4 767.0C897.8 767.9 896.0 768.9 894.2 769.5C892.4 770.1 890.5 770.4 888.5 770.6C886.6 770.7 884.6 770.6 882.6 770.4C880.7 770.1 878.7 769.6 876.8 768.8C875.0 768.1 873.0 767.2 871.5 765.9C870.0 764.6 868.8 762.8 867.8 761.0C866.9 759.3 866.4 757.1 865.9 755.2C865.4 753.3 865.1 751.4 864.9 749.6C864.7 747.8 864.6 746.0 864.5 744.3C864.5 742.6 864.5 741.0 864.5 739.3C864.5 737.7 864.6 736.2 864.6 734.6Z"/><path d="M871.5 732.0C871.6 730.8 871.6 729.6 871.8 728.4C871.9 727.2 872.1 726.0 872.3 724.8C872.6 723.6 872.9 722.4 873.2 721.2C873.5 719.9 873.8 718.6 874.1 717.2C874.5 715.9 874.8 714.3 875.3 712.8C875.8 711.4 876.5 709.8 877.4 708.4C878.2 707.1 879.3 705.7 880.5 704.6C881.7 703.5 883.2 702.6 884.7 701.8C886.2 701.1 887.8 700.5 889.4 700.1C891.1 699.7 892.8 699.4 894.5 699.2C896.2 699.1 898.0 699.1 899.6 699.4C901.3 699.7 903.0 700.2 904.5 701.1C906.0 701.9 907.4 703.1 908.6 704.3C909.8 705.5 910.9 706.9 911.8 708.2C912.7 709.5 913.5 710.9 914.2 712.3C914.9 713.7 915.5 715.1 916.0 716.4C916.4 717.8 916.9 719.1 917.2 720.5C917.5 721.8 917.8 723.1 917.9 724.4C918.0 725.7 918.2 727.0 918.1 728.3C918.0 729.6 917.7 730.8 917.4 732.0C917.1 733.2 916.7 734.4 916.3 735.5C916.0 736.6 915.7 737.7 915.3 738.8C914.9 739.9 914.4 740.9 914.0 741.9C913.5 743.0 912.9 744.0 912.4 745.0C911.8 746.0 911.1 747.0 910.4 747.9C909.7 748.9 908.9 749.8 908.1 750.7C907.2 751.6 906.3 752.5 905.3 753.3C904.3 754.2 903.3 755.0 902.2 755.8C901.1 756.6 899.9 757.6 898.6 758.2C897.3 758.9 895.9 759.6 894.5 759.9C893.0 760.3 891.5 760.5 890.0 760.5C888.5 760.5 886.9 760.3 885.4 760.0C883.9 759.6 882.4 759.1 881.0 758.4C879.6 757.7 878.3 756.9 877.2 755.9C876.1 754.8 875.1 753.5 874.4 752.1C873.7 750.8 873.2 749.2 872.8 747.8C872.4 746.3 872.1 744.9 871.9 743.5C871.7 742.1 871.6 740.8 871.5 739.5C871.4 738.2 871.4 736.9 871.4 735.7C871.4 734.4 871.4 733.2 871.5 732.0Z"/><path d="M909.2 730.7C908.8 733.2 908.1 735.7 907.0 737.9C906.0 740.0 904.6 742.1 903.1 743.6C901.5 745.2 899.6 746.4 897.8 747.1C896.0 747.8 893.9 748.1 892.1 747.8C890.3 747.6 888.4 746.8 886.8 745.6C885.3 744.4 883.8 742.7 882.7 740.8C881.7 738.9 880.9 736.5 880.5 734.1C880.1 731.8 880.1 729.1 880.4 726.7C880.8 724.2 881.5 721.7 882.6 719.5C883.6 717.4 885.0 715.3 886.5 713.8C888.1 712.2 890.0 711.0 891.8 710.3C893.6 709.6 895.7 709.3 897.5 709.6C899.3 709.8 901.2 710.6 902.8 711.8C904.3 713.0 905.8 714.7 906.9 716.6C907.9 718.5 908.7 720.9 909.1 723.3C909.5 725.6 909.5 728.3 909.2 730.7Z"/><path d="M856.2 807.9L863.4 778.7M856.2 821.7L863.4 792.5M856.2 835.5L863.4 806.3M870.0 780.3L877.2 751.1M870.0 794.1L877.2 764.9M870.0 807.9L877.2 778.7M870.0 821.7L877.2 792.5M870.0 835.5L877.2 806.3M870.0 849.3L877.2 820.1M870.0 863.1L877.2 833.9M883.8 794.1L891.0 764.9M883.8 807.9L891.0 778.7M883.8 821.7L891.0 792.5M883.8 835.5L891.0 806.3M883.8 849.3L891.0 820.1M883.8 863.1L891.0 833.9M883.8 876.9L891.0 847.7M811.3 795.4L832.6 786.9M811.3 809.6L844.7 797.9M826.2 811.0L836.9 803.9M873.8 751.4L880.9 744.3"/></g><text x="536.5" y="563" font-size="22.8" text-anchor="middle">1959+650</text><g font-size="18.5"><text x="66" y="646.1" text-anchor="end">0.5</text><text x="66" y="739.5" text-anchor="end">0.0</text><text x="66" y="832.9" text-anchor="end">-0.5</text><text x="66" y="926.3" text-anchor="end">-1.0</text><text transform="translate(13.6,780.3) rotate(-90) scale(1.0,0.92)" text-anchor="middle">Milliarcseconds</text><text x="129" y="604.7">25 Jul 2023</text><text x="129" y="632">60149</text><text x="575.5" y="604">13 Oct 2023</text><text x="575.5" y="632">60230</text><text x="799.5" y="604">21 Oct 2023</text><text x="799.5" y="632">60238</text><text x="350" y="619" style="fill:#c2c224;stroke:#c2c224">Knot J2</text><text x="350" y="638" style="fill:#b8143c;stroke:#b8143c">Knot J1</text><text x="350" y="721.5">Core A0</text><text x="296" y="926.9">2</text><text x="545" y="926.9">5 mJy/beam</text></g><rect x="285.30" y="937.7" width="28.27" height="28.8" fill="#e6e6a1"/><rect x="313.27" y="937.7" width="28.27" height="28.8" fill="#cccc38"/><rect x="341.24" y="937.7" width="28.27" height="28.8" fill="#b3b324"/><rect x="369.21" y="937.7" width="28.27" height="28.8" fill="#999999"/><rect x="397.18" y="937.7" width="28.27" height="28.8" fill="#8080ff"/><rect x="425.15" y="937.7" width="28.27" height="28.8" fill="#6666cc"/><rect x="453.12" y="937.7" width="28.27" height="28.8" fill="#4d4d99"/><rect x="481.09" y="937.7" width="28.27" height="28.8" fill="#403366"/><rect x="509.06" y="937.7" width="28.27" height="28.8" fill="#c41a33"/><rect x="537.03" y="937.7" width="28.27" height="28.8" fill="#000000"/><clipPath id="bm2"><ellipse cx="127.5" cy="936.6" rx="16.2" ry="23" transform="rotate(5 127.5 936.6)"/></clipPath><g clip-path="url(#bm2)"><path d="M108.3 914.50h38.4M108.3 916.46h38.4M108.3 918.42h38.4M108.3 920.38h38.4M108.3 922.34h38.4M108.3 924.30h38.4M108.3 926.26h38.4M108.3 928.22h38.4M108.3 930.18h38.4M108.3 932.14h38.4M108.3 934.10h38.4M108.3 936.06h38.4M108.3 938.02h38.4M108.3 939.98h38.4M108.3 941.94h38.4M108.3 943.90h38.4M108.3 945.86h38.4M108.3 947.82h38.4M108.3 949.78h38.4M108.3 951.74h38.4M108.3 953.70h38.4M108.3 955.66h38.4M108.3 957.62h38.4M108.3 959.58h38.4M108.3 961.54h38.4" stroke="#000" stroke-width="1.12" fill="none"/></g><ellipse cx="127.5" cy="936.6" rx="16.2" ry="23" transform="rotate(5 127.5 936.6)" fill="none" stroke="#000" stroke-width="1"/><g fill="none"><circle cx="200.8" cy="807.1" r="38.4" stroke="#b8143c" stroke-width="4"/><circle cx="214.4" cy="747.7" r="5.5" stroke="#c8c828" stroke-width="3.7"/><circle cx="639.0" cy="796.7" r="34.3" stroke="#b8143c" stroke-width="3.9"/><circle cx="651.3" cy="741.2" r="7.3" stroke="#c8c828" stroke-width="3.7"/><circle cx="874.5" cy="800.9" r="36.5" stroke="#b8143c" stroke-width="3.9"/><circle cx="879.6" cy="748.7" r="8.4" stroke="#c8c828" stroke-width="3.9"/></g></g></svg></body></html>
